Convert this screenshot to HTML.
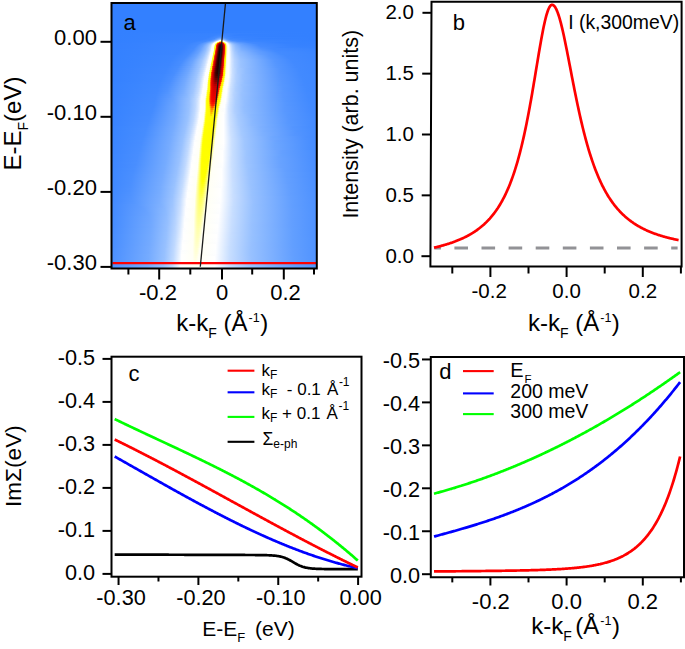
<!DOCTYPE html>
<html><head><meta charset="utf-8"><style>
html,body{margin:0;padding:0;background:#fff;width:685px;height:649px;overflow:hidden}
svg{display:block}
text{font-family:"Liberation Sans", sans-serif;fill:#000}
</style></head><body>
<svg width="685" height="649" viewBox="0 0 685 649">
<defs>
<linearGradient id="g0"><stop offset="0.0000" stop-color="#3380ff"/><stop offset="0.5805" stop-color="#3481ff"/><stop offset="1.0000" stop-color="#3380ff"/></linearGradient>
<linearGradient id="g1"><stop offset="0.0000" stop-color="#3380ff"/><stop offset="0.5073" stop-color="#3682ff"/><stop offset="0.5512" stop-color="#3883ff"/><stop offset="0.8537" stop-color="#3380ff"/><stop offset="1.0000" stop-color="#3380ff"/></linearGradient>
<linearGradient id="g2"><stop offset="0.0000" stop-color="#3380ff"/><stop offset="0.5024" stop-color="#3783ff"/><stop offset="0.5415" stop-color="#3c86ff"/><stop offset="0.6244" stop-color="#3481ff"/><stop offset="1.0000" stop-color="#3380ff"/></linearGradient>
<linearGradient id="g3"><stop offset="0.0000" stop-color="#3380ff"/><stop offset="0.4927" stop-color="#3783ff"/><stop offset="0.5366" stop-color="#4189ff"/><stop offset="0.6000" stop-color="#3581ff"/><stop offset="1.0000" stop-color="#3380ff"/></linearGradient>
<linearGradient id="g4"><stop offset="0.0000" stop-color="#3380ff"/><stop offset="0.4829" stop-color="#3783ff"/><stop offset="0.5220" stop-color="#448bff"/><stop offset="0.5366" stop-color="#4b8fff"/><stop offset="0.5707" stop-color="#3a84ff"/><stop offset="0.7561" stop-color="#3380ff"/><stop offset="1.0000" stop-color="#3380ff"/></linearGradient>
<linearGradient id="g5"><stop offset="0.0000" stop-color="#3380ff"/><stop offset="0.4732" stop-color="#3883ff"/><stop offset="0.5122" stop-color="#458cff"/><stop offset="0.5317" stop-color="#5d9bff"/><stop offset="0.5415" stop-color="#5898ff"/><stop offset="0.5561" stop-color="#438bff"/><stop offset="0.6000" stop-color="#3883ff"/><stop offset="1.0000" stop-color="#3380ff"/></linearGradient>
<linearGradient id="g6"><stop offset="0.0000" stop-color="#3380ff"/><stop offset="0.4585" stop-color="#3883ff"/><stop offset="0.5024" stop-color="#448bff"/><stop offset="0.5268" stop-color="#74aaff"/><stop offset="0.5317" stop-color="#79adff"/><stop offset="0.5366" stop-color="#78acff"/><stop offset="0.5610" stop-color="#498eff"/><stop offset="0.5805" stop-color="#3d87ff"/><stop offset="0.7220" stop-color="#3481ff"/><stop offset="1.0000" stop-color="#3380ff"/></linearGradient>
<linearGradient id="g7"><stop offset="0.0000" stop-color="#3380ff"/><stop offset="0.4439" stop-color="#3883ff"/><stop offset="0.4878" stop-color="#428aff"/><stop offset="0.5024" stop-color="#5596ff"/><stop offset="0.5122" stop-color="#6ea6ff"/><stop offset="0.5268" stop-color="#a0c6ff"/><stop offset="0.5317" stop-color="#a9cbff"/><stop offset="0.5366" stop-color="#a6caff"/><stop offset="0.5610" stop-color="#5b9aff"/><stop offset="0.5756" stop-color="#448bff"/><stop offset="0.6537" stop-color="#3883ff"/><stop offset="1.0000" stop-color="#3380ff"/></linearGradient>
<linearGradient id="g8"><stop offset="0.0000" stop-color="#3380ff"/><stop offset="0.4293" stop-color="#3984ff"/><stop offset="0.4780" stop-color="#468cff"/><stop offset="0.4976" stop-color="#649fff"/><stop offset="0.5073" stop-color="#86b5ff"/><stop offset="0.5122" stop-color="#9dc4ff"/><stop offset="0.5268" stop-color="#fafcff"/><stop offset="0.5366" stop-color="#ffffff"/><stop offset="0.5415" stop-color="#ecf4ff"/><stop offset="0.5512" stop-color="#abcdff"/><stop offset="0.5610" stop-color="#7bafff"/><stop offset="0.5707" stop-color="#5e9cff"/><stop offset="0.5902" stop-color="#478dff"/><stop offset="0.6585" stop-color="#3a85ff"/><stop offset="0.9707" stop-color="#3380ff"/><stop offset="1.0000" stop-color="#3380ff"/></linearGradient>
<linearGradient id="g9"><stop offset="0.0000" stop-color="#3380ff"/><stop offset="0.4049" stop-color="#3984ff"/><stop offset="0.4585" stop-color="#448bff"/><stop offset="0.4829" stop-color="#64a0ff"/><stop offset="0.4927" stop-color="#7bafff"/><stop offset="0.4976" stop-color="#8cbaff"/><stop offset="0.5024" stop-color="#a6c9ff"/><stop offset="0.5073" stop-color="#c8deff"/><stop offset="0.5122" stop-color="#f8fbff"/><stop offset="0.5171" stop-color="#fffffb"/><stop offset="0.5220" stop-color="#fffff6"/><stop offset="0.5268" stop-color="#ffff66"/><stop offset="0.5317" stop-color="#ffff00"/><stop offset="0.5366" stop-color="#ffff28"/><stop offset="0.5415" stop-color="#ffffc0"/><stop offset="0.5463" stop-color="#fffff8"/><stop offset="0.5512" stop-color="#fffffe"/><stop offset="0.5610" stop-color="#b3d2ff"/><stop offset="0.5659" stop-color="#96c0ff"/><stop offset="0.5707" stop-color="#81b3ff"/><stop offset="0.5854" stop-color="#629eff"/><stop offset="0.6146" stop-color="#498eff"/><stop offset="0.6829" stop-color="#3c86ff"/><stop offset="0.9366" stop-color="#3481ff"/><stop offset="1.0000" stop-color="#3480ff"/></linearGradient>
<linearGradient id="g10"><stop offset="0.0000" stop-color="#3380ff"/><stop offset="0.3902" stop-color="#3a84ff"/><stop offset="0.4439" stop-color="#478dff"/><stop offset="0.4683" stop-color="#64a0ff"/><stop offset="0.4829" stop-color="#85b5ff"/><stop offset="0.4927" stop-color="#a8cbff"/><stop offset="0.4976" stop-color="#c5dcff"/><stop offset="0.5024" stop-color="#f2f7ff"/><stop offset="0.5073" stop-color="#fffffb"/><stop offset="0.5122" stop-color="#ffffe5"/><stop offset="0.5171" stop-color="#fffd00"/><stop offset="0.5220" stop-color="#ffb700"/><stop offset="0.5268" stop-color="#f30900"/><stop offset="0.5317" stop-color="#e70000"/><stop offset="0.5366" stop-color="#ee0000"/><stop offset="0.5415" stop-color="#ff4a00"/><stop offset="0.5463" stop-color="#fffb00"/><stop offset="0.5512" stop-color="#ffff8a"/><stop offset="0.5561" stop-color="#fffff9"/><stop offset="0.5610" stop-color="#fffffe"/><stop offset="0.5659" stop-color="#d2e4ff"/><stop offset="0.5707" stop-color="#b0d0ff"/><stop offset="0.5756" stop-color="#9bc3ff"/><stop offset="0.5902" stop-color="#77acff"/><stop offset="0.6098" stop-color="#5f9cff"/><stop offset="0.6634" stop-color="#448bff"/><stop offset="0.8146" stop-color="#3682ff"/><stop offset="1.0000" stop-color="#3481ff"/></linearGradient>
<linearGradient id="g11"><stop offset="0.0000" stop-color="#3480ff"/><stop offset="0.3756" stop-color="#3a85ff"/><stop offset="0.4293" stop-color="#458cff"/><stop offset="0.4585" stop-color="#66a1ff"/><stop offset="0.4780" stop-color="#93beff"/><stop offset="0.4878" stop-color="#b9d5ff"/><stop offset="0.4927" stop-color="#d3e5ff"/><stop offset="0.4976" stop-color="#ffffff"/><stop offset="0.5024" stop-color="#fffffa"/><stop offset="0.5073" stop-color="#ffffa8"/><stop offset="0.5122" stop-color="#fffb00"/><stop offset="0.5171" stop-color="#fa1c00"/><stop offset="0.5220" stop-color="#d20000"/><stop offset="0.5268" stop-color="#a50000"/><stop offset="0.5317" stop-color="#8a0000"/><stop offset="0.5366" stop-color="#9b0000"/><stop offset="0.5415" stop-color="#ca0000"/><stop offset="0.5463" stop-color="#f30700"/><stop offset="0.5512" stop-color="#fff900"/><stop offset="0.5561" stop-color="#ffff66"/><stop offset="0.5610" stop-color="#fffff8"/><stop offset="0.5659" stop-color="#fffffe"/><stop offset="0.5707" stop-color="#dbe9ff"/><stop offset="0.5756" stop-color="#bfd9ff"/><stop offset="0.5854" stop-color="#9ac2ff"/><stop offset="0.6000" stop-color="#7cafff"/><stop offset="0.6244" stop-color="#639fff"/><stop offset="0.6927" stop-color="#438aff"/><stop offset="0.8488" stop-color="#3682ff"/><stop offset="1.0000" stop-color="#3481ff"/></linearGradient>
<linearGradient id="g12"><stop offset="0.0000" stop-color="#3480ff"/><stop offset="0.3659" stop-color="#3a85ff"/><stop offset="0.4195" stop-color="#458bff"/><stop offset="0.4488" stop-color="#629fff"/><stop offset="0.4683" stop-color="#89b7ff"/><stop offset="0.4780" stop-color="#a6caff"/><stop offset="0.4878" stop-color="#d2e4ff"/><stop offset="0.4927" stop-color="#f3f8ff"/><stop offset="0.4976" stop-color="#fffffc"/><stop offset="0.5024" stop-color="#fffff5"/><stop offset="0.5073" stop-color="#fffe00"/><stop offset="0.5122" stop-color="#ff7b00"/><stop offset="0.5171" stop-color="#da0000"/><stop offset="0.5268" stop-color="#590000"/><stop offset="0.5317" stop-color="#440000"/><stop offset="0.5366" stop-color="#550000"/><stop offset="0.5463" stop-color="#d60000"/><stop offset="0.5512" stop-color="#ff5100"/><stop offset="0.5561" stop-color="#fffd00"/><stop offset="0.5610" stop-color="#ffffef"/><stop offset="0.5659" stop-color="#fffffb"/><stop offset="0.5707" stop-color="#f7faff"/><stop offset="0.5756" stop-color="#d6e6ff"/><stop offset="0.5854" stop-color="#accdff"/><stop offset="0.5951" stop-color="#92bdff"/><stop offset="0.6146" stop-color="#76abff"/><stop offset="0.6488" stop-color="#5d9bff"/><stop offset="0.7171" stop-color="#428aff"/><stop offset="0.8878" stop-color="#3682ff"/><stop offset="1.0000" stop-color="#3581ff"/></linearGradient>
<linearGradient id="g13"><stop offset="0.0000" stop-color="#3480ff"/><stop offset="0.3610" stop-color="#3b85ff"/><stop offset="0.4146" stop-color="#468cff"/><stop offset="0.4439" stop-color="#639fff"/><stop offset="0.4634" stop-color="#87b6ff"/><stop offset="0.4732" stop-color="#a1c6ff"/><stop offset="0.4829" stop-color="#c7ddff"/><stop offset="0.4927" stop-color="#fffffe"/><stop offset="0.4976" stop-color="#fffff9"/><stop offset="0.5024" stop-color="#ffffa5"/><stop offset="0.5073" stop-color="#fffb00"/><stop offset="0.5122" stop-color="#f81400"/><stop offset="0.5171" stop-color="#c70000"/><stop offset="0.5220" stop-color="#740000"/><stop offset="0.5268" stop-color="#3b0000"/><stop offset="0.5317" stop-color="#290000"/><stop offset="0.5366" stop-color="#3c0000"/><stop offset="0.5415" stop-color="#780000"/><stop offset="0.5463" stop-color="#c90000"/><stop offset="0.5512" stop-color="#f91800"/><stop offset="0.5561" stop-color="#fffb00"/><stop offset="0.5610" stop-color="#ffffb0"/><stop offset="0.5659" stop-color="#fffffa"/><stop offset="0.5707" stop-color="#ffffff"/><stop offset="0.5805" stop-color="#c8deff"/><stop offset="0.5902" stop-color="#a6caff"/><stop offset="0.6049" stop-color="#89b7ff"/><stop offset="0.6341" stop-color="#6ba4ff"/><stop offset="0.7171" stop-color="#448bff"/><stop offset="0.8780" stop-color="#3782ff"/><stop offset="1.0000" stop-color="#3581ff"/></linearGradient>
<linearGradient id="g14"><stop offset="0.0000" stop-color="#3480ff"/><stop offset="0.3561" stop-color="#3b85ff"/><stop offset="0.4098" stop-color="#468cff"/><stop offset="0.4439" stop-color="#68a2ff"/><stop offset="0.4683" stop-color="#99c2ff"/><stop offset="0.4780" stop-color="#bad6ff"/><stop offset="0.4829" stop-color="#cfe2ff"/><stop offset="0.4878" stop-color="#edf4ff"/><stop offset="0.4927" stop-color="#fffffd"/><stop offset="0.4976" stop-color="#fffff8"/><stop offset="0.5024" stop-color="#ffff60"/><stop offset="0.5073" stop-color="#fff900"/><stop offset="0.5122" stop-color="#ee0000"/><stop offset="0.5171" stop-color="#b80000"/><stop offset="0.5220" stop-color="#5e0000"/><stop offset="0.5268" stop-color="#2c0000"/><stop offset="0.5317" stop-color="#1c0000"/><stop offset="0.5366" stop-color="#310000"/><stop offset="0.5415" stop-color="#6b0000"/><stop offset="0.5463" stop-color="#c30000"/><stop offset="0.5512" stop-color="#f50e00"/><stop offset="0.5561" stop-color="#fffb00"/><stop offset="0.5610" stop-color="#ffff95"/><stop offset="0.5659" stop-color="#fffff9"/><stop offset="0.5707" stop-color="#fffffe"/><stop offset="0.5805" stop-color="#cde1ff"/><stop offset="0.5902" stop-color="#abcdff"/><stop offset="0.6049" stop-color="#8dbaff"/><stop offset="0.6341" stop-color="#70a7ff"/><stop offset="0.7268" stop-color="#458bff"/><stop offset="0.8878" stop-color="#3783ff"/><stop offset="1.0000" stop-color="#3682ff"/></linearGradient>
<linearGradient id="g15"><stop offset="0.0000" stop-color="#3480ff"/><stop offset="0.3512" stop-color="#3b85ff"/><stop offset="0.4049" stop-color="#458cff"/><stop offset="0.4390" stop-color="#66a1ff"/><stop offset="0.4634" stop-color="#92bdff"/><stop offset="0.4780" stop-color="#c0d9ff"/><stop offset="0.4829" stop-color="#d6e7ff"/><stop offset="0.4878" stop-color="#f4f9ff"/><stop offset="0.4927" stop-color="#fffffd"/><stop offset="0.4976" stop-color="#fffff7"/><stop offset="0.5024" stop-color="#ffff22"/><stop offset="0.5073" stop-color="#fff800"/><stop offset="0.5122" stop-color="#e70000"/><stop offset="0.5171" stop-color="#a90000"/><stop offset="0.5220" stop-color="#4f0000"/><stop offset="0.5268" stop-color="#230000"/><stop offset="0.5317" stop-color="#160000"/><stop offset="0.5366" stop-color="#2d0000"/><stop offset="0.5415" stop-color="#670000"/><stop offset="0.5463" stop-color="#c20000"/><stop offset="0.5512" stop-color="#f40b00"/><stop offset="0.5561" stop-color="#fffa00"/><stop offset="0.5610" stop-color="#ffff8b"/><stop offset="0.5659" stop-color="#fffff9"/><stop offset="0.5707" stop-color="#fffffe"/><stop offset="0.5756" stop-color="#ecf4ff"/><stop offset="0.5805" stop-color="#d1e3ff"/><stop offset="0.5902" stop-color="#afcfff"/><stop offset="0.6049" stop-color="#91bcff"/><stop offset="0.6341" stop-color="#74aaff"/><stop offset="0.7268" stop-color="#498eff"/><stop offset="0.8244" stop-color="#3b85ff"/><stop offset="1.0000" stop-color="#3682ff"/></linearGradient>
<linearGradient id="g16"><stop offset="0.0000" stop-color="#3480ff"/><stop offset="0.3463" stop-color="#3b85ff"/><stop offset="0.4000" stop-color="#458cff"/><stop offset="0.4341" stop-color="#64a0ff"/><stop offset="0.4585" stop-color="#8cb9ff"/><stop offset="0.4732" stop-color="#b3d1ff"/><stop offset="0.4829" stop-color="#dceaff"/><stop offset="0.4878" stop-color="#fafcff"/><stop offset="0.4976" stop-color="#fffff6"/><stop offset="0.5024" stop-color="#ffff00"/><stop offset="0.5073" stop-color="#ffc200"/><stop offset="0.5122" stop-color="#e00000"/><stop offset="0.5171" stop-color="#9d0000"/><stop offset="0.5220" stop-color="#470000"/><stop offset="0.5268" stop-color="#1d0000"/><stop offset="0.5317" stop-color="#120000"/><stop offset="0.5366" stop-color="#2b0000"/><stop offset="0.5415" stop-color="#660000"/><stop offset="0.5463" stop-color="#c20000"/><stop offset="0.5512" stop-color="#f40c00"/><stop offset="0.5561" stop-color="#fffa00"/><stop offset="0.5610" stop-color="#ffff8a"/><stop offset="0.5659" stop-color="#fffff9"/><stop offset="0.5707" stop-color="#fffffe"/><stop offset="0.5756" stop-color="#eef5ff"/><stop offset="0.5805" stop-color="#d4e5ff"/><stop offset="0.5902" stop-color="#b2d1ff"/><stop offset="0.6049" stop-color="#94beff"/><stop offset="0.6341" stop-color="#78adff"/><stop offset="0.7268" stop-color="#4d91ff"/><stop offset="0.7805" stop-color="#4189ff"/><stop offset="1.0000" stop-color="#3783ff"/></linearGradient>
<linearGradient id="g17"><stop offset="0.0000" stop-color="#3481ff"/><stop offset="0.3415" stop-color="#3b85ff"/><stop offset="0.4000" stop-color="#488dff"/><stop offset="0.4341" stop-color="#67a2ff"/><stop offset="0.4585" stop-color="#90bcff"/><stop offset="0.4732" stop-color="#b7d4ff"/><stop offset="0.4780" stop-color="#c9deff"/><stop offset="0.4878" stop-color="#ffffff"/><stop offset="0.4976" stop-color="#fffff5"/><stop offset="0.5024" stop-color="#fffe00"/><stop offset="0.5073" stop-color="#ff8f00"/><stop offset="0.5122" stop-color="#db0000"/><stop offset="0.5171" stop-color="#930000"/><stop offset="0.5220" stop-color="#410000"/><stop offset="0.5268" stop-color="#180000"/><stop offset="0.5317" stop-color="#100000"/><stop offset="0.5366" stop-color="#2b0000"/><stop offset="0.5415" stop-color="#680000"/><stop offset="0.5463" stop-color="#c30000"/><stop offset="0.5512" stop-color="#f50e00"/><stop offset="0.5561" stop-color="#fffa00"/><stop offset="0.5610" stop-color="#ffff8d"/><stop offset="0.5659" stop-color="#fffff9"/><stop offset="0.5707" stop-color="#fffffd"/><stop offset="0.5756" stop-color="#f0f6ff"/><stop offset="0.5805" stop-color="#d6e6ff"/><stop offset="0.5902" stop-color="#b4d2ff"/><stop offset="0.6049" stop-color="#97c0ff"/><stop offset="0.6341" stop-color="#7cafff"/><stop offset="0.7317" stop-color="#5093ff"/><stop offset="0.7902" stop-color="#4189ff"/><stop offset="1.0000" stop-color="#3984ff"/></linearGradient>
<linearGradient id="g18"><stop offset="0.0000" stop-color="#3481ff"/><stop offset="0.3366" stop-color="#3b85ff"/><stop offset="0.3951" stop-color="#478dff"/><stop offset="0.4341" stop-color="#6ca5ff"/><stop offset="0.4585" stop-color="#94bfff"/><stop offset="0.4732" stop-color="#bcd7ff"/><stop offset="0.4780" stop-color="#cee2ff"/><stop offset="0.4878" stop-color="#fffffe"/><stop offset="0.4927" stop-color="#fffffa"/><stop offset="0.4976" stop-color="#ffffdc"/><stop offset="0.5024" stop-color="#fffd00"/><stop offset="0.5073" stop-color="#ff4700"/><stop offset="0.5122" stop-color="#d40000"/><stop offset="0.5220" stop-color="#3b0000"/><stop offset="0.5268" stop-color="#150000"/><stop offset="0.5317" stop-color="#100000"/><stop offset="0.5366" stop-color="#2e0000"/><stop offset="0.5415" stop-color="#6e0000"/><stop offset="0.5463" stop-color="#c60000"/><stop offset="0.5512" stop-color="#f71300"/><stop offset="0.5561" stop-color="#fffb00"/><stop offset="0.5610" stop-color="#ffff95"/><stop offset="0.5659" stop-color="#fffff9"/><stop offset="0.5707" stop-color="#fffffd"/><stop offset="0.5756" stop-color="#f1f6ff"/><stop offset="0.5805" stop-color="#d7e7ff"/><stop offset="0.5902" stop-color="#b6d3ff"/><stop offset="0.6049" stop-color="#99c2ff"/><stop offset="0.6341" stop-color="#80b2ff"/><stop offset="0.7415" stop-color="#5193ff"/><stop offset="0.8049" stop-color="#4289ff"/><stop offset="1.0000" stop-color="#3a84ff"/></linearGradient>
<linearGradient id="g19"><stop offset="0.0000" stop-color="#3481ff"/><stop offset="0.3317" stop-color="#3b85ff"/><stop offset="0.3902" stop-color="#478dff"/><stop offset="0.4293" stop-color="#6aa4ff"/><stop offset="0.4585" stop-color="#99c2ff"/><stop offset="0.4732" stop-color="#c2dbff"/><stop offset="0.4780" stop-color="#d6e6ff"/><stop offset="0.4829" stop-color="#f0f6ff"/><stop offset="0.4878" stop-color="#fffffd"/><stop offset="0.4927" stop-color="#fffff9"/><stop offset="0.4976" stop-color="#ffffa1"/><stop offset="0.5024" stop-color="#fffb00"/><stop offset="0.5073" stop-color="#fa1b00"/><stop offset="0.5122" stop-color="#ca0000"/><stop offset="0.5171" stop-color="#770000"/><stop offset="0.5220" stop-color="#330000"/><stop offset="0.5268" stop-color="#120000"/><stop offset="0.5317" stop-color="#120000"/><stop offset="0.5366" stop-color="#330000"/><stop offset="0.5415" stop-color="#770000"/><stop offset="0.5463" stop-color="#ca0000"/><stop offset="0.5512" stop-color="#fa1a00"/><stop offset="0.5561" stop-color="#fffb00"/><stop offset="0.5610" stop-color="#ffffa0"/><stop offset="0.5659" stop-color="#fffff9"/><stop offset="0.5707" stop-color="#fffffd"/><stop offset="0.5756" stop-color="#f2f7ff"/><stop offset="0.5854" stop-color="#c6ddff"/><stop offset="0.6000" stop-color="#a4c8ff"/><stop offset="0.6195" stop-color="#8dbaff"/><stop offset="0.7024" stop-color="#649fff"/><stop offset="0.8000" stop-color="#438bff"/><stop offset="1.0000" stop-color="#3a85ff"/></linearGradient>
<linearGradient id="g20"><stop offset="0.0000" stop-color="#3481ff"/><stop offset="0.3268" stop-color="#3b85ff"/><stop offset="0.3854" stop-color="#478dff"/><stop offset="0.4244" stop-color="#69a3ff"/><stop offset="0.4537" stop-color="#95bfff"/><stop offset="0.4683" stop-color="#b8d5ff"/><stop offset="0.4780" stop-color="#deebff"/><stop offset="0.4829" stop-color="#f8fbff"/><stop offset="0.4878" stop-color="#fffffd"/><stop offset="0.4927" stop-color="#fffff8"/><stop offset="0.4976" stop-color="#ffff60"/><stop offset="0.5024" stop-color="#fffa00"/><stop offset="0.5073" stop-color="#f30700"/><stop offset="0.5122" stop-color="#c20000"/><stop offset="0.5171" stop-color="#690000"/><stop offset="0.5220" stop-color="#2d0000"/><stop offset="0.5268" stop-color="#110000"/><stop offset="0.5317" stop-color="#150000"/><stop offset="0.5366" stop-color="#390000"/><stop offset="0.5415" stop-color="#800000"/><stop offset="0.5463" stop-color="#cf0000"/><stop offset="0.5512" stop-color="#fd2200"/><stop offset="0.5561" stop-color="#fffc00"/><stop offset="0.5610" stop-color="#ffffac"/><stop offset="0.5659" stop-color="#fffff9"/><stop offset="0.5707" stop-color="#fffffd"/><stop offset="0.5756" stop-color="#f2f7ff"/><stop offset="0.5854" stop-color="#c8deff"/><stop offset="0.6000" stop-color="#a7caff"/><stop offset="0.6195" stop-color="#90bcff"/><stop offset="0.7122" stop-color="#639fff"/><stop offset="0.8098" stop-color="#448bff"/><stop offset="1.0000" stop-color="#3b85ff"/></linearGradient>
<linearGradient id="g21"><stop offset="0.0000" stop-color="#3481ff"/><stop offset="0.3220" stop-color="#3b85ff"/><stop offset="0.3805" stop-color="#478dff"/><stop offset="0.4195" stop-color="#67a2ff"/><stop offset="0.4537" stop-color="#99c2ff"/><stop offset="0.4683" stop-color="#bed8ff"/><stop offset="0.4732" stop-color="#cee2ff"/><stop offset="0.4829" stop-color="#ffffff"/><stop offset="0.4927" stop-color="#fffff6"/><stop offset="0.4976" stop-color="#ffff11"/><stop offset="0.5024" stop-color="#fff800"/><stop offset="0.5073" stop-color="#ea0000"/><stop offset="0.5122" stop-color="#b50000"/><stop offset="0.5171" stop-color="#5c0000"/><stop offset="0.5220" stop-color="#280000"/><stop offset="0.5268" stop-color="#100000"/><stop offset="0.5317" stop-color="#190000"/><stop offset="0.5366" stop-color="#3f0000"/><stop offset="0.5463" stop-color="#d30000"/><stop offset="0.5512" stop-color="#ff2e00"/><stop offset="0.5561" stop-color="#fffc00"/><stop offset="0.5610" stop-color="#ffffb8"/><stop offset="0.5659" stop-color="#fffff9"/><stop offset="0.5707" stop-color="#fffffd"/><stop offset="0.5756" stop-color="#f3f8ff"/><stop offset="0.5854" stop-color="#cadfff"/><stop offset="0.6000" stop-color="#a9cbff"/><stop offset="0.6195" stop-color="#93beff"/><stop offset="0.7220" stop-color="#629eff"/><stop offset="0.8195" stop-color="#448bff"/><stop offset="1.0000" stop-color="#3b85ff"/></linearGradient>
<linearGradient id="g22"><stop offset="0.0000" stop-color="#3481ff"/><stop offset="0.3171" stop-color="#3b85ff"/><stop offset="0.3756" stop-color="#478dff"/><stop offset="0.4195" stop-color="#6ca5ff"/><stop offset="0.4537" stop-color="#9ec5ff"/><stop offset="0.4683" stop-color="#c3dbff"/><stop offset="0.4829" stop-color="#fffffe"/><stop offset="0.4927" stop-color="#fffff5"/><stop offset="0.4976" stop-color="#fffe00"/><stop offset="0.5024" stop-color="#ffaf00"/><stop offset="0.5073" stop-color="#e20000"/><stop offset="0.5122" stop-color="#a60000"/><stop offset="0.5171" stop-color="#500000"/><stop offset="0.5220" stop-color="#230000"/><stop offset="0.5268" stop-color="#100000"/><stop offset="0.5317" stop-color="#1d0000"/><stop offset="0.5366" stop-color="#450000"/><stop offset="0.5415" stop-color="#930000"/><stop offset="0.5463" stop-color="#d80000"/><stop offset="0.5512" stop-color="#ff5000"/><stop offset="0.5561" stop-color="#fffc00"/><stop offset="0.5610" stop-color="#ffffc5"/><stop offset="0.5659" stop-color="#fffffa"/><stop offset="0.5707" stop-color="#fffffe"/><stop offset="0.5756" stop-color="#f4f8ff"/><stop offset="0.5854" stop-color="#cbe0ff"/><stop offset="0.6000" stop-color="#abcdff"/><stop offset="0.6195" stop-color="#95bfff"/><stop offset="0.7317" stop-color="#609dff"/><stop offset="0.8293" stop-color="#438bff"/><stop offset="1.0000" stop-color="#3c86ff"/></linearGradient>
<linearGradient id="g23"><stop offset="0.0000" stop-color="#3481ff"/><stop offset="0.3122" stop-color="#3c86ff"/><stop offset="0.3707" stop-color="#478dff"/><stop offset="0.4146" stop-color="#6aa4ff"/><stop offset="0.4488" stop-color="#99c2ff"/><stop offset="0.4683" stop-color="#c9dfff"/><stop offset="0.4780" stop-color="#f4f8ff"/><stop offset="0.4829" stop-color="#fffffd"/><stop offset="0.4878" stop-color="#fffffa"/><stop offset="0.4927" stop-color="#ffffc4"/><stop offset="0.4976" stop-color="#fffd00"/><stop offset="0.5024" stop-color="#ff5c00"/><stop offset="0.5073" stop-color="#d90000"/><stop offset="0.5122" stop-color="#980000"/><stop offset="0.5171" stop-color="#490000"/><stop offset="0.5220" stop-color="#200000"/><stop offset="0.5268" stop-color="#110000"/><stop offset="0.5317" stop-color="#210000"/><stop offset="0.5366" stop-color="#4b0000"/><stop offset="0.5415" stop-color="#9c0000"/><stop offset="0.5463" stop-color="#dc0000"/><stop offset="0.5512" stop-color="#ff7200"/><stop offset="0.5561" stop-color="#fffd00"/><stop offset="0.5610" stop-color="#ffffd1"/><stop offset="0.5659" stop-color="#fffffa"/><stop offset="0.5707" stop-color="#fffffe"/><stop offset="0.5756" stop-color="#f4f8ff"/><stop offset="0.5854" stop-color="#cce1ff"/><stop offset="0.6000" stop-color="#adceff"/><stop offset="0.6244" stop-color="#94beff"/><stop offset="0.7659" stop-color="#5697ff"/><stop offset="0.8488" stop-color="#428aff"/><stop offset="1.0000" stop-color="#3c86ff"/></linearGradient>
<linearGradient id="g24"><stop offset="0.0000" stop-color="#3481ff"/><stop offset="0.3073" stop-color="#3c86ff"/><stop offset="0.3659" stop-color="#478dff"/><stop offset="0.4098" stop-color="#69a3ff"/><stop offset="0.4488" stop-color="#9ec5ff"/><stop offset="0.4634" stop-color="#c0d9ff"/><stop offset="0.4732" stop-color="#e3eeff"/><stop offset="0.4780" stop-color="#fbfcff"/><stop offset="0.4878" stop-color="#fffff8"/><stop offset="0.4927" stop-color="#ffff8f"/><stop offset="0.4976" stop-color="#fffb00"/><stop offset="0.5024" stop-color="#fd2100"/><stop offset="0.5073" stop-color="#d10000"/><stop offset="0.5171" stop-color="#420000"/><stop offset="0.5220" stop-color="#1d0000"/><stop offset="0.5268" stop-color="#130000"/><stop offset="0.5317" stop-color="#260000"/><stop offset="0.5366" stop-color="#530000"/><stop offset="0.5415" stop-color="#a60000"/><stop offset="0.5463" stop-color="#e00000"/><stop offset="0.5512" stop-color="#ff9300"/><stop offset="0.5561" stop-color="#fffd00"/><stop offset="0.5610" stop-color="#ffffdd"/><stop offset="0.5659" stop-color="#fffffa"/><stop offset="0.5707" stop-color="#fffffe"/><stop offset="0.5756" stop-color="#f4f9ff"/><stop offset="0.5854" stop-color="#cee1ff"/><stop offset="0.6000" stop-color="#afcfff"/><stop offset="0.6244" stop-color="#96c0ff"/><stop offset="0.7707" stop-color="#5697ff"/><stop offset="0.8537" stop-color="#438aff"/><stop offset="1.0000" stop-color="#3c86ff"/></linearGradient>
<linearGradient id="g25"><stop offset="0.0000" stop-color="#3481ff"/><stop offset="0.3024" stop-color="#3c86ff"/><stop offset="0.3610" stop-color="#478dff"/><stop offset="0.4098" stop-color="#6da6ff"/><stop offset="0.4439" stop-color="#9ac2ff"/><stop offset="0.4634" stop-color="#c5dcff"/><stop offset="0.4732" stop-color="#e9f2ff"/><stop offset="0.4780" stop-color="#ffffff"/><stop offset="0.4878" stop-color="#fffff7"/><stop offset="0.4927" stop-color="#ffff4f"/><stop offset="0.4976" stop-color="#fffa00"/><stop offset="0.5024" stop-color="#f61000"/><stop offset="0.5073" stop-color="#ca0000"/><stop offset="0.5122" stop-color="#7e0000"/><stop offset="0.5171" stop-color="#3c0000"/><stop offset="0.5220" stop-color="#1b0000"/><stop offset="0.5268" stop-color="#150000"/><stop offset="0.5317" stop-color="#2b0000"/><stop offset="0.5366" stop-color="#5c0000"/><stop offset="0.5415" stop-color="#af0000"/><stop offset="0.5463" stop-color="#e40000"/><stop offset="0.5512" stop-color="#ffb300"/><stop offset="0.5561" stop-color="#fffe00"/><stop offset="0.5610" stop-color="#ffffe9"/><stop offset="0.5659" stop-color="#fffffa"/><stop offset="0.5707" stop-color="#fffffe"/><stop offset="0.5756" stop-color="#f5f9ff"/><stop offset="0.5854" stop-color="#cfe2ff"/><stop offset="0.6000" stop-color="#b1d0ff"/><stop offset="0.6244" stop-color="#98c1ff"/><stop offset="0.7756" stop-color="#5697ff"/><stop offset="0.8585" stop-color="#438aff"/><stop offset="1.0000" stop-color="#3c86ff"/></linearGradient>
<linearGradient id="g26"><stop offset="0.0000" stop-color="#3481ff"/><stop offset="0.2976" stop-color="#3c86ff"/><stop offset="0.3561" stop-color="#478dff"/><stop offset="0.4049" stop-color="#6ca5ff"/><stop offset="0.4439" stop-color="#9ec5ff"/><stop offset="0.4634" stop-color="#cadfff"/><stop offset="0.4780" stop-color="#fffffe"/><stop offset="0.4878" stop-color="#fffff6"/><stop offset="0.4927" stop-color="#ffff07"/><stop offset="0.4976" stop-color="#fff800"/><stop offset="0.5024" stop-color="#ef0000"/><stop offset="0.5073" stop-color="#c20000"/><stop offset="0.5122" stop-color="#720000"/><stop offset="0.5171" stop-color="#370000"/><stop offset="0.5220" stop-color="#190000"/><stop offset="0.5268" stop-color="#170000"/><stop offset="0.5317" stop-color="#310000"/><stop offset="0.5366" stop-color="#650000"/><stop offset="0.5415" stop-color="#b80000"/><stop offset="0.5463" stop-color="#e80000"/><stop offset="0.5512" stop-color="#ffd300"/><stop offset="0.5561" stop-color="#fffe00"/><stop offset="0.5610" stop-color="#fffff4"/><stop offset="0.5707" stop-color="#fffffe"/><stop offset="0.5756" stop-color="#f5f9ff"/><stop offset="0.5854" stop-color="#d0e3ff"/><stop offset="0.6000" stop-color="#b3d1ff"/><stop offset="0.6244" stop-color="#9ac2ff"/><stop offset="0.7805" stop-color="#5697ff"/><stop offset="0.8683" stop-color="#428aff"/><stop offset="1.0000" stop-color="#3d86ff"/></linearGradient>
<linearGradient id="g27"><stop offset="0.0000" stop-color="#3481ff"/><stop offset="0.2927" stop-color="#3c86ff"/><stop offset="0.3512" stop-color="#478dff"/><stop offset="0.4000" stop-color="#6ba4ff"/><stop offset="0.4439" stop-color="#a3c8ff"/><stop offset="0.4634" stop-color="#cfe2ff"/><stop offset="0.4732" stop-color="#f6faff"/><stop offset="0.4780" stop-color="#fffffe"/><stop offset="0.4829" stop-color="#fffffa"/><stop offset="0.4878" stop-color="#ffffe7"/><stop offset="0.4927" stop-color="#fffe00"/><stop offset="0.4976" stop-color="#ffc600"/><stop offset="0.5024" stop-color="#e80000"/><stop offset="0.5073" stop-color="#b80000"/><stop offset="0.5122" stop-color="#660000"/><stop offset="0.5171" stop-color="#320000"/><stop offset="0.5220" stop-color="#190000"/><stop offset="0.5268" stop-color="#1a0000"/><stop offset="0.5317" stop-color="#360000"/><stop offset="0.5366" stop-color="#6e0000"/><stop offset="0.5415" stop-color="#bf0000"/><stop offset="0.5463" stop-color="#ec0000"/><stop offset="0.5512" stop-color="#fff100"/><stop offset="0.5561" stop-color="#ffff00"/><stop offset="0.5610" stop-color="#fffff5"/><stop offset="0.5707" stop-color="#fffffe"/><stop offset="0.5756" stop-color="#f6f9ff"/><stop offset="0.5854" stop-color="#d2e4ff"/><stop offset="0.6000" stop-color="#b5d2ff"/><stop offset="0.6244" stop-color="#9cc4ff"/><stop offset="0.7854" stop-color="#5797ff"/><stop offset="0.8732" stop-color="#438aff"/><stop offset="1.0000" stop-color="#3d86ff"/></linearGradient>
<linearGradient id="g28"><stop offset="0.0000" stop-color="#3481ff"/><stop offset="0.2927" stop-color="#3c86ff"/><stop offset="0.3463" stop-color="#478dff"/><stop offset="0.3951" stop-color="#69a3ff"/><stop offset="0.4390" stop-color="#9ec5ff"/><stop offset="0.4585" stop-color="#c5dcff"/><stop offset="0.4683" stop-color="#e6f0ff"/><stop offset="0.4732" stop-color="#fcfdff"/><stop offset="0.4829" stop-color="#fffff9"/><stop offset="0.4878" stop-color="#ffffb6"/><stop offset="0.4927" stop-color="#fffd00"/><stop offset="0.4976" stop-color="#ff7a00"/><stop offset="0.5024" stop-color="#e00000"/><stop offset="0.5073" stop-color="#aa0000"/><stop offset="0.5122" stop-color="#5c0000"/><stop offset="0.5171" stop-color="#2e0000"/><stop offset="0.5220" stop-color="#180000"/><stop offset="0.5268" stop-color="#1d0000"/><stop offset="0.5317" stop-color="#3c0000"/><stop offset="0.5366" stop-color="#780000"/><stop offset="0.5415" stop-color="#c40000"/><stop offset="0.5463" stop-color="#f00000"/><stop offset="0.5512" stop-color="#fff800"/><stop offset="0.5561" stop-color="#ffff00"/><stop offset="0.5610" stop-color="#fffff6"/><stop offset="0.5707" stop-color="#fffffe"/><stop offset="0.5756" stop-color="#f6f9ff"/><stop offset="0.5854" stop-color="#d3e4ff"/><stop offset="0.6000" stop-color="#b6d3ff"/><stop offset="0.6293" stop-color="#9ac2ff"/><stop offset="0.7951" stop-color="#5596ff"/><stop offset="0.8780" stop-color="#438aff"/><stop offset="1.0000" stop-color="#3d86ff"/></linearGradient>
<linearGradient id="g29"><stop offset="0.0000" stop-color="#3481ff"/><stop offset="0.2878" stop-color="#3c86ff"/><stop offset="0.3463" stop-color="#498eff"/><stop offset="0.3951" stop-color="#6ca5ff"/><stop offset="0.4390" stop-color="#a1c6ff"/><stop offset="0.4585" stop-color="#c9dfff"/><stop offset="0.4732" stop-color="#ffffff"/><stop offset="0.4829" stop-color="#fffff8"/><stop offset="0.4878" stop-color="#ffff85"/><stop offset="0.4927" stop-color="#fffb00"/><stop offset="0.4976" stop-color="#ff2f00"/><stop offset="0.5024" stop-color="#d90000"/><stop offset="0.5073" stop-color="#9e0000"/><stop offset="0.5122" stop-color="#520000"/><stop offset="0.5171" stop-color="#2a0000"/><stop offset="0.5220" stop-color="#190000"/><stop offset="0.5268" stop-color="#210000"/><stop offset="0.5317" stop-color="#410000"/><stop offset="0.5366" stop-color="#810000"/><stop offset="0.5415" stop-color="#c80000"/><stop offset="0.5463" stop-color="#f30800"/><stop offset="0.5512" stop-color="#fff900"/><stop offset="0.5561" stop-color="#ffff10"/><stop offset="0.5610" stop-color="#fffff6"/><stop offset="0.5707" stop-color="#fffffe"/><stop offset="0.5756" stop-color="#f5f9ff"/><stop offset="0.5854" stop-color="#d3e4ff"/><stop offset="0.6000" stop-color="#b6d3ff"/><stop offset="0.6293" stop-color="#9ac3ff"/><stop offset="0.7951" stop-color="#5596ff"/><stop offset="0.8829" stop-color="#428aff"/><stop offset="1.0000" stop-color="#3d87ff"/></linearGradient>
<linearGradient id="g30"><stop offset="0.0000" stop-color="#3481ff"/><stop offset="0.2829" stop-color="#3c86ff"/><stop offset="0.3415" stop-color="#488eff"/><stop offset="0.3951" stop-color="#6fa7ff"/><stop offset="0.4390" stop-color="#a3c8ff"/><stop offset="0.4585" stop-color="#cce1ff"/><stop offset="0.4732" stop-color="#fffffe"/><stop offset="0.4829" stop-color="#fffff7"/><stop offset="0.4878" stop-color="#ffff46"/><stop offset="0.4927" stop-color="#fffa00"/><stop offset="0.4976" stop-color="#fa1900"/><stop offset="0.5024" stop-color="#d10000"/><stop offset="0.5073" stop-color="#920000"/><stop offset="0.5122" stop-color="#4b0000"/><stop offset="0.5171" stop-color="#280000"/><stop offset="0.5220" stop-color="#1a0000"/><stop offset="0.5268" stop-color="#250000"/><stop offset="0.5317" stop-color="#470000"/><stop offset="0.5415" stop-color="#cd0000"/><stop offset="0.5463" stop-color="#f61000"/><stop offset="0.5512" stop-color="#fff900"/><stop offset="0.5561" stop-color="#ffff24"/><stop offset="0.5610" stop-color="#fffff6"/><stop offset="0.5707" stop-color="#fffffe"/><stop offset="0.5756" stop-color="#f5f9ff"/><stop offset="0.5854" stop-color="#d3e4ff"/><stop offset="0.6000" stop-color="#b6d3ff"/><stop offset="0.6293" stop-color="#9bc3ff"/><stop offset="0.7951" stop-color="#5697ff"/><stop offset="0.8829" stop-color="#438aff"/><stop offset="1.0000" stop-color="#3d87ff"/></linearGradient>
<linearGradient id="g31"><stop offset="0.0000" stop-color="#3481ff"/><stop offset="0.2829" stop-color="#3d86ff"/><stop offset="0.3366" stop-color="#478dff"/><stop offset="0.3902" stop-color="#6ca5ff"/><stop offset="0.4341" stop-color="#9ec5ff"/><stop offset="0.4537" stop-color="#c3dbff"/><stop offset="0.4634" stop-color="#e2eeff"/><stop offset="0.4683" stop-color="#f6faff"/><stop offset="0.4732" stop-color="#fffffe"/><stop offset="0.4829" stop-color="#fffff5"/><stop offset="0.4878" stop-color="#ffff03"/><stop offset="0.4927" stop-color="#fff900"/><stop offset="0.4976" stop-color="#f40900"/><stop offset="0.5024" stop-color="#ca0000"/><stop offset="0.5122" stop-color="#460000"/><stop offset="0.5171" stop-color="#250000"/><stop offset="0.5220" stop-color="#1b0000"/><stop offset="0.5268" stop-color="#290000"/><stop offset="0.5317" stop-color="#4d0000"/><stop offset="0.5366" stop-color="#930000"/><stop offset="0.5415" stop-color="#d10000"/><stop offset="0.5463" stop-color="#f91800"/><stop offset="0.5512" stop-color="#fffa00"/><stop offset="0.5561" stop-color="#ffff39"/><stop offset="0.5610" stop-color="#fffff6"/><stop offset="0.5707" stop-color="#fffffe"/><stop offset="0.5756" stop-color="#f5f9ff"/><stop offset="0.5854" stop-color="#d3e5ff"/><stop offset="0.6000" stop-color="#b7d4ff"/><stop offset="0.6293" stop-color="#9bc3ff"/><stop offset="0.8000" stop-color="#5596ff"/><stop offset="0.8878" stop-color="#438aff"/><stop offset="1.0000" stop-color="#3d87ff"/></linearGradient>
<linearGradient id="g32"><stop offset="0.0000" stop-color="#3481ff"/><stop offset="0.2780" stop-color="#3d86ff"/><stop offset="0.3317" stop-color="#478dff"/><stop offset="0.3854" stop-color="#6ba4ff"/><stop offset="0.4341" stop-color="#a2c7ff"/><stop offset="0.4537" stop-color="#c8deff"/><stop offset="0.4634" stop-color="#e9f2ff"/><stop offset="0.4683" stop-color="#feffff"/><stop offset="0.4780" stop-color="#fffff9"/><stop offset="0.4829" stop-color="#ffffc4"/><stop offset="0.4878" stop-color="#fffd00"/><stop offset="0.4927" stop-color="#ffbd00"/><stop offset="0.4976" stop-color="#ea0000"/><stop offset="0.5024" stop-color="#c00000"/><stop offset="0.5073" stop-color="#760000"/><stop offset="0.5122" stop-color="#3f0000"/><stop offset="0.5171" stop-color="#230000"/><stop offset="0.5220" stop-color="#1e0000"/><stop offset="0.5268" stop-color="#300000"/><stop offset="0.5317" stop-color="#580000"/><stop offset="0.5366" stop-color="#a00000"/><stop offset="0.5415" stop-color="#d70000"/><stop offset="0.5463" stop-color="#fd2300"/><stop offset="0.5512" stop-color="#fffb00"/><stop offset="0.5561" stop-color="#ffff56"/><stop offset="0.5610" stop-color="#fffff7"/><stop offset="0.5707" stop-color="#fffffe"/><stop offset="0.5756" stop-color="#f4f8ff"/><stop offset="0.5854" stop-color="#d3e5ff"/><stop offset="0.6000" stop-color="#b7d4ff"/><stop offset="0.6293" stop-color="#9bc3ff"/><stop offset="0.8000" stop-color="#5697ff"/><stop offset="0.8927" stop-color="#438aff"/><stop offset="1.0000" stop-color="#3e87ff"/></linearGradient>
<linearGradient id="g33"><stop offset="0.0000" stop-color="#3481ff"/><stop offset="0.2732" stop-color="#3d87ff"/><stop offset="0.3268" stop-color="#488eff"/><stop offset="0.3854" stop-color="#70a7ff"/><stop offset="0.4293" stop-color="#9fc5ff"/><stop offset="0.4488" stop-color="#c3dbff"/><stop offset="0.4585" stop-color="#e0ecff"/><stop offset="0.4634" stop-color="#f3f8ff"/><stop offset="0.4683" stop-color="#fffffe"/><stop offset="0.4780" stop-color="#fffff7"/><stop offset="0.4829" stop-color="#ffff61"/><stop offset="0.4878" stop-color="#fffb00"/><stop offset="0.4927" stop-color="#ff3200"/><stop offset="0.4976" stop-color="#dc0000"/><stop offset="0.5024" stop-color="#aa0000"/><stop offset="0.5073" stop-color="#630000"/><stop offset="0.5122" stop-color="#370000"/><stop offset="0.5171" stop-color="#220000"/><stop offset="0.5220" stop-color="#220000"/><stop offset="0.5268" stop-color="#390000"/><stop offset="0.5317" stop-color="#690000"/><stop offset="0.5366" stop-color="#b00000"/><stop offset="0.5415" stop-color="#df0000"/><stop offset="0.5463" stop-color="#ff5300"/><stop offset="0.5512" stop-color="#fffb00"/><stop offset="0.5610" stop-color="#fffff7"/><stop offset="0.5707" stop-color="#fffffe"/><stop offset="0.5756" stop-color="#f3f8ff"/><stop offset="0.5854" stop-color="#d3e5ff"/><stop offset="0.6000" stop-color="#b8d4ff"/><stop offset="0.6293" stop-color="#9cc3ff"/><stop offset="0.8049" stop-color="#5697ff"/><stop offset="0.8976" stop-color="#438aff"/><stop offset="1.0000" stop-color="#3e87ff"/></linearGradient>
<linearGradient id="g34"><stop offset="0.0000" stop-color="#3581ff"/><stop offset="0.2683" stop-color="#3e87ff"/><stop offset="0.3220" stop-color="#498eff"/><stop offset="0.3805" stop-color="#70a7ff"/><stop offset="0.4244" stop-color="#9dc4ff"/><stop offset="0.4488" stop-color="#c9dfff"/><stop offset="0.4585" stop-color="#e9f2ff"/><stop offset="0.4634" stop-color="#fefeff"/><stop offset="0.4732" stop-color="#fffff9"/><stop offset="0.4780" stop-color="#ffffe7"/><stop offset="0.4829" stop-color="#ffff00"/><stop offset="0.4878" stop-color="#fff900"/><stop offset="0.4927" stop-color="#f50d00"/><stop offset="0.4976" stop-color="#cf0000"/><stop offset="0.5024" stop-color="#940000"/><stop offset="0.5073" stop-color="#530000"/><stop offset="0.5122" stop-color="#310000"/><stop offset="0.5171" stop-color="#220000"/><stop offset="0.5220" stop-color="#290000"/><stop offset="0.5268" stop-color="#430000"/><stop offset="0.5317" stop-color="#790000"/><stop offset="0.5366" stop-color="#bf0000"/><stop offset="0.5415" stop-color="#e70000"/><stop offset="0.5463" stop-color="#ff9100"/><stop offset="0.5512" stop-color="#fffc00"/><stop offset="0.5561" stop-color="#ffff95"/><stop offset="0.5610" stop-color="#fffff8"/><stop offset="0.5707" stop-color="#fffffe"/><stop offset="0.5902" stop-color="#c8deff"/><stop offset="0.6146" stop-color="#a8cbff"/><stop offset="0.6585" stop-color="#8fbbff"/><stop offset="0.8244" stop-color="#5294ff"/><stop offset="0.9122" stop-color="#428aff"/><stop offset="1.0000" stop-color="#3e87ff"/></linearGradient>
<linearGradient id="g35"><stop offset="0.0000" stop-color="#3581ff"/><stop offset="0.2634" stop-color="#3e87ff"/><stop offset="0.3171" stop-color="#4a8fff"/><stop offset="0.3756" stop-color="#6fa7ff"/><stop offset="0.4244" stop-color="#a1c7ff"/><stop offset="0.4439" stop-color="#c4dcff"/><stop offset="0.4537" stop-color="#e0edff"/><stop offset="0.4585" stop-color="#f3f8ff"/><stop offset="0.4634" stop-color="#fffffe"/><stop offset="0.4732" stop-color="#fffff7"/><stop offset="0.4780" stop-color="#ffff91"/><stop offset="0.4829" stop-color="#fffc00"/><stop offset="0.4878" stop-color="#ff9a00"/><stop offset="0.4927" stop-color="#e90000"/><stop offset="0.4976" stop-color="#c20000"/><stop offset="0.5024" stop-color="#800000"/><stop offset="0.5073" stop-color="#480000"/><stop offset="0.5122" stop-color="#2d0000"/><stop offset="0.5171" stop-color="#240000"/><stop offset="0.5220" stop-color="#300000"/><stop offset="0.5268" stop-color="#4e0000"/><stop offset="0.5366" stop-color="#c80000"/><stop offset="0.5415" stop-color="#ee0000"/><stop offset="0.5463" stop-color="#ffcb00"/><stop offset="0.5512" stop-color="#fffd00"/><stop offset="0.5561" stop-color="#ffffae"/><stop offset="0.5610" stop-color="#fffff8"/><stop offset="0.5707" stop-color="#fffffe"/><stop offset="0.5902" stop-color="#c8deff"/><stop offset="0.6146" stop-color="#a8cbff"/><stop offset="0.6537" stop-color="#91bdff"/><stop offset="0.8244" stop-color="#5395ff"/><stop offset="0.9171" stop-color="#428aff"/><stop offset="1.0000" stop-color="#3e87ff"/></linearGradient>
<linearGradient id="g36"><stop offset="0.0000" stop-color="#3581ff"/><stop offset="0.2585" stop-color="#3e87ff"/><stop offset="0.3073" stop-color="#488eff"/><stop offset="0.3707" stop-color="#6fa7ff"/><stop offset="0.4195" stop-color="#9fc5ff"/><stop offset="0.4439" stop-color="#cadfff"/><stop offset="0.4585" stop-color="#fdfeff"/><stop offset="0.4732" stop-color="#fffff5"/><stop offset="0.4780" stop-color="#ffff24"/><stop offset="0.4829" stop-color="#fffa00"/><stop offset="0.4878" stop-color="#fe2500"/><stop offset="0.4927" stop-color="#dc0000"/><stop offset="0.4976" stop-color="#b00000"/><stop offset="0.5024" stop-color="#6f0000"/><stop offset="0.5073" stop-color="#410000"/><stop offset="0.5122" stop-color="#2b0000"/><stop offset="0.5171" stop-color="#280000"/><stop offset="0.5220" stop-color="#380000"/><stop offset="0.5268" stop-color="#5c0000"/><stop offset="0.5317" stop-color="#9a0000"/><stop offset="0.5366" stop-color="#d00000"/><stop offset="0.5415" stop-color="#f40b00"/><stop offset="0.5463" stop-color="#fff800"/><stop offset="0.5512" stop-color="#fffe00"/><stop offset="0.5561" stop-color="#ffffc6"/><stop offset="0.5610" stop-color="#fffff9"/><stop offset="0.5707" stop-color="#fffffe"/><stop offset="0.5902" stop-color="#c8deff"/><stop offset="0.6146" stop-color="#a9cbff"/><stop offset="0.6537" stop-color="#91bdff"/><stop offset="0.8244" stop-color="#5495ff"/><stop offset="0.9220" stop-color="#428aff"/><stop offset="1.0000" stop-color="#3e87ff"/></linearGradient>
<linearGradient id="g37"><stop offset="0.0000" stop-color="#3581ff"/><stop offset="0.2537" stop-color="#3f88ff"/><stop offset="0.3024" stop-color="#498eff"/><stop offset="0.3659" stop-color="#6fa7ff"/><stop offset="0.4146" stop-color="#9cc4ff"/><stop offset="0.4390" stop-color="#c5dcff"/><stop offset="0.4488" stop-color="#e0ecff"/><stop offset="0.4585" stop-color="#fffffe"/><stop offset="0.4683" stop-color="#fffff8"/><stop offset="0.4732" stop-color="#ffffc1"/><stop offset="0.4780" stop-color="#fffe00"/><stop offset="0.4829" stop-color="#fff800"/><stop offset="0.4878" stop-color="#f61100"/><stop offset="0.4927" stop-color="#d50000"/><stop offset="0.4976" stop-color="#a70000"/><stop offset="0.5024" stop-color="#6d0000"/><stop offset="0.5073" stop-color="#460000"/><stop offset="0.5122" stop-color="#360000"/><stop offset="0.5171" stop-color="#390000"/><stop offset="0.5220" stop-color="#4c0000"/><stop offset="0.5268" stop-color="#7a0000"/><stop offset="0.5317" stop-color="#b70000"/><stop offset="0.5366" stop-color="#dd0000"/><stop offset="0.5415" stop-color="#fd2300"/><stop offset="0.5463" stop-color="#fffa00"/><stop offset="0.5512" stop-color="#ffff08"/><stop offset="0.5561" stop-color="#fffff0"/><stop offset="0.5610" stop-color="#fffff9"/><stop offset="0.5707" stop-color="#ffffff"/><stop offset="0.5854" stop-color="#d2e4ff"/><stop offset="0.6049" stop-color="#b3d1ff"/><stop offset="0.6390" stop-color="#98c1ff"/><stop offset="0.8195" stop-color="#5697ff"/><stop offset="0.9220" stop-color="#428aff"/><stop offset="1.0000" stop-color="#3f88ff"/></linearGradient>
<linearGradient id="g38"><stop offset="0.0000" stop-color="#3581ff"/><stop offset="0.2488" stop-color="#3f88ff"/><stop offset="0.2976" stop-color="#4a8fff"/><stop offset="0.3659" stop-color="#72a9ff"/><stop offset="0.4146" stop-color="#a0c6ff"/><stop offset="0.4390" stop-color="#cadfff"/><stop offset="0.4537" stop-color="#fafcff"/><stop offset="0.4634" stop-color="#fffffb"/><stop offset="0.4683" stop-color="#fffff7"/><stop offset="0.4732" stop-color="#ffff84"/><stop offset="0.4780" stop-color="#fffd00"/><stop offset="0.4829" stop-color="#ffc600"/><stop offset="0.4878" stop-color="#f10400"/><stop offset="0.4927" stop-color="#d10000"/><stop offset="0.4976" stop-color="#a60000"/><stop offset="0.5024" stop-color="#740000"/><stop offset="0.5073" stop-color="#510000"/><stop offset="0.5122" stop-color="#480000"/><stop offset="0.5171" stop-color="#4e0000"/><stop offset="0.5220" stop-color="#6d0000"/><stop offset="0.5317" stop-color="#cb0000"/><stop offset="0.5366" stop-color="#ec0000"/><stop offset="0.5415" stop-color="#ff9000"/><stop offset="0.5463" stop-color="#fffc00"/><stop offset="0.5512" stop-color="#ffff5b"/><stop offset="0.5561" stop-color="#fffff6"/><stop offset="0.5707" stop-color="#ffffff"/><stop offset="0.5854" stop-color="#d1e3ff"/><stop offset="0.6049" stop-color="#b3d1ff"/><stop offset="0.6390" stop-color="#98c1ff"/><stop offset="0.8195" stop-color="#5797ff"/><stop offset="0.9268" stop-color="#428aff"/><stop offset="1.0000" stop-color="#3f88ff"/></linearGradient>
<linearGradient id="g39"><stop offset="0.0000" stop-color="#3581ff"/><stop offset="0.2439" stop-color="#3f88ff"/><stop offset="0.2927" stop-color="#4a8fff"/><stop offset="0.3610" stop-color="#72a9ff"/><stop offset="0.4098" stop-color="#9dc4ff"/><stop offset="0.4341" stop-color="#c4dcff"/><stop offset="0.4488" stop-color="#eef5ff"/><stop offset="0.4537" stop-color="#ffffff"/><stop offset="0.4683" stop-color="#fffff6"/><stop offset="0.4732" stop-color="#ffff41"/><stop offset="0.4780" stop-color="#fffb00"/><stop offset="0.4829" stop-color="#ff8c00"/><stop offset="0.4878" stop-color="#ed0000"/><stop offset="0.4927" stop-color="#cf0000"/><stop offset="0.5024" stop-color="#7f0000"/><stop offset="0.5073" stop-color="#650000"/><stop offset="0.5122" stop-color="#5f0000"/><stop offset="0.5171" stop-color="#6e0000"/><stop offset="0.5220" stop-color="#8f0000"/><stop offset="0.5268" stop-color="#be0000"/><stop offset="0.5317" stop-color="#dc0000"/><stop offset="0.5366" stop-color="#f91700"/><stop offset="0.5415" stop-color="#fff800"/><stop offset="0.5463" stop-color="#fffd00"/><stop offset="0.5512" stop-color="#ffff9f"/><stop offset="0.5561" stop-color="#fffff7"/><stop offset="0.5707" stop-color="#fbfcff"/><stop offset="0.5854" stop-color="#cfe2ff"/><stop offset="0.6049" stop-color="#b2d1ff"/><stop offset="0.6390" stop-color="#98c1ff"/><stop offset="0.8244" stop-color="#5697ff"/><stop offset="0.9317" stop-color="#428aff"/><stop offset="1.0000" stop-color="#3f88ff"/></linearGradient>
<linearGradient id="g40"><stop offset="0.0000" stop-color="#3581ff"/><stop offset="0.2390" stop-color="#3f88ff"/><stop offset="0.2878" stop-color="#4a8fff"/><stop offset="0.3610" stop-color="#75aaff"/><stop offset="0.4098" stop-color="#a0c6ff"/><stop offset="0.4341" stop-color="#c9deff"/><stop offset="0.4488" stop-color="#f5f9ff"/><stop offset="0.4537" stop-color="#fffffe"/><stop offset="0.4634" stop-color="#fffff9"/><stop offset="0.4683" stop-color="#ffffdb"/><stop offset="0.4732" stop-color="#ffff04"/><stop offset="0.4780" stop-color="#fffa00"/><stop offset="0.4829" stop-color="#ff6200"/><stop offset="0.4878" stop-color="#eb0000"/><stop offset="0.4976" stop-color="#b10000"/><stop offset="0.5024" stop-color="#8e0000"/><stop offset="0.5073" stop-color="#7c0000"/><stop offset="0.5122" stop-color="#7c0000"/><stop offset="0.5171" stop-color="#8f0000"/><stop offset="0.5268" stop-color="#d00000"/><stop offset="0.5317" stop-color="#eb0000"/><stop offset="0.5366" stop-color="#ff6400"/><stop offset="0.5415" stop-color="#fffa00"/><stop offset="0.5463" stop-color="#ffff06"/><stop offset="0.5512" stop-color="#ffffdc"/><stop offset="0.5561" stop-color="#fffff9"/><stop offset="0.5659" stop-color="#fffffe"/><stop offset="0.5707" stop-color="#f7faff"/><stop offset="0.5854" stop-color="#cde1ff"/><stop offset="0.6098" stop-color="#adceff"/><stop offset="0.6488" stop-color="#94beff"/><stop offset="0.8293" stop-color="#5696ff"/><stop offset="0.9366" stop-color="#428aff"/><stop offset="1.0000" stop-color="#3f88ff"/></linearGradient>
<linearGradient id="g41"><stop offset="0.0000" stop-color="#3582ff"/><stop offset="0.2341" stop-color="#4088ff"/><stop offset="0.2829" stop-color="#4b8fff"/><stop offset="0.3561" stop-color="#74aaff"/><stop offset="0.4049" stop-color="#9dc4ff"/><stop offset="0.4293" stop-color="#c2dbff"/><stop offset="0.4439" stop-color="#e9f2ff"/><stop offset="0.4488" stop-color="#fbfdff"/><stop offset="0.4634" stop-color="#fffff8"/><stop offset="0.4683" stop-color="#ffffb4"/><stop offset="0.4732" stop-color="#fffe00"/><stop offset="0.4780" stop-color="#fffa00"/><stop offset="0.4829" stop-color="#ff4a00"/><stop offset="0.4878" stop-color="#eb0000"/><stop offset="0.5024" stop-color="#a10000"/><stop offset="0.5073" stop-color="#950000"/><stop offset="0.5122" stop-color="#9a0000"/><stop offset="0.5268" stop-color="#e10000"/><stop offset="0.5317" stop-color="#f91800"/><stop offset="0.5366" stop-color="#ffeb00"/><stop offset="0.5415" stop-color="#fffc00"/><stop offset="0.5463" stop-color="#ffff69"/><stop offset="0.5512" stop-color="#fffff6"/><stop offset="0.5659" stop-color="#ffffff"/><stop offset="0.5854" stop-color="#cbe0ff"/><stop offset="0.6098" stop-color="#accdff"/><stop offset="0.6488" stop-color="#93beff"/><stop offset="0.8341" stop-color="#5596ff"/><stop offset="0.9415" stop-color="#428aff"/><stop offset="1.0000" stop-color="#3f88ff"/></linearGradient>
<linearGradient id="g42"><stop offset="0.0000" stop-color="#3682ff"/><stop offset="0.2341" stop-color="#4089ff"/><stop offset="0.2829" stop-color="#4d91ff"/><stop offset="0.3561" stop-color="#76abff"/><stop offset="0.4049" stop-color="#a0c6ff"/><stop offset="0.4293" stop-color="#c6ddff"/><stop offset="0.4439" stop-color="#eef5ff"/><stop offset="0.4488" stop-color="#ffffff"/><stop offset="0.4634" stop-color="#fffff7"/><stop offset="0.4683" stop-color="#ffff95"/><stop offset="0.4732" stop-color="#fffe00"/><stop offset="0.4780" stop-color="#fff900"/><stop offset="0.4829" stop-color="#ff4300"/><stop offset="0.4878" stop-color="#ec0000"/><stop offset="0.4976" stop-color="#c50000"/><stop offset="0.5024" stop-color="#b60000"/><stop offset="0.5073" stop-color="#af0000"/><stop offset="0.5122" stop-color="#b80000"/><stop offset="0.5220" stop-color="#da0000"/><stop offset="0.5268" stop-color="#f10200"/><stop offset="0.5317" stop-color="#ff7100"/><stop offset="0.5366" stop-color="#fffa00"/><stop offset="0.5415" stop-color="#fffe00"/><stop offset="0.5463" stop-color="#ffffb5"/><stop offset="0.5512" stop-color="#fffff7"/><stop offset="0.5659" stop-color="#feffff"/><stop offset="0.5805" stop-color="#d3e5ff"/><stop offset="0.6000" stop-color="#b5d3ff"/><stop offset="0.6341" stop-color="#9ac2ff"/><stop offset="0.8244" stop-color="#5898ff"/><stop offset="0.9366" stop-color="#438aff"/><stop offset="1.0000" stop-color="#4088ff"/></linearGradient>
<linearGradient id="g43"><stop offset="0.0000" stop-color="#3682ff"/><stop offset="0.2293" stop-color="#4089ff"/><stop offset="0.2780" stop-color="#4d91ff"/><stop offset="0.3561" stop-color="#78adff"/><stop offset="0.4049" stop-color="#a2c7ff"/><stop offset="0.4293" stop-color="#c9deff"/><stop offset="0.4488" stop-color="#fffffe"/><stop offset="0.4634" stop-color="#fffff6"/><stop offset="0.4683" stop-color="#ffff7f"/><stop offset="0.4732" stop-color="#fffd00"/><stop offset="0.4780" stop-color="#fff900"/><stop offset="0.4829" stop-color="#ff4d00"/><stop offset="0.4878" stop-color="#f00000"/><stop offset="0.4976" stop-color="#ce0000"/><stop offset="0.5024" stop-color="#c60000"/><stop offset="0.5073" stop-color="#c50000"/><stop offset="0.5122" stop-color="#cc0000"/><stop offset="0.5220" stop-color="#eb0000"/><stop offset="0.5268" stop-color="#fe2500"/><stop offset="0.5317" stop-color="#fff800"/><stop offset="0.5366" stop-color="#fffc00"/><stop offset="0.5415" stop-color="#ffff4f"/><stop offset="0.5463" stop-color="#fffff5"/><stop offset="0.5610" stop-color="#fffffe"/><stop offset="0.5659" stop-color="#f8fbff"/><stop offset="0.5805" stop-color="#d0e3ff"/><stop offset="0.6049" stop-color="#aecfff"/><stop offset="0.6439" stop-color="#95bfff"/><stop offset="0.8341" stop-color="#5697ff"/><stop offset="0.9463" stop-color="#428aff"/><stop offset="1.0000" stop-color="#4088ff"/></linearGradient>
<linearGradient id="g44"><stop offset="0.0000" stop-color="#3682ff"/><stop offset="0.2244" stop-color="#4189ff"/><stop offset="0.2732" stop-color="#4d91ff"/><stop offset="0.3512" stop-color="#77acff"/><stop offset="0.4000" stop-color="#9fc5ff"/><stop offset="0.4244" stop-color="#c3dbff"/><stop offset="0.4390" stop-color="#e8f1ff"/><stop offset="0.4439" stop-color="#f8fbff"/><stop offset="0.4488" stop-color="#fffffe"/><stop offset="0.4634" stop-color="#fffff5"/><stop offset="0.4683" stop-color="#ffff57"/><stop offset="0.4732" stop-color="#fffd00"/><stop offset="0.4780" stop-color="#fff900"/><stop offset="0.4829" stop-color="#ff4300"/><stop offset="0.4878" stop-color="#f10200"/><stop offset="0.4976" stop-color="#d40000"/><stop offset="0.5024" stop-color="#cf0000"/><stop offset="0.5073" stop-color="#d00000"/><stop offset="0.5171" stop-color="#e60000"/><stop offset="0.5220" stop-color="#f61100"/><stop offset="0.5268" stop-color="#ff9200"/><stop offset="0.5317" stop-color="#fffa00"/><stop offset="0.5366" stop-color="#fffe00"/><stop offset="0.5415" stop-color="#ffff99"/><stop offset="0.5463" stop-color="#fffff7"/><stop offset="0.5610" stop-color="#fffffe"/><stop offset="0.5805" stop-color="#cee1ff"/><stop offset="0.6049" stop-color="#aeceff"/><stop offset="0.6439" stop-color="#95bfff"/><stop offset="0.8390" stop-color="#5596ff"/><stop offset="0.9512" stop-color="#428aff"/><stop offset="1.0000" stop-color="#4088ff"/></linearGradient>
<linearGradient id="g45"><stop offset="0.0000" stop-color="#3682ff"/><stop offset="0.2244" stop-color="#4189ff"/><stop offset="0.2732" stop-color="#4f92ff"/><stop offset="0.3512" stop-color="#7aaeff"/><stop offset="0.4000" stop-color="#a2c7ff"/><stop offset="0.4244" stop-color="#c7ddff"/><stop offset="0.4390" stop-color="#eef5ff"/><stop offset="0.4439" stop-color="#ffffff"/><stop offset="0.4585" stop-color="#fffff8"/><stop offset="0.4634" stop-color="#ffffcc"/><stop offset="0.4683" stop-color="#ffff19"/><stop offset="0.4732" stop-color="#fffc00"/><stop offset="0.4780" stop-color="#ffef00"/><stop offset="0.4829" stop-color="#fe2600"/><stop offset="0.4878" stop-color="#ef0000"/><stop offset="0.4976" stop-color="#d70000"/><stop offset="0.5024" stop-color="#d40000"/><stop offset="0.5073" stop-color="#d70000"/><stop offset="0.5171" stop-color="#ee0000"/><stop offset="0.5220" stop-color="#fe2400"/><stop offset="0.5268" stop-color="#ffe500"/><stop offset="0.5317" stop-color="#fffb00"/><stop offset="0.5366" stop-color="#ffff0e"/><stop offset="0.5415" stop-color="#ffffc5"/><stop offset="0.5463" stop-color="#fffff7"/><stop offset="0.5610" stop-color="#ffffff"/><stop offset="0.5805" stop-color="#cce1ff"/><stop offset="0.6049" stop-color="#adceff"/><stop offset="0.6439" stop-color="#95bfff"/><stop offset="0.8390" stop-color="#5697ff"/><stop offset="0.9512" stop-color="#428aff"/><stop offset="1.0000" stop-color="#4088ff"/></linearGradient>
<linearGradient id="g46"><stop offset="0.0000" stop-color="#3682ff"/><stop offset="0.2195" stop-color="#4189ff"/><stop offset="0.2732" stop-color="#5194ff"/><stop offset="0.3512" stop-color="#7cafff"/><stop offset="0.3951" stop-color="#9fc5ff"/><stop offset="0.4195" stop-color="#c2daff"/><stop offset="0.4341" stop-color="#e5f0ff"/><stop offset="0.4439" stop-color="#fffffe"/><stop offset="0.4585" stop-color="#fffff7"/><stop offset="0.4634" stop-color="#ffffa0"/><stop offset="0.4683" stop-color="#fffe00"/><stop offset="0.4732" stop-color="#fffb00"/><stop offset="0.4780" stop-color="#ffc800"/><stop offset="0.4829" stop-color="#fc2100"/><stop offset="0.4878" stop-color="#ef0000"/><stop offset="0.4976" stop-color="#db0000"/><stop offset="0.5024" stop-color="#d90000"/><stop offset="0.5122" stop-color="#e80000"/><stop offset="0.5171" stop-color="#f60f00"/><stop offset="0.5220" stop-color="#ff6d00"/><stop offset="0.5268" stop-color="#fff900"/><stop offset="0.5317" stop-color="#fffd00"/><stop offset="0.5366" stop-color="#ffff50"/><stop offset="0.5415" stop-color="#ffffef"/><stop offset="0.5463" stop-color="#fffff8"/><stop offset="0.5610" stop-color="#fefeff"/><stop offset="0.5756" stop-color="#d5e6ff"/><stop offset="0.5951" stop-color="#b7d4ff"/><stop offset="0.6341" stop-color="#99c2ff"/><stop offset="0.8293" stop-color="#5998ff"/><stop offset="0.9512" stop-color="#438aff"/><stop offset="1.0000" stop-color="#4089ff"/></linearGradient>
<linearGradient id="g47"><stop offset="0.0000" stop-color="#3682ff"/><stop offset="0.2195" stop-color="#428aff"/><stop offset="0.2878" stop-color="#5a99ff"/><stop offset="0.3659" stop-color="#88b7ff"/><stop offset="0.4000" stop-color="#a8cbff"/><stop offset="0.4244" stop-color="#d0e3ff"/><stop offset="0.4390" stop-color="#fbfdff"/><stop offset="0.4585" stop-color="#fffff5"/><stop offset="0.4634" stop-color="#ffff77"/><stop offset="0.4683" stop-color="#fffe00"/><stop offset="0.4732" stop-color="#fffa00"/><stop offset="0.4780" stop-color="#ffa900"/><stop offset="0.4829" stop-color="#fb1d00"/><stop offset="0.4878" stop-color="#ef0000"/><stop offset="0.4976" stop-color="#df0000"/><stop offset="0.5073" stop-color="#e50000"/><stop offset="0.5122" stop-color="#f00100"/><stop offset="0.5171" stop-color="#fd2200"/><stop offset="0.5220" stop-color="#ffc100"/><stop offset="0.5268" stop-color="#fffa00"/><stop offset="0.5317" stop-color="#fffe00"/><stop offset="0.5366" stop-color="#ffff8a"/><stop offset="0.5415" stop-color="#fffff6"/><stop offset="0.5561" stop-color="#fffffe"/><stop offset="0.5610" stop-color="#fbfcff"/><stop offset="0.5756" stop-color="#d3e5ff"/><stop offset="0.5951" stop-color="#b6d3ff"/><stop offset="0.6341" stop-color="#99c1ff"/><stop offset="0.8341" stop-color="#5898ff"/><stop offset="0.9561" stop-color="#438aff"/><stop offset="1.0000" stop-color="#4089ff"/></linearGradient>
<linearGradient id="g48"><stop offset="0.0000" stop-color="#3682ff"/><stop offset="0.2146" stop-color="#428aff"/><stop offset="0.2878" stop-color="#5c9aff"/><stop offset="0.3707" stop-color="#8ebbff"/><stop offset="0.4000" stop-color="#abcdff"/><stop offset="0.4195" stop-color="#cadfff"/><stop offset="0.4390" stop-color="#ffffff"/><stop offset="0.4537" stop-color="#fffff8"/><stop offset="0.4585" stop-color="#ffffdf"/><stop offset="0.4634" stop-color="#ffff45"/><stop offset="0.4683" stop-color="#fffd00"/><stop offset="0.4732" stop-color="#fff900"/><stop offset="0.4780" stop-color="#ff9100"/><stop offset="0.4829" stop-color="#fa1c00"/><stop offset="0.4878" stop-color="#f00000"/><stop offset="0.4976" stop-color="#e40000"/><stop offset="0.5073" stop-color="#ed0000"/><stop offset="0.5122" stop-color="#f71300"/><stop offset="0.5171" stop-color="#ff6100"/><stop offset="0.5220" stop-color="#fff800"/><stop offset="0.5268" stop-color="#fffc00"/><stop offset="0.5317" stop-color="#ffff0d"/><stop offset="0.5366" stop-color="#ffffb8"/><stop offset="0.5415" stop-color="#fffff7"/><stop offset="0.5561" stop-color="#fffffe"/><stop offset="0.5610" stop-color="#f7faff"/><stop offset="0.5756" stop-color="#d2e4ff"/><stop offset="0.6000" stop-color="#b1d0ff"/><stop offset="0.6390" stop-color="#96c0ff"/><stop offset="0.8390" stop-color="#5797ff"/><stop offset="0.9610" stop-color="#428aff"/><stop offset="1.0000" stop-color="#4189ff"/></linearGradient>
<linearGradient id="g49"><stop offset="0.0000" stop-color="#3782ff"/><stop offset="0.2146" stop-color="#438aff"/><stop offset="0.3024" stop-color="#65a0ff"/><stop offset="0.3805" stop-color="#98c1ff"/><stop offset="0.4098" stop-color="#bcd7ff"/><stop offset="0.4244" stop-color="#dae9ff"/><stop offset="0.4341" stop-color="#f7faff"/><stop offset="0.4390" stop-color="#fffffe"/><stop offset="0.4537" stop-color="#fffff7"/><stop offset="0.4585" stop-color="#ffffbb"/><stop offset="0.4634" stop-color="#ffff18"/><stop offset="0.4683" stop-color="#fffc00"/><stop offset="0.4732" stop-color="#fff900"/><stop offset="0.4780" stop-color="#ff8100"/><stop offset="0.4829" stop-color="#fa1c00"/><stop offset="0.4878" stop-color="#f10300"/><stop offset="0.4976" stop-color="#e90000"/><stop offset="0.5024" stop-color="#ec0000"/><stop offset="0.5073" stop-color="#f40a00"/><stop offset="0.5122" stop-color="#fe2500"/><stop offset="0.5171" stop-color="#ffb300"/><stop offset="0.5220" stop-color="#fffa00"/><stop offset="0.5268" stop-color="#fffd00"/><stop offset="0.5317" stop-color="#ffff51"/><stop offset="0.5366" stop-color="#ffffe4"/><stop offset="0.5415" stop-color="#fffff8"/><stop offset="0.5561" stop-color="#ffffff"/><stop offset="0.5756" stop-color="#d0e3ff"/><stop offset="0.6000" stop-color="#b0d0ff"/><stop offset="0.6390" stop-color="#96c0ff"/><stop offset="0.8390" stop-color="#5798ff"/><stop offset="0.9610" stop-color="#438aff"/><stop offset="1.0000" stop-color="#4189ff"/></linearGradient>
<linearGradient id="g50"><stop offset="0.0000" stop-color="#3782ff"/><stop offset="0.2098" stop-color="#438aff"/><stop offset="0.2976" stop-color="#64a0ff"/><stop offset="0.3756" stop-color="#95bfff"/><stop offset="0.4049" stop-color="#b7d4ff"/><stop offset="0.4195" stop-color="#d1e3ff"/><stop offset="0.4341" stop-color="#fbfcff"/><stop offset="0.4488" stop-color="#fffff9"/><stop offset="0.4537" stop-color="#fffff6"/><stop offset="0.4585" stop-color="#ffffa5"/><stop offset="0.4634" stop-color="#ffff00"/><stop offset="0.4732" stop-color="#fff900"/><stop offset="0.4780" stop-color="#ff8600"/><stop offset="0.4829" stop-color="#fc2000"/><stop offset="0.4878" stop-color="#f40b00"/><stop offset="0.4927" stop-color="#f00000"/><stop offset="0.4976" stop-color="#f00000"/><stop offset="0.5024" stop-color="#f40900"/><stop offset="0.5073" stop-color="#fb1d00"/><stop offset="0.5122" stop-color="#ff7600"/><stop offset="0.5171" stop-color="#fff800"/><stop offset="0.5268" stop-color="#ffff00"/><stop offset="0.5317" stop-color="#ffff93"/><stop offset="0.5366" stop-color="#fffff6"/><stop offset="0.5561" stop-color="#ffffff"/><stop offset="0.5756" stop-color="#cee2ff"/><stop offset="0.6049" stop-color="#abcdff"/><stop offset="0.6488" stop-color="#92bdff"/><stop offset="0.8488" stop-color="#5596ff"/><stop offset="0.9659" stop-color="#428aff"/><stop offset="1.0000" stop-color="#4189ff"/></linearGradient>
<linearGradient id="g51"><stop offset="0.0000" stop-color="#3782ff"/><stop offset="0.2098" stop-color="#438bff"/><stop offset="0.3073" stop-color="#6aa4ff"/><stop offset="0.3805" stop-color="#9ac2ff"/><stop offset="0.4098" stop-color="#bfd9ff"/><stop offset="0.4244" stop-color="#dfecff"/><stop offset="0.4341" stop-color="#fcfdff"/><stop offset="0.4537" stop-color="#fffff6"/><stop offset="0.4585" stop-color="#ffff9d"/><stop offset="0.4634" stop-color="#ffff00"/><stop offset="0.4732" stop-color="#fff900"/><stop offset="0.4780" stop-color="#ff9d00"/><stop offset="0.4829" stop-color="#ff2800"/><stop offset="0.4878" stop-color="#f81700"/><stop offset="0.4927" stop-color="#f60f00"/><stop offset="0.4976" stop-color="#f61100"/><stop offset="0.5024" stop-color="#fb1e00"/><stop offset="0.5073" stop-color="#ff5c00"/><stop offset="0.5122" stop-color="#ffde00"/><stop offset="0.5171" stop-color="#fffa00"/><stop offset="0.5220" stop-color="#fffd00"/><stop offset="0.5268" stop-color="#ffff42"/><stop offset="0.5317" stop-color="#ffffcf"/><stop offset="0.5366" stop-color="#fffff7"/><stop offset="0.5512" stop-color="#fffffe"/><stop offset="0.5561" stop-color="#fbfcff"/><stop offset="0.5756" stop-color="#cce1ff"/><stop offset="0.6049" stop-color="#abcdff"/><stop offset="0.6488" stop-color="#92bdff"/><stop offset="0.8488" stop-color="#5697ff"/><stop offset="0.9707" stop-color="#428aff"/><stop offset="1.0000" stop-color="#4189ff"/></linearGradient>
<linearGradient id="g52"><stop offset="0.0000" stop-color="#3782ff"/><stop offset="0.2098" stop-color="#448bff"/><stop offset="0.3122" stop-color="#6ea6ff"/><stop offset="0.3805" stop-color="#9ac2ff"/><stop offset="0.4098" stop-color="#c0d9ff"/><stop offset="0.4244" stop-color="#e1edff"/><stop offset="0.4341" stop-color="#feffff"/><stop offset="0.4537" stop-color="#fffff6"/><stop offset="0.4585" stop-color="#ffff97"/><stop offset="0.4634" stop-color="#ffff00"/><stop offset="0.4732" stop-color="#fff900"/><stop offset="0.4780" stop-color="#ffba00"/><stop offset="0.4829" stop-color="#ff5300"/><stop offset="0.4878" stop-color="#fd2300"/><stop offset="0.4927" stop-color="#fb1f00"/><stop offset="0.4976" stop-color="#fd2400"/><stop offset="0.5024" stop-color="#ff5900"/><stop offset="0.5073" stop-color="#ffc100"/><stop offset="0.5122" stop-color="#fff900"/><stop offset="0.5220" stop-color="#ffff00"/><stop offset="0.5268" stop-color="#ffff91"/><stop offset="0.5317" stop-color="#fffff6"/><stop offset="0.5512" stop-color="#fffffe"/><stop offset="0.5756" stop-color="#cbe0ff"/><stop offset="0.6049" stop-color="#abccff"/><stop offset="0.6537" stop-color="#90bcff"/><stop offset="0.8537" stop-color="#5596ff"/><stop offset="0.9756" stop-color="#428aff"/><stop offset="1.0000" stop-color="#4189ff"/></linearGradient>
<linearGradient id="g53"><stop offset="0.0000" stop-color="#3783ff"/><stop offset="0.2049" stop-color="#448bff"/><stop offset="0.3122" stop-color="#6fa7ff"/><stop offset="0.3805" stop-color="#9bc3ff"/><stop offset="0.4098" stop-color="#c1daff"/><stop offset="0.4244" stop-color="#e2eeff"/><stop offset="0.4341" stop-color="#ffffff"/><stop offset="0.4537" stop-color="#fffff6"/><stop offset="0.4585" stop-color="#ffff95"/><stop offset="0.4634" stop-color="#ffff00"/><stop offset="0.4732" stop-color="#fffa00"/><stop offset="0.4780" stop-color="#ffdc00"/><stop offset="0.4829" stop-color="#ff8400"/><stop offset="0.4878" stop-color="#ff5200"/><stop offset="0.4927" stop-color="#ff4a00"/><stop offset="0.4976" stop-color="#ff6e00"/><stop offset="0.5024" stop-color="#ffba00"/><stop offset="0.5073" stop-color="#fff900"/><stop offset="0.5171" stop-color="#fffe00"/><stop offset="0.5220" stop-color="#ffff51"/><stop offset="0.5268" stop-color="#ffffcf"/><stop offset="0.5317" stop-color="#fffff7"/><stop offset="0.5512" stop-color="#ffffff"/><stop offset="0.5707" stop-color="#d1e4ff"/><stop offset="0.6000" stop-color="#aecfff"/><stop offset="0.6439" stop-color="#94beff"/><stop offset="0.8439" stop-color="#5898ff"/><stop offset="0.9707" stop-color="#438aff"/><stop offset="1.0000" stop-color="#4189ff"/></linearGradient>
<linearGradient id="g54"><stop offset="0.0000" stop-color="#3783ff"/><stop offset="0.2000" stop-color="#448bff"/><stop offset="0.3073" stop-color="#6da6ff"/><stop offset="0.3756" stop-color="#97c1ff"/><stop offset="0.4049" stop-color="#bbd6ff"/><stop offset="0.4195" stop-color="#d7e7ff"/><stop offset="0.4341" stop-color="#ffffff"/><stop offset="0.4537" stop-color="#fffff5"/><stop offset="0.4585" stop-color="#ffff88"/><stop offset="0.4634" stop-color="#ffff00"/><stop offset="0.4732" stop-color="#fffa00"/><stop offset="0.4780" stop-color="#ffef00"/><stop offset="0.4829" stop-color="#ffa400"/><stop offset="0.4878" stop-color="#ff8000"/><stop offset="0.4927" stop-color="#ff8500"/><stop offset="0.4976" stop-color="#ffb400"/><stop offset="0.5024" stop-color="#fff800"/><stop offset="0.5171" stop-color="#ffff02"/><stop offset="0.5220" stop-color="#ffff8f"/><stop offset="0.5268" stop-color="#fffff5"/><stop offset="0.5512" stop-color="#fcfdff"/><stop offset="0.5707" stop-color="#d0e3ff"/><stop offset="0.6000" stop-color="#afcfff"/><stop offset="0.6439" stop-color="#94bfff"/><stop offset="0.8439" stop-color="#5898ff"/><stop offset="0.9756" stop-color="#438aff"/><stop offset="1.0000" stop-color="#4189ff"/></linearGradient>
<linearGradient id="g55"><stop offset="0.0000" stop-color="#3783ff"/><stop offset="0.2000" stop-color="#448bff"/><stop offset="0.3122" stop-color="#71a8ff"/><stop offset="0.3756" stop-color="#99c1ff"/><stop offset="0.4049" stop-color="#bdd7ff"/><stop offset="0.4195" stop-color="#dbe9ff"/><stop offset="0.4293" stop-color="#f7faff"/><stop offset="0.4341" stop-color="#fffffe"/><stop offset="0.4488" stop-color="#fffff8"/><stop offset="0.4537" stop-color="#ffffe5"/><stop offset="0.4585" stop-color="#ffff6d"/><stop offset="0.4634" stop-color="#fffe00"/><stop offset="0.4732" stop-color="#fffa00"/><stop offset="0.4780" stop-color="#fff100"/><stop offset="0.4829" stop-color="#ffb300"/><stop offset="0.4878" stop-color="#ff9c00"/><stop offset="0.4927" stop-color="#ffad00"/><stop offset="0.4976" stop-color="#ffe500"/><stop offset="0.5024" stop-color="#fff900"/><stop offset="0.5122" stop-color="#fffe00"/><stop offset="0.5171" stop-color="#ffff38"/><stop offset="0.5220" stop-color="#ffffb3"/><stop offset="0.5268" stop-color="#fffff6"/><stop offset="0.5512" stop-color="#fbfdff"/><stop offset="0.5707" stop-color="#d1e3ff"/><stop offset="0.6000" stop-color="#b0cfff"/><stop offset="0.6488" stop-color="#93beff"/><stop offset="0.8439" stop-color="#5998ff"/><stop offset="0.9756" stop-color="#438aff"/><stop offset="1.0000" stop-color="#4289ff"/></linearGradient>
<linearGradient id="g56"><stop offset="0.0000" stop-color="#3783ff"/><stop offset="0.1951" stop-color="#448bff"/><stop offset="0.3122" stop-color="#72a9ff"/><stop offset="0.3756" stop-color="#9ac2ff"/><stop offset="0.4049" stop-color="#bfd9ff"/><stop offset="0.4195" stop-color="#dfecff"/><stop offset="0.4293" stop-color="#fcfdff"/><stop offset="0.4488" stop-color="#fffff7"/><stop offset="0.4537" stop-color="#ffffcc"/><stop offset="0.4585" stop-color="#ffff4f"/><stop offset="0.4634" stop-color="#fffe00"/><stop offset="0.4780" stop-color="#fff800"/><stop offset="0.4829" stop-color="#ffc600"/><stop offset="0.4878" stop-color="#ffbb00"/><stop offset="0.4976" stop-color="#fff900"/><stop offset="0.5122" stop-color="#ffff00"/><stop offset="0.5220" stop-color="#ffffd5"/><stop offset="0.5268" stop-color="#fffff7"/><stop offset="0.5463" stop-color="#fffffe"/><stop offset="0.5512" stop-color="#fafcff"/><stop offset="0.5707" stop-color="#d2e4ff"/><stop offset="0.6000" stop-color="#b1d0ff"/><stop offset="0.6488" stop-color="#94bfff"/><stop offset="0.8439" stop-color="#5999ff"/><stop offset="0.9805" stop-color="#438aff"/><stop offset="1.0000" stop-color="#428aff"/></linearGradient>
<linearGradient id="g57"><stop offset="0.0000" stop-color="#3883ff"/><stop offset="0.1902" stop-color="#448bff"/><stop offset="0.3073" stop-color="#71a8ff"/><stop offset="0.3756" stop-color="#9bc3ff"/><stop offset="0.4049" stop-color="#c2daff"/><stop offset="0.4195" stop-color="#e2eeff"/><stop offset="0.4293" stop-color="#ffffff"/><stop offset="0.4488" stop-color="#fffff6"/><stop offset="0.4537" stop-color="#ffffb5"/><stop offset="0.4585" stop-color="#ffff34"/><stop offset="0.4634" stop-color="#fffd00"/><stop offset="0.4780" stop-color="#fff800"/><stop offset="0.4829" stop-color="#ffde00"/><stop offset="0.4878" stop-color="#ffde00"/><stop offset="0.4927" stop-color="#fff800"/><stop offset="0.5073" stop-color="#fffd00"/><stop offset="0.5122" stop-color="#ffff19"/><stop offset="0.5171" stop-color="#ffff94"/><stop offset="0.5220" stop-color="#fffff5"/><stop offset="0.5463" stop-color="#fffffe"/><stop offset="0.5561" stop-color="#eef5ff"/><stop offset="0.5756" stop-color="#cbe0ff"/><stop offset="0.6146" stop-color="#a7caff"/><stop offset="0.6780" stop-color="#8ab8ff"/><stop offset="0.8585" stop-color="#5697ff"/><stop offset="0.9902" stop-color="#428aff"/><stop offset="1.0000" stop-color="#428aff"/></linearGradient>
<linearGradient id="g58"><stop offset="0.0000" stop-color="#3883ff"/><stop offset="0.1902" stop-color="#458cff"/><stop offset="0.3122" stop-color="#74aaff"/><stop offset="0.3707" stop-color="#98c1ff"/><stop offset="0.4000" stop-color="#bcd7ff"/><stop offset="0.4146" stop-color="#d9e8ff"/><stop offset="0.4293" stop-color="#ffffff"/><stop offset="0.4488" stop-color="#fffff6"/><stop offset="0.4537" stop-color="#ffff9f"/><stop offset="0.4585" stop-color="#ffff1d"/><stop offset="0.4634" stop-color="#fffd00"/><stop offset="0.4927" stop-color="#fff900"/><stop offset="0.5073" stop-color="#fffe00"/><stop offset="0.5122" stop-color="#ffff4d"/><stop offset="0.5171" stop-color="#ffffb7"/><stop offset="0.5220" stop-color="#fffff6"/><stop offset="0.5463" stop-color="#ffffff"/><stop offset="0.5756" stop-color="#cce0ff"/><stop offset="0.6146" stop-color="#a8cbff"/><stop offset="0.6780" stop-color="#8bb9ff"/><stop offset="0.8585" stop-color="#5797ff"/><stop offset="0.9902" stop-color="#438aff"/><stop offset="1.0000" stop-color="#428aff"/></linearGradient>
<linearGradient id="g59"><stop offset="0.0000" stop-color="#3883ff"/><stop offset="0.1854" stop-color="#458cff"/><stop offset="0.3073" stop-color="#73a9ff"/><stop offset="0.3707" stop-color="#99c2ff"/><stop offset="0.4000" stop-color="#bed8ff"/><stop offset="0.4146" stop-color="#ddeaff"/><stop offset="0.4244" stop-color="#f8fbff"/><stop offset="0.4293" stop-color="#fffffe"/><stop offset="0.4488" stop-color="#fffff5"/><stop offset="0.4537" stop-color="#ffff8c"/><stop offset="0.4585" stop-color="#ffff08"/><stop offset="0.4634" stop-color="#fffd00"/><stop offset="0.4927" stop-color="#fffa00"/><stop offset="0.5024" stop-color="#fffd00"/><stop offset="0.5073" stop-color="#ffff07"/><stop offset="0.5122" stop-color="#ffff7e"/><stop offset="0.5171" stop-color="#ffffd8"/><stop offset="0.5220" stop-color="#fffff7"/><stop offset="0.5463" stop-color="#ffffff"/><stop offset="0.5756" stop-color="#cce1ff"/><stop offset="0.6195" stop-color="#a6caff"/><stop offset="0.6927" stop-color="#87b6ff"/><stop offset="0.8683" stop-color="#5596ff"/><stop offset="1.0000" stop-color="#428aff"/></linearGradient>
<linearGradient id="g60"><stop offset="0.0000" stop-color="#3883ff"/><stop offset="0.1805" stop-color="#458bff"/><stop offset="0.3073" stop-color="#74aaff"/><stop offset="0.3707" stop-color="#9bc3ff"/><stop offset="0.4000" stop-color="#c1daff"/><stop offset="0.4146" stop-color="#e1edff"/><stop offset="0.4244" stop-color="#fefeff"/><stop offset="0.4439" stop-color="#fffff7"/><stop offset="0.4488" stop-color="#ffffdb"/><stop offset="0.4537" stop-color="#ffff72"/><stop offset="0.4585" stop-color="#ffff00"/><stop offset="0.4878" stop-color="#fffa00"/><stop offset="0.5024" stop-color="#fffe00"/><stop offset="0.5073" stop-color="#ffff32"/><stop offset="0.5122" stop-color="#ffff9b"/><stop offset="0.5171" stop-color="#fffff2"/><stop offset="0.5415" stop-color="#fffffe"/><stop offset="0.5463" stop-color="#ffffff"/><stop offset="0.5756" stop-color="#cde1ff"/><stop offset="0.6195" stop-color="#a7caff"/><stop offset="0.6878" stop-color="#89b7ff"/><stop offset="0.8634" stop-color="#5797ff"/><stop offset="1.0000" stop-color="#438aff"/></linearGradient>
<linearGradient id="g61"><stop offset="0.0000" stop-color="#3883ff"/><stop offset="0.1805" stop-color="#468cff"/><stop offset="0.3073" stop-color="#75abff"/><stop offset="0.3659" stop-color="#99c2ff"/><stop offset="0.3951" stop-color="#bdd7ff"/><stop offset="0.4098" stop-color="#dae9ff"/><stop offset="0.4244" stop-color="#ffffff"/><stop offset="0.4439" stop-color="#fffff6"/><stop offset="0.4488" stop-color="#ffffba"/><stop offset="0.4537" stop-color="#ffff4a"/><stop offset="0.4585" stop-color="#fffe00"/><stop offset="0.4878" stop-color="#fffa00"/><stop offset="0.5024" stop-color="#ffff00"/><stop offset="0.5073" stop-color="#ffff52"/><stop offset="0.5122" stop-color="#ffffb1"/><stop offset="0.5171" stop-color="#fffff5"/><stop offset="0.5463" stop-color="#ffffff"/><stop offset="0.5756" stop-color="#cee2ff"/><stop offset="0.6195" stop-color="#a8cbff"/><stop offset="0.6878" stop-color="#89b8ff"/><stop offset="0.8585" stop-color="#5898ff"/><stop offset="1.0000" stop-color="#438aff"/></linearGradient>
<linearGradient id="g62"><stop offset="0.0000" stop-color="#3883ff"/><stop offset="0.1756" stop-color="#468cff"/><stop offset="0.3024" stop-color="#74aaff"/><stop offset="0.3659" stop-color="#9bc3ff"/><stop offset="0.3951" stop-color="#c0d9ff"/><stop offset="0.4098" stop-color="#dfecff"/><stop offset="0.4195" stop-color="#fafcff"/><stop offset="0.4293" stop-color="#fffffc"/><stop offset="0.4439" stop-color="#fffff5"/><stop offset="0.4488" stop-color="#ffff9b"/><stop offset="0.4537" stop-color="#ffff25"/><stop offset="0.4585" stop-color="#fffe00"/><stop offset="0.4878" stop-color="#fffa00"/><stop offset="0.4976" stop-color="#fffd00"/><stop offset="0.5024" stop-color="#ffff05"/><stop offset="0.5073" stop-color="#ffff72"/><stop offset="0.5122" stop-color="#ffffc5"/><stop offset="0.5171" stop-color="#fffff6"/><stop offset="0.5463" stop-color="#ffffff"/><stop offset="0.5756" stop-color="#cfe2ff"/><stop offset="0.6195" stop-color="#a9cbff"/><stop offset="0.6829" stop-color="#8cb9ff"/><stop offset="0.8585" stop-color="#5999ff"/><stop offset="1.0000" stop-color="#438aff"/></linearGradient>
<linearGradient id="g63"><stop offset="0.0000" stop-color="#3984ff"/><stop offset="0.1707" stop-color="#468cff"/><stop offset="0.3024" stop-color="#76abff"/><stop offset="0.3610" stop-color="#99c1ff"/><stop offset="0.3902" stop-color="#bcd7ff"/><stop offset="0.4049" stop-color="#d8e7ff"/><stop offset="0.4195" stop-color="#ffffff"/><stop offset="0.4390" stop-color="#fffff7"/><stop offset="0.4439" stop-color="#ffffdf"/><stop offset="0.4488" stop-color="#ffff7e"/><stop offset="0.4537" stop-color="#ffff03"/><stop offset="0.4878" stop-color="#fffb00"/><stop offset="0.4976" stop-color="#fffe00"/><stop offset="0.5024" stop-color="#ffff25"/><stop offset="0.5073" stop-color="#ffff8a"/><stop offset="0.5122" stop-color="#ffffd9"/><stop offset="0.5171" stop-color="#fffff6"/><stop offset="0.5463" stop-color="#ffffff"/><stop offset="0.5805" stop-color="#cadfff"/><stop offset="0.6293" stop-color="#a4c8ff"/><stop offset="0.7220" stop-color="#7fb1ff"/><stop offset="0.8829" stop-color="#5495ff"/><stop offset="1.0000" stop-color="#438aff"/></linearGradient>
<linearGradient id="g64"><stop offset="0.0000" stop-color="#3984ff"/><stop offset="0.1707" stop-color="#478dff"/><stop offset="0.3024" stop-color="#77acff"/><stop offset="0.3610" stop-color="#9ac3ff"/><stop offset="0.3902" stop-color="#bfd9ff"/><stop offset="0.4049" stop-color="#ddeaff"/><stop offset="0.4146" stop-color="#f7faff"/><stop offset="0.4195" stop-color="#fffffe"/><stop offset="0.4390" stop-color="#fffff6"/><stop offset="0.4439" stop-color="#ffffc1"/><stop offset="0.4488" stop-color="#ffff5b"/><stop offset="0.4537" stop-color="#ffff00"/><stop offset="0.4878" stop-color="#fffb00"/><stop offset="0.4976" stop-color="#fffe00"/><stop offset="0.5024" stop-color="#ffff44"/><stop offset="0.5073" stop-color="#ffff9f"/><stop offset="0.5122" stop-color="#ffffec"/><stop offset="0.5171" stop-color="#fffff7"/><stop offset="0.5463" stop-color="#ffffff"/><stop offset="0.5805" stop-color="#cbe0ff"/><stop offset="0.6293" stop-color="#a5c9ff"/><stop offset="0.7171" stop-color="#82b3ff"/><stop offset="0.8780" stop-color="#5696ff"/><stop offset="1.0000" stop-color="#438bff"/></linearGradient>
<linearGradient id="g65"><stop offset="0.0000" stop-color="#3984ff"/><stop offset="0.1659" stop-color="#478dff"/><stop offset="0.2976" stop-color="#76abff"/><stop offset="0.3561" stop-color="#98c1ff"/><stop offset="0.3854" stop-color="#bbd6ff"/><stop offset="0.4000" stop-color="#d6e6ff"/><stop offset="0.4146" stop-color="#fdfeff"/><stop offset="0.4390" stop-color="#fffff5"/><stop offset="0.4439" stop-color="#ffffa4"/><stop offset="0.4488" stop-color="#ffff39"/><stop offset="0.4537" stop-color="#fffe00"/><stop offset="0.4878" stop-color="#fffc00"/><stop offset="0.4976" stop-color="#ffff00"/><stop offset="0.5024" stop-color="#ffff63"/><stop offset="0.5073" stop-color="#ffffb3"/><stop offset="0.5122" stop-color="#fffff5"/><stop offset="0.5463" stop-color="#ffffff"/><stop offset="0.5805" stop-color="#cce0ff"/><stop offset="0.6341" stop-color="#a3c8ff"/><stop offset="0.7415" stop-color="#7aaeff"/><stop offset="0.9024" stop-color="#5194ff"/><stop offset="1.0000" stop-color="#448bff"/></linearGradient>
<linearGradient id="g66"><stop offset="0.0000" stop-color="#3984ff"/><stop offset="0.1610" stop-color="#468dff"/><stop offset="0.2927" stop-color="#75abff"/><stop offset="0.3561" stop-color="#9ac2ff"/><stop offset="0.3854" stop-color="#bed8ff"/><stop offset="0.4000" stop-color="#dbe9ff"/><stop offset="0.4146" stop-color="#ffffff"/><stop offset="0.4341" stop-color="#fffff7"/><stop offset="0.4390" stop-color="#ffffe5"/><stop offset="0.4439" stop-color="#ffff89"/><stop offset="0.4488" stop-color="#ffff1a"/><stop offset="0.4537" stop-color="#fffe00"/><stop offset="0.4878" stop-color="#fffc00"/><stop offset="0.4927" stop-color="#fffe00"/><stop offset="0.4976" stop-color="#ffff1f"/><stop offset="0.5024" stop-color="#ffff7e"/><stop offset="0.5073" stop-color="#ffffc7"/><stop offset="0.5122" stop-color="#fffff6"/><stop offset="0.5463" stop-color="#ffffff"/><stop offset="0.5805" stop-color="#cde1ff"/><stop offset="0.6341" stop-color="#a4c9ff"/><stop offset="0.7366" stop-color="#7db0ff"/><stop offset="0.8927" stop-color="#5495ff"/><stop offset="1.0000" stop-color="#448bff"/></linearGradient>
<linearGradient id="g67"><stop offset="0.0000" stop-color="#3984ff"/><stop offset="0.1610" stop-color="#478dff"/><stop offset="0.2927" stop-color="#76abff"/><stop offset="0.3512" stop-color="#98c1ff"/><stop offset="0.3805" stop-color="#bad6ff"/><stop offset="0.4000" stop-color="#e0ecff"/><stop offset="0.4098" stop-color="#fafcff"/><stop offset="0.4195" stop-color="#fffffd"/><stop offset="0.4341" stop-color="#fffff6"/><stop offset="0.4390" stop-color="#ffffc9"/><stop offset="0.4439" stop-color="#ffff6d"/><stop offset="0.4488" stop-color="#ffff00"/><stop offset="0.4829" stop-color="#fffc00"/><stop offset="0.4927" stop-color="#fffe00"/><stop offset="0.4976" stop-color="#ffff3d"/><stop offset="0.5024" stop-color="#ffff93"/><stop offset="0.5073" stop-color="#ffffd9"/><stop offset="0.5122" stop-color="#fffff6"/><stop offset="0.5463" stop-color="#ffffff"/><stop offset="0.5805" stop-color="#cee2ff"/><stop offset="0.6341" stop-color="#a5c9ff"/><stop offset="0.7317" stop-color="#7fb1ff"/><stop offset="0.8878" stop-color="#5596ff"/><stop offset="1.0000" stop-color="#448bff"/></linearGradient>
<linearGradient id="g68"><stop offset="0.0000" stop-color="#3a84ff"/><stop offset="0.1561" stop-color="#478dff"/><stop offset="0.2878" stop-color="#75abff"/><stop offset="0.3512" stop-color="#9ac2ff"/><stop offset="0.3805" stop-color="#bdd7ff"/><stop offset="0.3951" stop-color="#d9e8ff"/><stop offset="0.4098" stop-color="#ffffff"/><stop offset="0.4341" stop-color="#fffff5"/><stop offset="0.4390" stop-color="#ffffae"/><stop offset="0.4439" stop-color="#ffff4e"/><stop offset="0.4488" stop-color="#ffff00"/><stop offset="0.4829" stop-color="#fffc00"/><stop offset="0.4927" stop-color="#ffff00"/><stop offset="0.4976" stop-color="#ffff5a"/><stop offset="0.5024" stop-color="#ffffa7"/><stop offset="0.5073" stop-color="#ffffeb"/><stop offset="0.5122" stop-color="#fffff6"/><stop offset="0.5463" stop-color="#ffffff"/><stop offset="0.5854" stop-color="#cadfff"/><stop offset="0.6439" stop-color="#a1c6ff"/><stop offset="0.7854" stop-color="#6ea7ff"/><stop offset="0.9512" stop-color="#4b8fff"/><stop offset="1.0000" stop-color="#448bff"/></linearGradient>
<linearGradient id="g69"><stop offset="0.0000" stop-color="#3a84ff"/><stop offset="0.1512" stop-color="#478dff"/><stop offset="0.2878" stop-color="#76abff"/><stop offset="0.3463" stop-color="#98c1ff"/><stop offset="0.3756" stop-color="#b9d5ff"/><stop offset="0.3951" stop-color="#ddebff"/><stop offset="0.4098" stop-color="#fffffe"/><stop offset="0.4293" stop-color="#fffff7"/><stop offset="0.4341" stop-color="#ffffec"/><stop offset="0.4390" stop-color="#ffff95"/><stop offset="0.4439" stop-color="#ffff31"/><stop offset="0.4488" stop-color="#fffe00"/><stop offset="0.4829" stop-color="#fffd00"/><stop offset="0.4878" stop-color="#fffe00"/><stop offset="0.4927" stop-color="#ffff1e"/><stop offset="0.4976" stop-color="#ffff77"/><stop offset="0.5024" stop-color="#ffffba"/><stop offset="0.5073" stop-color="#fffff5"/><stop offset="0.5463" stop-color="#ffffff"/><stop offset="0.5854" stop-color="#cbe0ff"/><stop offset="0.6439" stop-color="#a2c7ff"/><stop offset="0.7756" stop-color="#72a9ff"/><stop offset="0.9415" stop-color="#4d91ff"/><stop offset="1.0000" stop-color="#458bff"/></linearGradient>
<linearGradient id="g70"><stop offset="0.0000" stop-color="#3a85ff"/><stop offset="0.1512" stop-color="#488eff"/><stop offset="0.2878" stop-color="#77acff"/><stop offset="0.3463" stop-color="#99c2ff"/><stop offset="0.3805" stop-color="#c3dbff"/><stop offset="0.4000" stop-color="#eef5ff"/><stop offset="0.4049" stop-color="#fbfdff"/><stop offset="0.4293" stop-color="#fffff6"/><stop offset="0.4341" stop-color="#ffffd6"/><stop offset="0.4390" stop-color="#ffff82"/><stop offset="0.4439" stop-color="#ffff1c"/><stop offset="0.4488" stop-color="#fffe00"/><stop offset="0.4829" stop-color="#fffd00"/><stop offset="0.4878" stop-color="#ffff00"/><stop offset="0.4927" stop-color="#ffff39"/><stop offset="0.4976" stop-color="#ffff8a"/><stop offset="0.5024" stop-color="#ffffcb"/><stop offset="0.5073" stop-color="#fffff6"/><stop offset="0.5463" stop-color="#ffffff"/><stop offset="0.5854" stop-color="#cbe0ff"/><stop offset="0.6488" stop-color="#a0c6ff"/><stop offset="0.8049" stop-color="#6aa3ff"/><stop offset="0.9805" stop-color="#478dff"/><stop offset="1.0000" stop-color="#458cff"/></linearGradient>
<linearGradient id="g71"><stop offset="0.0000" stop-color="#3a85ff"/><stop offset="0.1463" stop-color="#488dff"/><stop offset="0.2829" stop-color="#76abff"/><stop offset="0.3463" stop-color="#9bc3ff"/><stop offset="0.3805" stop-color="#c6ddff"/><stop offset="0.4000" stop-color="#f2f7ff"/><stop offset="0.4049" stop-color="#ffffff"/><stop offset="0.4293" stop-color="#fffff6"/><stop offset="0.4341" stop-color="#ffffc4"/><stop offset="0.4390" stop-color="#ffff71"/><stop offset="0.4439" stop-color="#ffff0c"/><stop offset="0.4488" stop-color="#fffe00"/><stop offset="0.4829" stop-color="#fffe00"/><stop offset="0.4878" stop-color="#ffff00"/><stop offset="0.4927" stop-color="#ffff52"/><stop offset="0.4976" stop-color="#ffff9c"/><stop offset="0.5024" stop-color="#ffffdb"/><stop offset="0.5073" stop-color="#fffff6"/><stop offset="0.5463" stop-color="#ffffff"/><stop offset="0.5854" stop-color="#cbe0ff"/><stop offset="0.6488" stop-color="#a0c6ff"/><stop offset="0.8000" stop-color="#6ba5ff"/><stop offset="0.9707" stop-color="#498eff"/><stop offset="1.0000" stop-color="#458cff"/></linearGradient>
<linearGradient id="g72"><stop offset="0.0000" stop-color="#3b85ff"/><stop offset="0.1463" stop-color="#488eff"/><stop offset="0.2829" stop-color="#77acff"/><stop offset="0.3415" stop-color="#98c1ff"/><stop offset="0.3756" stop-color="#c1daff"/><stop offset="0.3951" stop-color="#e9f2ff"/><stop offset="0.4049" stop-color="#ffffff"/><stop offset="0.4293" stop-color="#fffff5"/><stop offset="0.4341" stop-color="#ffffb3"/><stop offset="0.4390" stop-color="#ffff5e"/><stop offset="0.4439" stop-color="#ffff00"/><stop offset="0.4780" stop-color="#fffd00"/><stop offset="0.4829" stop-color="#fffe00"/><stop offset="0.4878" stop-color="#ffff18"/><stop offset="0.4927" stop-color="#ffff6b"/><stop offset="0.5024" stop-color="#ffffeb"/><stop offset="0.5073" stop-color="#fffff6"/><stop offset="0.5463" stop-color="#fefeff"/><stop offset="0.5854" stop-color="#cbe0ff"/><stop offset="0.6488" stop-color="#a0c6ff"/><stop offset="0.7951" stop-color="#6da6ff"/><stop offset="0.9659" stop-color="#4a8fff"/><stop offset="1.0000" stop-color="#468cff"/></linearGradient>
<linearGradient id="g73"><stop offset="0.0000" stop-color="#3b85ff"/><stop offset="0.1415" stop-color="#488eff"/><stop offset="0.2780" stop-color="#75abff"/><stop offset="0.3415" stop-color="#9ac2ff"/><stop offset="0.3756" stop-color="#c3dbff"/><stop offset="0.3951" stop-color="#edf4ff"/><stop offset="0.4000" stop-color="#fafcff"/><stop offset="0.4098" stop-color="#fffffd"/><stop offset="0.4293" stop-color="#fffff4"/><stop offset="0.4390" stop-color="#ffff4d"/><stop offset="0.4439" stop-color="#ffff00"/><stop offset="0.4780" stop-color="#fffd00"/><stop offset="0.4829" stop-color="#ffff00"/><stop offset="0.4878" stop-color="#ffff31"/><stop offset="0.4927" stop-color="#ffff80"/><stop offset="0.5024" stop-color="#fffff5"/><stop offset="0.5463" stop-color="#fdfeff"/><stop offset="0.5854" stop-color="#cbe0ff"/><stop offset="0.6488" stop-color="#a0c6ff"/><stop offset="0.7951" stop-color="#6da6ff"/><stop offset="0.9659" stop-color="#4a8fff"/><stop offset="1.0000" stop-color="#468cff"/></linearGradient>
<linearGradient id="g74"><stop offset="0.0000" stop-color="#3b85ff"/><stop offset="0.1415" stop-color="#498eff"/><stop offset="0.2780" stop-color="#76abff"/><stop offset="0.3415" stop-color="#9bc3ff"/><stop offset="0.3756" stop-color="#c6ddff"/><stop offset="0.3951" stop-color="#f0f6ff"/><stop offset="0.4000" stop-color="#fdfeff"/><stop offset="0.4244" stop-color="#fffff7"/><stop offset="0.4293" stop-color="#ffffe3"/><stop offset="0.4341" stop-color="#ffff95"/><stop offset="0.4390" stop-color="#ffff3e"/><stop offset="0.4439" stop-color="#ffff00"/><stop offset="0.4829" stop-color="#ffff00"/><stop offset="0.4927" stop-color="#ffff91"/><stop offset="0.4976" stop-color="#ffffcd"/><stop offset="0.5024" stop-color="#fffff6"/><stop offset="0.5463" stop-color="#fcfdff"/><stop offset="0.5854" stop-color="#cbe0ff"/><stop offset="0.6488" stop-color="#a1c6ff"/><stop offset="0.7951" stop-color="#6ea6ff"/><stop offset="0.9659" stop-color="#4a8fff"/><stop offset="1.0000" stop-color="#468cff"/></linearGradient>
<linearGradient id="g75"><stop offset="0.0000" stop-color="#3b85ff"/><stop offset="0.1366" stop-color="#488eff"/><stop offset="0.2780" stop-color="#77acff"/><stop offset="0.3366" stop-color="#98c1ff"/><stop offset="0.3707" stop-color="#c0d9ff"/><stop offset="0.3902" stop-color="#e8f1ff"/><stop offset="0.4000" stop-color="#ffffff"/><stop offset="0.4244" stop-color="#fffff6"/><stop offset="0.4293" stop-color="#ffffd4"/><stop offset="0.4341" stop-color="#ffff88"/><stop offset="0.4390" stop-color="#ffff31"/><stop offset="0.4439" stop-color="#fffe00"/><stop offset="0.4780" stop-color="#fffe00"/><stop offset="0.4829" stop-color="#ffff17"/><stop offset="0.4878" stop-color="#ffff62"/><stop offset="0.4976" stop-color="#ffffdd"/><stop offset="0.5024" stop-color="#fffff6"/><stop offset="0.5415" stop-color="#ffffff"/><stop offset="0.5902" stop-color="#c7deff"/><stop offset="0.6585" stop-color="#9cc4ff"/><stop offset="0.8293" stop-color="#65a0ff"/><stop offset="1.0000" stop-color="#468dff"/></linearGradient>
<linearGradient id="g76"><stop offset="0.0000" stop-color="#3b85ff"/><stop offset="0.1317" stop-color="#488eff"/><stop offset="0.2732" stop-color="#76abff"/><stop offset="0.3366" stop-color="#9ac2ff"/><stop offset="0.3707" stop-color="#c3dbff"/><stop offset="0.3902" stop-color="#ebf3ff"/><stop offset="0.4000" stop-color="#fffffe"/><stop offset="0.4244" stop-color="#fffff6"/><stop offset="0.4293" stop-color="#ffffc5"/><stop offset="0.4341" stop-color="#ffff7c"/><stop offset="0.4390" stop-color="#ffff25"/><stop offset="0.4439" stop-color="#fffe00"/><stop offset="0.4780" stop-color="#ffff00"/><stop offset="0.4829" stop-color="#ffff2f"/><stop offset="0.4878" stop-color="#ffff79"/><stop offset="0.4976" stop-color="#ffffed"/><stop offset="0.5024" stop-color="#fffff6"/><stop offset="0.5415" stop-color="#ffffff"/><stop offset="0.5902" stop-color="#c7deff"/><stop offset="0.6585" stop-color="#9cc4ff"/><stop offset="0.8293" stop-color="#65a0ff"/><stop offset="1.0000" stop-color="#478dff"/></linearGradient>
<linearGradient id="g77"><stop offset="0.0000" stop-color="#3c86ff"/><stop offset="0.1317" stop-color="#498eff"/><stop offset="0.2732" stop-color="#76acff"/><stop offset="0.3366" stop-color="#9bc3ff"/><stop offset="0.3707" stop-color="#c5dcff"/><stop offset="0.3902" stop-color="#eff5ff"/><stop offset="0.3951" stop-color="#fbfdff"/><stop offset="0.4195" stop-color="#fffff7"/><stop offset="0.4244" stop-color="#fffff5"/><stop offset="0.4293" stop-color="#ffffb7"/><stop offset="0.4341" stop-color="#ffff6f"/><stop offset="0.4390" stop-color="#ffff1b"/><stop offset="0.4439" stop-color="#fffe00"/><stop offset="0.4780" stop-color="#ffff02"/><stop offset="0.4878" stop-color="#ffff8b"/><stop offset="0.4927" stop-color="#ffffc3"/><stop offset="0.4976" stop-color="#fffff5"/><stop offset="0.5415" stop-color="#ffffff"/><stop offset="0.5902" stop-color="#c7deff"/><stop offset="0.6585" stop-color="#9cc4ff"/><stop offset="0.8293" stop-color="#65a1ff"/><stop offset="1.0000" stop-color="#478dff"/></linearGradient>
<linearGradient id="g78"><stop offset="0.0000" stop-color="#3c86ff"/><stop offset="0.1268" stop-color="#488eff"/><stop offset="0.2683" stop-color="#75abff"/><stop offset="0.3317" stop-color="#98c1ff"/><stop offset="0.3659" stop-color="#c0d9ff"/><stop offset="0.3854" stop-color="#e6f0ff"/><stop offset="0.3951" stop-color="#ffffff"/><stop offset="0.4244" stop-color="#fffff3"/><stop offset="0.4341" stop-color="#ffff62"/><stop offset="0.4390" stop-color="#ffff13"/><stop offset="0.4439" stop-color="#fffe00"/><stop offset="0.4732" stop-color="#fffe00"/><stop offset="0.4780" stop-color="#ffff1a"/><stop offset="0.4829" stop-color="#ffff5f"/><stop offset="0.4927" stop-color="#ffffd3"/><stop offset="0.4976" stop-color="#fffff6"/><stop offset="0.5415" stop-color="#ffffff"/><stop offset="0.5854" stop-color="#cbe0ff"/><stop offset="0.6537" stop-color="#9fc5ff"/><stop offset="0.8146" stop-color="#69a3ff"/><stop offset="0.9951" stop-color="#488dff"/><stop offset="1.0000" stop-color="#478dff"/></linearGradient>
<linearGradient id="g79"><stop offset="0.0000" stop-color="#3c86ff"/><stop offset="0.1268" stop-color="#498eff"/><stop offset="0.2683" stop-color="#76abff"/><stop offset="0.3317" stop-color="#9ac2ff"/><stop offset="0.3659" stop-color="#c2dbff"/><stop offset="0.3854" stop-color="#e9f2ff"/><stop offset="0.3951" stop-color="#ffffff"/><stop offset="0.4195" stop-color="#fffff6"/><stop offset="0.4244" stop-color="#ffffe5"/><stop offset="0.4390" stop-color="#ffff0c"/><stop offset="0.4439" stop-color="#fffe00"/><stop offset="0.4732" stop-color="#ffff00"/><stop offset="0.4780" stop-color="#ffff32"/><stop offset="0.4829" stop-color="#ffff76"/><stop offset="0.4927" stop-color="#ffffe3"/><stop offset="0.4976" stop-color="#fffff6"/><stop offset="0.5415" stop-color="#ffffff"/><stop offset="0.5854" stop-color="#cbe0ff"/><stop offset="0.6537" stop-color="#9fc5ff"/><stop offset="0.8098" stop-color="#6ba4ff"/><stop offset="0.9902" stop-color="#498eff"/><stop offset="1.0000" stop-color="#478dff"/></linearGradient>
<linearGradient id="g80"><stop offset="0.0000" stop-color="#3c86ff"/><stop offset="0.1220" stop-color="#498eff"/><stop offset="0.2683" stop-color="#77acff"/><stop offset="0.3317" stop-color="#9bc3ff"/><stop offset="0.3659" stop-color="#c5dcff"/><stop offset="0.3854" stop-color="#edf4ff"/><stop offset="0.3902" stop-color="#f9fbff"/><stop offset="0.4000" stop-color="#fffffd"/><stop offset="0.4195" stop-color="#fffff6"/><stop offset="0.4244" stop-color="#ffffd9"/><stop offset="0.4390" stop-color="#ffff07"/><stop offset="0.4439" stop-color="#fffe00"/><stop offset="0.4683" stop-color="#fffe00"/><stop offset="0.4732" stop-color="#ffff0b"/><stop offset="0.4829" stop-color="#ffff88"/><stop offset="0.4927" stop-color="#fffff2"/><stop offset="0.5415" stop-color="#ffffff"/><stop offset="0.5854" stop-color="#cbe0ff"/><stop offset="0.6585" stop-color="#9dc4ff"/><stop offset="0.8244" stop-color="#67a2ff"/><stop offset="1.0000" stop-color="#488dff"/></linearGradient>
<linearGradient id="g81"><stop offset="0.0000" stop-color="#3d86ff"/><stop offset="0.1220" stop-color="#4a8fff"/><stop offset="0.2634" stop-color="#75abff"/><stop offset="0.3268" stop-color="#99c1ff"/><stop offset="0.3610" stop-color="#c0d9ff"/><stop offset="0.3805" stop-color="#e5efff"/><stop offset="0.3902" stop-color="#fdfeff"/><stop offset="0.4195" stop-color="#fffff6"/><stop offset="0.4244" stop-color="#ffffcd"/><stop offset="0.4390" stop-color="#ffff04"/><stop offset="0.4585" stop-color="#fffe00"/><stop offset="0.4683" stop-color="#ffff00"/><stop offset="0.4732" stop-color="#ffff22"/><stop offset="0.4780" stop-color="#ffff61"/><stop offset="0.4878" stop-color="#ffffcd"/><stop offset="0.4927" stop-color="#fffff5"/><stop offset="0.5415" stop-color="#fefeff"/><stop offset="0.5854" stop-color="#cbe0ff"/><stop offset="0.6585" stop-color="#9dc4ff"/><stop offset="0.8244" stop-color="#67a2ff"/><stop offset="1.0000" stop-color="#488eff"/></linearGradient>
<linearGradient id="g82"><stop offset="0.0000" stop-color="#3d86ff"/><stop offset="0.1171" stop-color="#498eff"/><stop offset="0.2634" stop-color="#76acff"/><stop offset="0.3268" stop-color="#9ac2ff"/><stop offset="0.3610" stop-color="#c2daff"/><stop offset="0.3805" stop-color="#e8f1ff"/><stop offset="0.3902" stop-color="#ffffff"/><stop offset="0.4195" stop-color="#fffff5"/><stop offset="0.4244" stop-color="#ffffc2"/><stop offset="0.4293" stop-color="#ffff84"/><stop offset="0.4341" stop-color="#ffff3e"/><stop offset="0.4390" stop-color="#ffff02"/><stop offset="0.4683" stop-color="#ffff02"/><stop offset="0.4732" stop-color="#ffff39"/><stop offset="0.4780" stop-color="#ffff78"/><stop offset="0.4878" stop-color="#ffffdd"/><stop offset="0.4927" stop-color="#fffff6"/><stop offset="0.5415" stop-color="#fdfeff"/><stop offset="0.5854" stop-color="#cbe0ff"/><stop offset="0.6585" stop-color="#9ec5ff"/><stop offset="0.8244" stop-color="#68a2ff"/><stop offset="1.0000" stop-color="#488eff"/></linearGradient>
<linearGradient id="g83"><stop offset="0.0000" stop-color="#3d86ff"/><stop offset="0.1122" stop-color="#498eff"/><stop offset="0.2585" stop-color="#75abff"/><stop offset="0.3220" stop-color="#98c1ff"/><stop offset="0.3561" stop-color="#bdd7ff"/><stop offset="0.3756" stop-color="#e0ecff"/><stop offset="0.3902" stop-color="#ffffff"/><stop offset="0.4195" stop-color="#fffff5"/><stop offset="0.4293" stop-color="#ffff7d"/><stop offset="0.4341" stop-color="#ffff39"/><stop offset="0.4390" stop-color="#ffff01"/><stop offset="0.4634" stop-color="#ffff00"/><stop offset="0.4683" stop-color="#ffff18"/><stop offset="0.4780" stop-color="#ffff89"/><stop offset="0.4878" stop-color="#ffffed"/><stop offset="0.4927" stop-color="#fffff6"/><stop offset="0.5415" stop-color="#fcfdff"/><stop offset="0.5854" stop-color="#cbe0ff"/><stop offset="0.6585" stop-color="#9ec5ff"/><stop offset="0.8244" stop-color="#68a2ff"/><stop offset="1.0000" stop-color="#498eff"/></linearGradient>
<linearGradient id="g84"><stop offset="0.0000" stop-color="#3d87ff"/><stop offset="0.1122" stop-color="#4a8fff"/><stop offset="0.2585" stop-color="#76abff"/><stop offset="0.3220" stop-color="#99c2ff"/><stop offset="0.3561" stop-color="#bfd9ff"/><stop offset="0.3756" stop-color="#e3eeff"/><stop offset="0.3854" stop-color="#fafcff"/><stop offset="0.3951" stop-color="#fffffd"/><stop offset="0.4146" stop-color="#fffff7"/><stop offset="0.4195" stop-color="#ffffee"/><stop offset="0.4293" stop-color="#ffff76"/><stop offset="0.4341" stop-color="#ffff35"/><stop offset="0.4390" stop-color="#ffff02"/><stop offset="0.4634" stop-color="#ffff00"/><stop offset="0.4683" stop-color="#ffff2e"/><stop offset="0.4780" stop-color="#ffff9a"/><stop offset="0.4878" stop-color="#fffff5"/><stop offset="0.5366" stop-color="#ffffff"/><stop offset="0.5902" stop-color="#c8deff"/><stop offset="0.6683" stop-color="#9ac2ff"/><stop offset="0.8439" stop-color="#64a0ff"/><stop offset="1.0000" stop-color="#498eff"/></linearGradient>
<linearGradient id="g85"><stop offset="0.0000" stop-color="#3e87ff"/><stop offset="0.1073" stop-color="#498eff"/><stop offset="0.2537" stop-color="#75abff"/><stop offset="0.3171" stop-color="#97c0ff"/><stop offset="0.3512" stop-color="#bbd6ff"/><stop offset="0.3707" stop-color="#dceaff"/><stop offset="0.3854" stop-color="#fefeff"/><stop offset="0.4146" stop-color="#fffff6"/><stop offset="0.4195" stop-color="#ffffe2"/><stop offset="0.4341" stop-color="#ffff31"/><stop offset="0.4390" stop-color="#ffff03"/><stop offset="0.4585" stop-color="#ffff00"/><stop offset="0.4634" stop-color="#ffff13"/><stop offset="0.4683" stop-color="#ffff43"/><stop offset="0.4732" stop-color="#ffff7b"/><stop offset="0.4829" stop-color="#ffffd9"/><stop offset="0.4878" stop-color="#fffff6"/><stop offset="0.5366" stop-color="#ffffff"/><stop offset="0.5902" stop-color="#c8deff"/><stop offset="0.6683" stop-color="#9ac3ff"/><stop offset="0.8488" stop-color="#639fff"/><stop offset="1.0000" stop-color="#498eff"/></linearGradient>
<linearGradient id="g86"><stop offset="0.0000" stop-color="#3e87ff"/><stop offset="0.1073" stop-color="#4a8fff"/><stop offset="0.2537" stop-color="#76abff"/><stop offset="0.3171" stop-color="#98c1ff"/><stop offset="0.3512" stop-color="#bdd7ff"/><stop offset="0.3707" stop-color="#dfecff"/><stop offset="0.3854" stop-color="#ffffff"/><stop offset="0.4146" stop-color="#fffff6"/><stop offset="0.4195" stop-color="#ffffd7"/><stop offset="0.4341" stop-color="#ffff2d"/><stop offset="0.4390" stop-color="#ffff03"/><stop offset="0.4585" stop-color="#ffff00"/><stop offset="0.4634" stop-color="#ffff25"/><stop offset="0.4780" stop-color="#ffffb7"/><stop offset="0.4829" stop-color="#ffffe7"/><stop offset="0.4878" stop-color="#fffff6"/><stop offset="0.5366" stop-color="#ffffff"/><stop offset="0.5902" stop-color="#c8deff"/><stop offset="0.6683" stop-color="#9bc3ff"/><stop offset="0.8488" stop-color="#64a0ff"/><stop offset="1.0000" stop-color="#4a8fff"/></linearGradient>
<linearGradient id="g87"><stop offset="0.0000" stop-color="#3e87ff"/><stop offset="0.1024" stop-color="#4a8fff"/><stop offset="0.2488" stop-color="#75abff"/><stop offset="0.3171" stop-color="#9ac2ff"/><stop offset="0.3512" stop-color="#bfd9ff"/><stop offset="0.3707" stop-color="#e2eeff"/><stop offset="0.3805" stop-color="#f9fbff"/><stop offset="0.3854" stop-color="#fffffe"/><stop offset="0.4146" stop-color="#fffff6"/><stop offset="0.4195" stop-color="#ffffcc"/><stop offset="0.4341" stop-color="#ffff2a"/><stop offset="0.4390" stop-color="#ffff04"/><stop offset="0.4537" stop-color="#ffff00"/><stop offset="0.4585" stop-color="#ffff0e"/><stop offset="0.4634" stop-color="#ffff37"/><stop offset="0.4780" stop-color="#ffffc5"/><stop offset="0.4829" stop-color="#fffff4"/><stop offset="0.5366" stop-color="#ffffff"/><stop offset="0.5902" stop-color="#c8deff"/><stop offset="0.6683" stop-color="#9bc3ff"/><stop offset="0.8488" stop-color="#64a0ff"/><stop offset="1.0000" stop-color="#4a8fff"/></linearGradient>
<linearGradient id="g88"><stop offset="0.0000" stop-color="#3e87ff"/><stop offset="0.1024" stop-color="#4b8fff"/><stop offset="0.2488" stop-color="#76abff"/><stop offset="0.3122" stop-color="#97c1ff"/><stop offset="0.3463" stop-color="#bbd6ff"/><stop offset="0.3659" stop-color="#dbe9ff"/><stop offset="0.3805" stop-color="#fcfdff"/><stop offset="0.4146" stop-color="#fffff5"/><stop offset="0.4341" stop-color="#ffff29"/><stop offset="0.4390" stop-color="#ffff07"/><stop offset="0.4439" stop-color="#ffff00"/><stop offset="0.4537" stop-color="#ffff01"/><stop offset="0.4585" stop-color="#ffff1f"/><stop offset="0.4634" stop-color="#ffff49"/><stop offset="0.4683" stop-color="#ffff7b"/><stop offset="0.4780" stop-color="#ffffd3"/><stop offset="0.4829" stop-color="#fffff5"/><stop offset="0.5366" stop-color="#ffffff"/><stop offset="0.5902" stop-color="#c8deff"/><stop offset="0.6732" stop-color="#9ac2ff"/><stop offset="0.8537" stop-color="#639fff"/><stop offset="1.0000" stop-color="#4a8fff"/></linearGradient>
<linearGradient id="g89"><stop offset="0.0000" stop-color="#3f87ff"/><stop offset="0.0976" stop-color="#4a8fff"/><stop offset="0.2488" stop-color="#77acff"/><stop offset="0.3122" stop-color="#99c2ff"/><stop offset="0.3463" stop-color="#bdd8ff"/><stop offset="0.3659" stop-color="#deebff"/><stop offset="0.3805" stop-color="#ffffff"/><stop offset="0.4146" stop-color="#fffff2"/><stop offset="0.4195" stop-color="#ffffba"/><stop offset="0.4293" stop-color="#ffff54"/><stop offset="0.4341" stop-color="#ffff28"/><stop offset="0.4390" stop-color="#ffff0b"/><stop offset="0.4439" stop-color="#ffff00"/><stop offset="0.4488" stop-color="#ffff00"/><stop offset="0.4537" stop-color="#ffff10"/><stop offset="0.4585" stop-color="#ffff30"/><stop offset="0.4780" stop-color="#ffffe0"/><stop offset="0.4829" stop-color="#fffff6"/><stop offset="0.5366" stop-color="#ffffff"/><stop offset="0.5902" stop-color="#c9deff"/><stop offset="0.6732" stop-color="#9ac2ff"/><stop offset="0.8537" stop-color="#64a0ff"/><stop offset="1.0000" stop-color="#4b8fff"/></linearGradient>
<linearGradient id="g90"><stop offset="0.0000" stop-color="#3f88ff"/><stop offset="0.0976" stop-color="#4b90ff"/><stop offset="0.2439" stop-color="#76abff"/><stop offset="0.3122" stop-color="#9ac2ff"/><stop offset="0.3512" stop-color="#c7ddff"/><stop offset="0.3805" stop-color="#ffffff"/><stop offset="0.4098" stop-color="#fffff6"/><stop offset="0.4146" stop-color="#ffffe8"/><stop offset="0.4195" stop-color="#ffffb2"/><stop offset="0.4293" stop-color="#ffff51"/><stop offset="0.4341" stop-color="#ffff29"/><stop offset="0.4390" stop-color="#ffff0f"/><stop offset="0.4439" stop-color="#ffff05"/><stop offset="0.4488" stop-color="#ffff0a"/><stop offset="0.4537" stop-color="#ffff1f"/><stop offset="0.4585" stop-color="#ffff41"/><stop offset="0.4780" stop-color="#ffffed"/><stop offset="0.4829" stop-color="#fffff6"/><stop offset="0.5366" stop-color="#fefeff"/><stop offset="0.5902" stop-color="#c9deff"/><stop offset="0.6732" stop-color="#9bc3ff"/><stop offset="0.8537" stop-color="#64a0ff"/><stop offset="1.0000" stop-color="#4b8fff"/></linearGradient>
<linearGradient id="g91"><stop offset="0.0000" stop-color="#3f88ff"/><stop offset="0.0927" stop-color="#4b8fff"/><stop offset="0.2439" stop-color="#77acff"/><stop offset="0.3073" stop-color="#98c1ff"/><stop offset="0.3463" stop-color="#c2daff"/><stop offset="0.3707" stop-color="#eff5ff"/><stop offset="0.3756" stop-color="#fafcff"/><stop offset="0.3854" stop-color="#fffffd"/><stop offset="0.4098" stop-color="#fffff6"/><stop offset="0.4146" stop-color="#ffffde"/><stop offset="0.4195" stop-color="#ffffab"/><stop offset="0.4293" stop-color="#ffff4f"/><stop offset="0.4341" stop-color="#ffff2b"/><stop offset="0.4390" stop-color="#ffff15"/><stop offset="0.4439" stop-color="#ffff0e"/><stop offset="0.4488" stop-color="#ffff17"/><stop offset="0.4537" stop-color="#ffff2f"/><stop offset="0.4585" stop-color="#ffff53"/><stop offset="0.4780" stop-color="#fffff5"/><stop offset="0.5366" stop-color="#fdfeff"/><stop offset="0.5902" stop-color="#c9dfff"/><stop offset="0.6732" stop-color="#9bc3ff"/><stop offset="0.8585" stop-color="#639fff"/><stop offset="1.0000" stop-color="#4b90ff"/></linearGradient>
<linearGradient id="g92"><stop offset="0.0000" stop-color="#3f88ff"/><stop offset="0.0927" stop-color="#4b90ff"/><stop offset="0.2390" stop-color="#76abff"/><stop offset="0.3073" stop-color="#99c2ff"/><stop offset="0.3463" stop-color="#c4dcff"/><stop offset="0.3707" stop-color="#f2f7ff"/><stop offset="0.3756" stop-color="#fdfeff"/><stop offset="0.4098" stop-color="#fffff6"/><stop offset="0.4146" stop-color="#ffffd6"/><stop offset="0.4195" stop-color="#ffffa4"/><stop offset="0.4293" stop-color="#ffff4e"/><stop offset="0.4341" stop-color="#ffff2e"/><stop offset="0.4390" stop-color="#ffff1c"/><stop offset="0.4439" stop-color="#ffff19"/><stop offset="0.4488" stop-color="#ffff25"/><stop offset="0.4537" stop-color="#ffff3e"/><stop offset="0.4732" stop-color="#ffffdc"/><stop offset="0.4780" stop-color="#fffff5"/><stop offset="0.5366" stop-color="#fdfeff"/><stop offset="0.5902" stop-color="#c9dfff"/><stop offset="0.6780" stop-color="#99c2ff"/><stop offset="0.8634" stop-color="#639fff"/><stop offset="1.0000" stop-color="#4b90ff"/></linearGradient>
<linearGradient id="g93"><stop offset="0.0000" stop-color="#4088ff"/><stop offset="0.0927" stop-color="#4c90ff"/><stop offset="0.2390" stop-color="#77acff"/><stop offset="0.3073" stop-color="#9bc3ff"/><stop offset="0.3463" stop-color="#c6ddff"/><stop offset="0.3756" stop-color="#ffffff"/><stop offset="0.4098" stop-color="#fffff5"/><stop offset="0.4146" stop-color="#ffffce"/><stop offset="0.4195" stop-color="#ffff9f"/><stop offset="0.4293" stop-color="#ffff4e"/><stop offset="0.4341" stop-color="#ffff32"/><stop offset="0.4390" stop-color="#ffff23"/><stop offset="0.4439" stop-color="#ffff24"/><stop offset="0.4488" stop-color="#ffff33"/><stop offset="0.4537" stop-color="#ffff4f"/><stop offset="0.4732" stop-color="#ffffea"/><stop offset="0.4780" stop-color="#fffff6"/><stop offset="0.5366" stop-color="#fcfdff"/><stop offset="0.5902" stop-color="#c9dfff"/><stop offset="0.6780" stop-color="#9ac2ff"/><stop offset="0.8634" stop-color="#639fff"/><stop offset="1.0000" stop-color="#4c90ff"/></linearGradient>
<linearGradient id="g94"><stop offset="0.0000" stop-color="#4088ff"/><stop offset="0.0927" stop-color="#4d91ff"/><stop offset="0.2390" stop-color="#77acff"/><stop offset="0.3024" stop-color="#98c1ff"/><stop offset="0.3415" stop-color="#c2daff"/><stop offset="0.3659" stop-color="#eef5ff"/><stop offset="0.3756" stop-color="#ffffff"/><stop offset="0.4098" stop-color="#fffff5"/><stop offset="0.4195" stop-color="#ffff9b"/><stop offset="0.4293" stop-color="#ffff4f"/><stop offset="0.4341" stop-color="#ffff36"/><stop offset="0.4390" stop-color="#ffff2c"/><stop offset="0.4439" stop-color="#ffff2f"/><stop offset="0.4488" stop-color="#ffff41"/><stop offset="0.4537" stop-color="#ffff5f"/><stop offset="0.4683" stop-color="#ffffce"/><stop offset="0.4732" stop-color="#fffff5"/><stop offset="0.5317" stop-color="#ffffff"/><stop offset="0.5951" stop-color="#c6ddff"/><stop offset="0.6829" stop-color="#98c1ff"/><stop offset="0.8683" stop-color="#629fff"/><stop offset="1.0000" stop-color="#4c90ff"/></linearGradient>
<linearGradient id="g95"><stop offset="0.0000" stop-color="#4089ff"/><stop offset="0.0878" stop-color="#4c90ff"/><stop offset="0.2341" stop-color="#76acff"/><stop offset="0.3024" stop-color="#9ac2ff"/><stop offset="0.3415" stop-color="#c4dcff"/><stop offset="0.3659" stop-color="#f1f6ff"/><stop offset="0.3707" stop-color="#fbfdff"/><stop offset="0.4000" stop-color="#fffff8"/><stop offset="0.4098" stop-color="#fffff1"/><stop offset="0.4146" stop-color="#ffffc1"/><stop offset="0.4195" stop-color="#ffff97"/><stop offset="0.4293" stop-color="#ffff51"/><stop offset="0.4341" stop-color="#ffff3c"/><stop offset="0.4390" stop-color="#ffff35"/><stop offset="0.4439" stop-color="#ffff3c"/><stop offset="0.4488" stop-color="#ffff50"/><stop offset="0.4634" stop-color="#ffffb4"/><stop offset="0.4683" stop-color="#ffffdb"/><stop offset="0.4732" stop-color="#fffff5"/><stop offset="0.5317" stop-color="#ffffff"/><stop offset="0.5951" stop-color="#c6ddff"/><stop offset="0.6829" stop-color="#99c2ff"/><stop offset="0.8683" stop-color="#639fff"/><stop offset="1.0000" stop-color="#4c90ff"/></linearGradient>
<linearGradient id="g96"><stop offset="0.0000" stop-color="#4089ff"/><stop offset="0.0878" stop-color="#4d91ff"/><stop offset="0.2341" stop-color="#77acff"/><stop offset="0.3024" stop-color="#9bc3ff"/><stop offset="0.3415" stop-color="#c6ddff"/><stop offset="0.3707" stop-color="#feffff"/><stop offset="0.4049" stop-color="#fffff6"/><stop offset="0.4098" stop-color="#ffffe9"/><stop offset="0.4146" stop-color="#ffffbb"/><stop offset="0.4195" stop-color="#ffff94"/><stop offset="0.4293" stop-color="#ffff54"/><stop offset="0.4341" stop-color="#ffff43"/><stop offset="0.4390" stop-color="#ffff3f"/><stop offset="0.4439" stop-color="#ffff48"/><stop offset="0.4488" stop-color="#ffff5f"/><stop offset="0.4634" stop-color="#ffffc1"/><stop offset="0.4683" stop-color="#ffffe8"/><stop offset="0.4732" stop-color="#fffff6"/><stop offset="0.5317" stop-color="#ffffff"/><stop offset="0.5951" stop-color="#c6ddff"/><stop offset="0.6878" stop-color="#97c1ff"/><stop offset="0.8732" stop-color="#629eff"/><stop offset="1.0000" stop-color="#4d91ff"/></linearGradient>
<linearGradient id="g97"><stop offset="0.0000" stop-color="#4189ff"/><stop offset="0.0927" stop-color="#4f92ff"/><stop offset="0.2341" stop-color="#78adff"/><stop offset="0.2976" stop-color="#99c2ff"/><stop offset="0.3366" stop-color="#c2daff"/><stop offset="0.3610" stop-color="#ecf4ff"/><stop offset="0.3707" stop-color="#ffffff"/><stop offset="0.4049" stop-color="#fffff6"/><stop offset="0.4098" stop-color="#ffffe3"/><stop offset="0.4146" stop-color="#ffffb7"/><stop offset="0.4195" stop-color="#ffff92"/><stop offset="0.4293" stop-color="#ffff58"/><stop offset="0.4341" stop-color="#ffff4a"/><stop offset="0.4390" stop-color="#ffff49"/><stop offset="0.4439" stop-color="#ffff56"/><stop offset="0.4537" stop-color="#ffff8b"/><stop offset="0.4634" stop-color="#ffffcf"/><stop offset="0.4683" stop-color="#fffff5"/><stop offset="0.5317" stop-color="#ffffff"/><stop offset="0.5902" stop-color="#cadfff"/><stop offset="0.6829" stop-color="#99c2ff"/><stop offset="0.8683" stop-color="#639fff"/><stop offset="1.0000" stop-color="#4d91ff"/></linearGradient>
<linearGradient id="g98"><stop offset="0.0000" stop-color="#4189ff"/><stop offset="0.0927" stop-color="#5093ff"/><stop offset="0.2341" stop-color="#79adff"/><stop offset="0.2976" stop-color="#9ac2ff"/><stop offset="0.3366" stop-color="#c4dbff"/><stop offset="0.3610" stop-color="#eff5ff"/><stop offset="0.3707" stop-color="#ffffff"/><stop offset="0.4049" stop-color="#fffff6"/><stop offset="0.4098" stop-color="#ffffdd"/><stop offset="0.4146" stop-color="#ffffb3"/><stop offset="0.4195" stop-color="#ffff91"/><stop offset="0.4293" stop-color="#ffff5d"/><stop offset="0.4341" stop-color="#ffff52"/><stop offset="0.4390" stop-color="#ffff54"/><stop offset="0.4439" stop-color="#ffff63"/><stop offset="0.4537" stop-color="#ffff98"/><stop offset="0.4634" stop-color="#ffffdc"/><stop offset="0.4683" stop-color="#fffff5"/><stop offset="0.5317" stop-color="#feffff"/><stop offset="0.5902" stop-color="#cadfff"/><stop offset="0.6829" stop-color="#9ac2ff"/><stop offset="0.8732" stop-color="#639fff"/><stop offset="1.0000" stop-color="#4d91ff"/></linearGradient>
<linearGradient id="g99"><stop offset="0.0000" stop-color="#4189ff"/><stop offset="0.0976" stop-color="#5294ff"/><stop offset="0.2341" stop-color="#7aaeff"/><stop offset="0.2976" stop-color="#9cc3ff"/><stop offset="0.3366" stop-color="#c6ddff"/><stop offset="0.3659" stop-color="#fcfdff"/><stop offset="0.4049" stop-color="#fffff5"/><stop offset="0.4098" stop-color="#ffffd7"/><stop offset="0.4146" stop-color="#ffffb0"/><stop offset="0.4195" stop-color="#ffff90"/><stop offset="0.4293" stop-color="#ffff63"/><stop offset="0.4341" stop-color="#ffff5b"/><stop offset="0.4390" stop-color="#ffff60"/><stop offset="0.4488" stop-color="#ffff88"/><stop offset="0.4585" stop-color="#ffffc5"/><stop offset="0.4634" stop-color="#ffffe9"/><stop offset="0.4683" stop-color="#fffff6"/><stop offset="0.5317" stop-color="#fefeff"/><stop offset="0.5951" stop-color="#c7ddff"/><stop offset="0.6878" stop-color="#98c1ff"/><stop offset="0.8732" stop-color="#639fff"/><stop offset="1.0000" stop-color="#4e91ff"/></linearGradient>
<linearGradient id="g100"><stop offset="0.0000" stop-color="#4189ff"/><stop offset="0.1024" stop-color="#5395ff"/><stop offset="0.2341" stop-color="#7baeff"/><stop offset="0.2976" stop-color="#9dc4ff"/><stop offset="0.3366" stop-color="#c7deff"/><stop offset="0.3659" stop-color="#ffffff"/><stop offset="0.4049" stop-color="#fffff5"/><stop offset="0.4146" stop-color="#ffffae"/><stop offset="0.4195" stop-color="#ffff90"/><stop offset="0.4293" stop-color="#ffff68"/><stop offset="0.4341" stop-color="#ffff63"/><stop offset="0.4390" stop-color="#ffff6b"/><stop offset="0.4488" stop-color="#ffff93"/><stop offset="0.4585" stop-color="#ffffd0"/><stop offset="0.4634" stop-color="#fffff4"/><stop offset="0.5317" stop-color="#fdfeff"/><stop offset="0.5951" stop-color="#c7ddff"/><stop offset="0.6927" stop-color="#97c0ff"/><stop offset="0.8780" stop-color="#629fff"/><stop offset="1.0000" stop-color="#4e91ff"/></linearGradient>
<linearGradient id="g101"><stop offset="0.0000" stop-color="#4289ff"/><stop offset="0.1122" stop-color="#5697ff"/><stop offset="0.2341" stop-color="#7bafff"/><stop offset="0.2976" stop-color="#9ec5ff"/><stop offset="0.3366" stop-color="#c9dfff"/><stop offset="0.3659" stop-color="#ffffff"/><stop offset="0.4049" stop-color="#fffff5"/><stop offset="0.4146" stop-color="#ffffac"/><stop offset="0.4195" stop-color="#ffff90"/><stop offset="0.4244" stop-color="#ffff7b"/><stop offset="0.4293" stop-color="#ffff6d"/><stop offset="0.4341" stop-color="#ffff6a"/><stop offset="0.4390" stop-color="#ffff73"/><stop offset="0.4439" stop-color="#ffff84"/><stop offset="0.4537" stop-color="#ffffb8"/><stop offset="0.4634" stop-color="#fffff5"/><stop offset="0.5317" stop-color="#fcfdff"/><stop offset="0.5951" stop-color="#c6ddff"/><stop offset="0.6927" stop-color="#97c0ff"/><stop offset="0.8780" stop-color="#629fff"/><stop offset="1.0000" stop-color="#4e91ff"/></linearGradient>
<linearGradient id="g102"><stop offset="0.0000" stop-color="#428aff"/><stop offset="0.1268" stop-color="#5b9aff"/><stop offset="0.2439" stop-color="#80b2ff"/><stop offset="0.2976" stop-color="#9fc5ff"/><stop offset="0.3366" stop-color="#cadfff"/><stop offset="0.3659" stop-color="#ffffff"/><stop offset="0.4049" stop-color="#fffff5"/><stop offset="0.4098" stop-color="#ffffcd"/><stop offset="0.4146" stop-color="#ffffab"/><stop offset="0.4195" stop-color="#ffff90"/><stop offset="0.4244" stop-color="#ffff7d"/><stop offset="0.4293" stop-color="#ffff72"/><stop offset="0.4341" stop-color="#ffff71"/><stop offset="0.4390" stop-color="#ffff7b"/><stop offset="0.4439" stop-color="#ffff8c"/><stop offset="0.4537" stop-color="#ffffc2"/><stop offset="0.4585" stop-color="#ffffe3"/><stop offset="0.4634" stop-color="#fffff5"/><stop offset="0.5268" stop-color="#ffffff"/><stop offset="0.5951" stop-color="#c6ddff"/><stop offset="0.6927" stop-color="#96c0ff"/><stop offset="0.8829" stop-color="#619eff"/><stop offset="1.0000" stop-color="#4e92ff"/></linearGradient>
<linearGradient id="g103"><stop offset="0.0000" stop-color="#428aff"/><stop offset="0.1415" stop-color="#5f9cff"/><stop offset="0.2488" stop-color="#83b3ff"/><stop offset="0.2976" stop-color="#a0c6ff"/><stop offset="0.3366" stop-color="#cce0ff"/><stop offset="0.3610" stop-color="#fafcff"/><stop offset="0.3707" stop-color="#fffffe"/><stop offset="0.4000" stop-color="#fffff6"/><stop offset="0.4049" stop-color="#fffff1"/><stop offset="0.4098" stop-color="#ffffca"/><stop offset="0.4146" stop-color="#ffffa9"/><stop offset="0.4195" stop-color="#ffff90"/><stop offset="0.4244" stop-color="#ffff80"/><stop offset="0.4293" stop-color="#ffff77"/><stop offset="0.4341" stop-color="#ffff78"/><stop offset="0.4390" stop-color="#ffff82"/><stop offset="0.4439" stop-color="#ffff94"/><stop offset="0.4537" stop-color="#ffffcb"/><stop offset="0.4585" stop-color="#ffffec"/><stop offset="0.4634" stop-color="#fffff6"/><stop offset="0.5268" stop-color="#ffffff"/><stop offset="0.5902" stop-color="#c8deff"/><stop offset="0.6878" stop-color="#98c1ff"/><stop offset="0.8780" stop-color="#629fff"/><stop offset="1.0000" stop-color="#4e92ff"/></linearGradient>
<linearGradient id="g104"><stop offset="0.0000" stop-color="#428aff"/><stop offset="0.1561" stop-color="#639fff"/><stop offset="0.2585" stop-color="#88b7ff"/><stop offset="0.3024" stop-color="#a6c9ff"/><stop offset="0.3366" stop-color="#cde1ff"/><stop offset="0.3610" stop-color="#fcfdff"/><stop offset="0.4000" stop-color="#fffff6"/><stop offset="0.4049" stop-color="#ffffed"/><stop offset="0.4098" stop-color="#ffffc7"/><stop offset="0.4146" stop-color="#ffffa9"/><stop offset="0.4195" stop-color="#ffff91"/><stop offset="0.4244" stop-color="#ffff82"/><stop offset="0.4293" stop-color="#ffff7c"/><stop offset="0.4341" stop-color="#ffff7e"/><stop offset="0.4390" stop-color="#ffff89"/><stop offset="0.4439" stop-color="#ffff9c"/><stop offset="0.4537" stop-color="#ffffd4"/><stop offset="0.4585" stop-color="#fffff5"/><stop offset="0.5268" stop-color="#fefeff"/><stop offset="0.5902" stop-color="#c8deff"/><stop offset="0.6878" stop-color="#98c1ff"/><stop offset="0.8780" stop-color="#639fff"/><stop offset="1.0000" stop-color="#4e92ff"/></linearGradient>
<linearGradient id="g105"><stop offset="0.0000" stop-color="#438aff"/><stop offset="0.1659" stop-color="#66a1ff"/><stop offset="0.2634" stop-color="#8bb9ff"/><stop offset="0.3024" stop-color="#a7caff"/><stop offset="0.3366" stop-color="#cfe2ff"/><stop offset="0.3610" stop-color="#fefeff"/><stop offset="0.4000" stop-color="#fffff6"/><stop offset="0.4049" stop-color="#ffffe9"/><stop offset="0.4098" stop-color="#ffffc5"/><stop offset="0.4146" stop-color="#ffffa8"/><stop offset="0.4195" stop-color="#ffff93"/><stop offset="0.4244" stop-color="#ffff85"/><stop offset="0.4293" stop-color="#ffff80"/><stop offset="0.4341" stop-color="#ffff84"/><stop offset="0.4390" stop-color="#ffff91"/><stop offset="0.4439" stop-color="#ffffa5"/><stop offset="0.4585" stop-color="#fffff5"/><stop offset="0.5268" stop-color="#fdfeff"/><stop offset="0.5902" stop-color="#c7deff"/><stop offset="0.6878" stop-color="#98c1ff"/><stop offset="0.8780" stop-color="#639fff"/><stop offset="1.0000" stop-color="#4e92ff"/></linearGradient>
<linearGradient id="g106"><stop offset="0.0000" stop-color="#438aff"/><stop offset="0.1756" stop-color="#69a3ff"/><stop offset="0.2683" stop-color="#8ebbff"/><stop offset="0.3073" stop-color="#adceff"/><stop offset="0.3366" stop-color="#d1e3ff"/><stop offset="0.3610" stop-color="#ffffff"/><stop offset="0.4000" stop-color="#fffff6"/><stop offset="0.4049" stop-color="#ffffe6"/><stop offset="0.4098" stop-color="#ffffc4"/><stop offset="0.4146" stop-color="#ffffa8"/><stop offset="0.4195" stop-color="#ffff94"/><stop offset="0.4244" stop-color="#ffff88"/><stop offset="0.4293" stop-color="#ffff85"/><stop offset="0.4341" stop-color="#ffff8b"/><stop offset="0.4390" stop-color="#ffff98"/><stop offset="0.4488" stop-color="#ffffc8"/><stop offset="0.4537" stop-color="#ffffe7"/><stop offset="0.4585" stop-color="#fffff5"/><stop offset="0.5268" stop-color="#fcfdff"/><stop offset="0.5902" stop-color="#c7ddff"/><stop offset="0.6878" stop-color="#98c1ff"/><stop offset="0.8780" stop-color="#639fff"/><stop offset="1.0000" stop-color="#4f92ff"/></linearGradient>
<linearGradient id="g107"><stop offset="0.0000" stop-color="#438aff"/><stop offset="0.1805" stop-color="#6ba4ff"/><stop offset="0.2683" stop-color="#8fbbff"/><stop offset="0.3073" stop-color="#aeceff"/><stop offset="0.3366" stop-color="#d3e4ff"/><stop offset="0.3610" stop-color="#ffffff"/><stop offset="0.4000" stop-color="#fffff6"/><stop offset="0.4049" stop-color="#ffffe3"/><stop offset="0.4098" stop-color="#ffffc2"/><stop offset="0.4146" stop-color="#ffffa9"/><stop offset="0.4195" stop-color="#ffff96"/><stop offset="0.4244" stop-color="#ffff8c"/><stop offset="0.4293" stop-color="#ffff8a"/><stop offset="0.4341" stop-color="#ffff91"/><stop offset="0.4390" stop-color="#ffffa0"/><stop offset="0.4488" stop-color="#ffffd1"/><stop offset="0.4537" stop-color="#fffff0"/><stop offset="0.4634" stop-color="#fffff7"/><stop offset="0.5220" stop-color="#ffffff"/><stop offset="0.5902" stop-color="#c7ddff"/><stop offset="0.6878" stop-color="#97c1ff"/><stop offset="0.8780" stop-color="#639fff"/><stop offset="1.0000" stop-color="#4f92ff"/></linearGradient>
<linearGradient id="g108"><stop offset="0.0000" stop-color="#438bff"/><stop offset="0.1854" stop-color="#6da6ff"/><stop offset="0.2683" stop-color="#90bcff"/><stop offset="0.3073" stop-color="#afcfff"/><stop offset="0.3366" stop-color="#d5e6ff"/><stop offset="0.3561" stop-color="#fafcff"/><stop offset="0.3659" stop-color="#fffffe"/><stop offset="0.4000" stop-color="#fffff5"/><stop offset="0.4049" stop-color="#ffffe1"/><stop offset="0.4098" stop-color="#ffffc2"/><stop offset="0.4146" stop-color="#ffffa9"/><stop offset="0.4195" stop-color="#ffff98"/><stop offset="0.4244" stop-color="#ffff90"/><stop offset="0.4293" stop-color="#ffff90"/><stop offset="0.4341" stop-color="#ffff98"/><stop offset="0.4390" stop-color="#ffffa8"/><stop offset="0.4488" stop-color="#ffffda"/><stop offset="0.4537" stop-color="#fffff5"/><stop offset="0.5220" stop-color="#ffffff"/><stop offset="0.5854" stop-color="#c9dfff"/><stop offset="0.6829" stop-color="#99c2ff"/><stop offset="0.8780" stop-color="#639fff"/><stop offset="1.0000" stop-color="#4f92ff"/></linearGradient>
<linearGradient id="g109"><stop offset="0.0000" stop-color="#438bff"/><stop offset="0.1854" stop-color="#6ea6ff"/><stop offset="0.2683" stop-color="#91bcff"/><stop offset="0.3073" stop-color="#b0d0ff"/><stop offset="0.3366" stop-color="#d6e7ff"/><stop offset="0.3561" stop-color="#fcfdff"/><stop offset="0.3902" stop-color="#fffff8"/><stop offset="0.4000" stop-color="#fffff5"/><stop offset="0.4049" stop-color="#ffffdf"/><stop offset="0.4098" stop-color="#ffffc1"/><stop offset="0.4146" stop-color="#ffffaa"/><stop offset="0.4195" stop-color="#ffff9b"/><stop offset="0.4244" stop-color="#ffff94"/><stop offset="0.4293" stop-color="#ffff95"/><stop offset="0.4341" stop-color="#ffff9f"/><stop offset="0.4390" stop-color="#ffffaf"/><stop offset="0.4488" stop-color="#ffffe3"/><stop offset="0.4537" stop-color="#fffff5"/><stop offset="0.5220" stop-color="#fefeff"/><stop offset="0.5854" stop-color="#c9deff"/><stop offset="0.6829" stop-color="#99c2ff"/><stop offset="0.8780" stop-color="#639fff"/><stop offset="1.0000" stop-color="#4f92ff"/></linearGradient>
<linearGradient id="g110"><stop offset="0.0000" stop-color="#448bff"/><stop offset="0.1902" stop-color="#70a7ff"/><stop offset="0.2732" stop-color="#94bfff"/><stop offset="0.3122" stop-color="#b7d4ff"/><stop offset="0.3366" stop-color="#d8e8ff"/><stop offset="0.3561" stop-color="#fdfeff"/><stop offset="0.4000" stop-color="#fffff5"/><stop offset="0.4098" stop-color="#ffffc1"/><stop offset="0.4146" stop-color="#ffffab"/><stop offset="0.4195" stop-color="#ffff9e"/><stop offset="0.4244" stop-color="#ffff98"/><stop offset="0.4293" stop-color="#ffff9b"/><stop offset="0.4341" stop-color="#ffffa5"/><stop offset="0.4390" stop-color="#ffffb7"/><stop offset="0.4488" stop-color="#ffffec"/><stop offset="0.4537" stop-color="#fffff6"/><stop offset="0.5220" stop-color="#fdfeff"/><stop offset="0.5854" stop-color="#c8deff"/><stop offset="0.6829" stop-color="#99c2ff"/><stop offset="0.8780" stop-color="#639fff"/><stop offset="1.0000" stop-color="#4f92ff"/></linearGradient>
<linearGradient id="g111"><stop offset="0.0000" stop-color="#448bff"/><stop offset="0.1902" stop-color="#70a8ff"/><stop offset="0.2732" stop-color="#95bfff"/><stop offset="0.3122" stop-color="#b8d4ff"/><stop offset="0.3366" stop-color="#dae9ff"/><stop offset="0.3561" stop-color="#ffffff"/><stop offset="0.4000" stop-color="#fffff5"/><stop offset="0.4098" stop-color="#ffffc1"/><stop offset="0.4146" stop-color="#ffffad"/><stop offset="0.4195" stop-color="#ffffa1"/><stop offset="0.4244" stop-color="#ffff9d"/><stop offset="0.4293" stop-color="#ffffa1"/><stop offset="0.4341" stop-color="#ffffad"/><stop offset="0.4439" stop-color="#ffffd8"/><stop offset="0.4488" stop-color="#fffff5"/><stop offset="0.5220" stop-color="#fcfdff"/><stop offset="0.5854" stop-color="#c8deff"/><stop offset="0.6829" stop-color="#99c1ff"/><stop offset="0.8780" stop-color="#639fff"/><stop offset="1.0000" stop-color="#4f92ff"/></linearGradient>
<linearGradient id="g112"><stop offset="0.0000" stop-color="#448bff"/><stop offset="0.1951" stop-color="#73a9ff"/><stop offset="0.2732" stop-color="#96c0ff"/><stop offset="0.3122" stop-color="#b9d5ff"/><stop offset="0.3366" stop-color="#dceaff"/><stop offset="0.3561" stop-color="#ffffff"/><stop offset="0.4000" stop-color="#fffff5"/><stop offset="0.4098" stop-color="#ffffc1"/><stop offset="0.4146" stop-color="#ffffaf"/><stop offset="0.4195" stop-color="#ffffa4"/><stop offset="0.4244" stop-color="#ffffa2"/><stop offset="0.4293" stop-color="#ffffa7"/><stop offset="0.4341" stop-color="#ffffb4"/><stop offset="0.4488" stop-color="#fffff5"/><stop offset="0.5171" stop-color="#ffffff"/><stop offset="0.5854" stop-color="#c7deff"/><stop offset="0.6829" stop-color="#98c1ff"/><stop offset="0.8780" stop-color="#639fff"/><stop offset="1.0000" stop-color="#4f92ff"/></linearGradient>
<linearGradient id="g113"><stop offset="0.0000" stop-color="#458bff"/><stop offset="0.1902" stop-color="#71a8ff"/><stop offset="0.2683" stop-color="#94beff"/><stop offset="0.3073" stop-color="#b5d3ff"/><stop offset="0.3317" stop-color="#d5e6ff"/><stop offset="0.3561" stop-color="#ffffff"/><stop offset="0.4000" stop-color="#fffff5"/><stop offset="0.4098" stop-color="#ffffc2"/><stop offset="0.4146" stop-color="#ffffb1"/><stop offset="0.4195" stop-color="#ffffa8"/><stop offset="0.4244" stop-color="#ffffa7"/><stop offset="0.4293" stop-color="#ffffad"/><stop offset="0.4341" stop-color="#ffffbb"/><stop offset="0.4439" stop-color="#ffffe9"/><stop offset="0.4488" stop-color="#fffff5"/><stop offset="0.5171" stop-color="#ffffff"/><stop offset="0.5854" stop-color="#c7ddff"/><stop offset="0.6829" stop-color="#98c1ff"/><stop offset="0.8780" stop-color="#639fff"/><stop offset="1.0000" stop-color="#4f92ff"/></linearGradient>
<linearGradient id="g114"><stop offset="0.0000" stop-color="#458cff"/><stop offset="0.1902" stop-color="#72a9ff"/><stop offset="0.2683" stop-color="#94bfff"/><stop offset="0.3073" stop-color="#b6d3ff"/><stop offset="0.3317" stop-color="#d6e7ff"/><stop offset="0.3512" stop-color="#fbfcff"/><stop offset="0.3659" stop-color="#fffffd"/><stop offset="0.4000" stop-color="#fffff5"/><stop offset="0.4098" stop-color="#ffffc3"/><stop offset="0.4146" stop-color="#ffffb4"/><stop offset="0.4195" stop-color="#ffffac"/><stop offset="0.4244" stop-color="#ffffac"/><stop offset="0.4293" stop-color="#ffffb4"/><stop offset="0.4341" stop-color="#ffffc3"/><stop offset="0.4439" stop-color="#fffff2"/><stop offset="0.5171" stop-color="#fefeff"/><stop offset="0.5854" stop-color="#c6ddff"/><stop offset="0.6829" stop-color="#98c1ff"/><stop offset="0.8829" stop-color="#629fff"/><stop offset="1.0000" stop-color="#4f92ff"/></linearGradient>
<linearGradient id="g115"><stop offset="0.0000" stop-color="#468cff"/><stop offset="0.1902" stop-color="#72a9ff"/><stop offset="0.2683" stop-color="#95bfff"/><stop offset="0.3122" stop-color="#bdd7ff"/><stop offset="0.3366" stop-color="#e1edff"/><stop offset="0.3512" stop-color="#fdfeff"/><stop offset="0.4000" stop-color="#fffff4"/><stop offset="0.4049" stop-color="#ffffd9"/><stop offset="0.4098" stop-color="#ffffc4"/><stop offset="0.4146" stop-color="#ffffb6"/><stop offset="0.4195" stop-color="#ffffb0"/><stop offset="0.4244" stop-color="#ffffb1"/><stop offset="0.4293" stop-color="#ffffba"/><stop offset="0.4390" stop-color="#ffffe0"/><stop offset="0.4439" stop-color="#fffff5"/><stop offset="0.5171" stop-color="#fdfeff"/><stop offset="0.5854" stop-color="#c6ddff"/><stop offset="0.6878" stop-color="#96c0ff"/><stop offset="0.8829" stop-color="#629fff"/><stop offset="1.0000" stop-color="#4f92ff"/></linearGradient>
<linearGradient id="g116"><stop offset="0.0000" stop-color="#468cff"/><stop offset="0.1902" stop-color="#73a9ff"/><stop offset="0.2683" stop-color="#96c0ff"/><stop offset="0.3122" stop-color="#bed8ff"/><stop offset="0.3366" stop-color="#e3eeff"/><stop offset="0.3512" stop-color="#feffff"/><stop offset="0.4000" stop-color="#fffff2"/><stop offset="0.4049" stop-color="#ffffd8"/><stop offset="0.4098" stop-color="#ffffc4"/><stop offset="0.4146" stop-color="#ffffb8"/><stop offset="0.4195" stop-color="#ffffb3"/><stop offset="0.4244" stop-color="#ffffb6"/><stop offset="0.4293" stop-color="#ffffc0"/><stop offset="0.4390" stop-color="#ffffe7"/><stop offset="0.4439" stop-color="#fffff5"/><stop offset="0.5171" stop-color="#fcfdff"/><stop offset="0.5854" stop-color="#c5dcff"/><stop offset="0.6878" stop-color="#96c0ff"/><stop offset="0.8829" stop-color="#629fff"/><stop offset="1.0000" stop-color="#4f92ff"/></linearGradient>
<linearGradient id="g117"><stop offset="0.0000" stop-color="#478dff"/><stop offset="0.1902" stop-color="#73aaff"/><stop offset="0.2683" stop-color="#97c0ff"/><stop offset="0.3122" stop-color="#c0d9ff"/><stop offset="0.3366" stop-color="#e5efff"/><stop offset="0.3512" stop-color="#ffffff"/><stop offset="0.3951" stop-color="#fffff6"/><stop offset="0.4000" stop-color="#fffff0"/><stop offset="0.4049" stop-color="#ffffd7"/><stop offset="0.4098" stop-color="#ffffc5"/><stop offset="0.4146" stop-color="#ffffba"/><stop offset="0.4195" stop-color="#ffffb7"/><stop offset="0.4244" stop-color="#ffffba"/><stop offset="0.4293" stop-color="#ffffc6"/><stop offset="0.4390" stop-color="#ffffee"/><stop offset="0.4439" stop-color="#fffff6"/><stop offset="0.5122" stop-color="#ffffff"/><stop offset="0.5805" stop-color="#c8deff"/><stop offset="0.6829" stop-color="#98c1ff"/><stop offset="0.8829" stop-color="#629fff"/><stop offset="1.0000" stop-color="#4f92ff"/></linearGradient>
<linearGradient id="g118"><stop offset="0.0000" stop-color="#478dff"/><stop offset="0.1902" stop-color="#74aaff"/><stop offset="0.2683" stop-color="#97c1ff"/><stop offset="0.3122" stop-color="#c1daff"/><stop offset="0.3366" stop-color="#e6f0ff"/><stop offset="0.3512" stop-color="#ffffff"/><stop offset="0.3951" stop-color="#fffff6"/><stop offset="0.4000" stop-color="#ffffee"/><stop offset="0.4049" stop-color="#ffffd7"/><stop offset="0.4098" stop-color="#ffffc6"/><stop offset="0.4146" stop-color="#ffffbc"/><stop offset="0.4195" stop-color="#ffffba"/><stop offset="0.4244" stop-color="#ffffbf"/><stop offset="0.4293" stop-color="#ffffcb"/><stop offset="0.4390" stop-color="#fffff5"/><stop offset="0.5122" stop-color="#ffffff"/><stop offset="0.5805" stop-color="#c7deff"/><stop offset="0.6829" stop-color="#97c1ff"/><stop offset="0.8829" stop-color="#629fff"/><stop offset="1.0000" stop-color="#5092ff"/></linearGradient>
<linearGradient id="g119"><stop offset="0.0000" stop-color="#478dff"/><stop offset="0.1902" stop-color="#74aaff"/><stop offset="0.2683" stop-color="#98c1ff"/><stop offset="0.3122" stop-color="#c2dbff"/><stop offset="0.3415" stop-color="#f1f7ff"/><stop offset="0.3512" stop-color="#ffffff"/><stop offset="0.3951" stop-color="#fffff5"/><stop offset="0.4000" stop-color="#ffffec"/><stop offset="0.4049" stop-color="#ffffd7"/><stop offset="0.4098" stop-color="#ffffc7"/><stop offset="0.4146" stop-color="#ffffbf"/><stop offset="0.4195" stop-color="#ffffbe"/><stop offset="0.4244" stop-color="#ffffc4"/><stop offset="0.4341" stop-color="#ffffe4"/><stop offset="0.4390" stop-color="#fffff5"/><stop offset="0.5122" stop-color="#fefeff"/><stop offset="0.5805" stop-color="#c7ddff"/><stop offset="0.6829" stop-color="#97c1ff"/><stop offset="0.8829" stop-color="#629fff"/><stop offset="1.0000" stop-color="#5093ff"/></linearGradient>
<linearGradient id="g120"><stop offset="0.0000" stop-color="#488eff"/><stop offset="0.1854" stop-color="#73aaff"/><stop offset="0.2634" stop-color="#96c0ff"/><stop offset="0.3073" stop-color="#bed8ff"/><stop offset="0.3317" stop-color="#e1edff"/><stop offset="0.3463" stop-color="#fcfdff"/><stop offset="0.3951" stop-color="#fffff5"/><stop offset="0.4000" stop-color="#ffffeb"/><stop offset="0.4049" stop-color="#ffffd7"/><stop offset="0.4098" stop-color="#ffffc9"/><stop offset="0.4146" stop-color="#ffffc2"/><stop offset="0.4195" stop-color="#ffffc2"/><stop offset="0.4244" stop-color="#ffffca"/><stop offset="0.4341" stop-color="#ffffeb"/><stop offset="0.4390" stop-color="#fffff5"/><stop offset="0.5122" stop-color="#fdfeff"/><stop offset="0.5805" stop-color="#c7ddff"/><stop offset="0.6829" stop-color="#97c1ff"/><stop offset="0.8829" stop-color="#629fff"/><stop offset="1.0000" stop-color="#5093ff"/></linearGradient>
<linearGradient id="g121"><stop offset="0.0000" stop-color="#488eff"/><stop offset="0.1854" stop-color="#74aaff"/><stop offset="0.2634" stop-color="#97c0ff"/><stop offset="0.3073" stop-color="#bfd9ff"/><stop offset="0.3366" stop-color="#ecf3ff"/><stop offset="0.3463" stop-color="#fefeff"/><stop offset="0.3951" stop-color="#fffff5"/><stop offset="0.4000" stop-color="#ffffea"/><stop offset="0.4049" stop-color="#ffffd7"/><stop offset="0.4098" stop-color="#ffffcb"/><stop offset="0.4146" stop-color="#ffffc5"/><stop offset="0.4195" stop-color="#ffffc7"/><stop offset="0.4244" stop-color="#ffffcf"/><stop offset="0.4341" stop-color="#fffff2"/><stop offset="0.5122" stop-color="#fcfdff"/><stop offset="0.5805" stop-color="#c6ddff"/><stop offset="0.6829" stop-color="#97c0ff"/><stop offset="0.8829" stop-color="#629fff"/><stop offset="1.0000" stop-color="#5093ff"/></linearGradient>
<linearGradient id="g122"><stop offset="0.0000" stop-color="#498eff"/><stop offset="0.1854" stop-color="#74aaff"/><stop offset="0.2634" stop-color="#98c1ff"/><stop offset="0.3073" stop-color="#c0d9ff"/><stop offset="0.3366" stop-color="#eef5ff"/><stop offset="0.3463" stop-color="#ffffff"/><stop offset="0.3951" stop-color="#fffff5"/><stop offset="0.4000" stop-color="#ffffea"/><stop offset="0.4049" stop-color="#ffffd8"/><stop offset="0.4098" stop-color="#ffffcd"/><stop offset="0.4146" stop-color="#ffffc8"/><stop offset="0.4195" stop-color="#ffffcb"/><stop offset="0.4244" stop-color="#ffffd4"/><stop offset="0.4341" stop-color="#fffff5"/><stop offset="0.5073" stop-color="#ffffff"/><stop offset="0.5805" stop-color="#c6ddff"/><stop offset="0.6829" stop-color="#97c0ff"/><stop offset="0.8829" stop-color="#629fff"/><stop offset="1.0000" stop-color="#5093ff"/></linearGradient>
<linearGradient id="g123"><stop offset="0.0000" stop-color="#498eff"/><stop offset="0.1854" stop-color="#75abff"/><stop offset="0.2634" stop-color="#98c1ff"/><stop offset="0.3073" stop-color="#c2daff"/><stop offset="0.3366" stop-color="#eff6ff"/><stop offset="0.3463" stop-color="#ffffff"/><stop offset="0.3951" stop-color="#fffff5"/><stop offset="0.4098" stop-color="#ffffcf"/><stop offset="0.4146" stop-color="#ffffcc"/><stop offset="0.4195" stop-color="#ffffd0"/><stop offset="0.4244" stop-color="#ffffda"/><stop offset="0.4341" stop-color="#fffff5"/><stop offset="0.5073" stop-color="#ffffff"/><stop offset="0.5756" stop-color="#c8deff"/><stop offset="0.6780" stop-color="#98c1ff"/><stop offset="0.8829" stop-color="#629fff"/><stop offset="1.0000" stop-color="#5093ff"/></linearGradient>
<linearGradient id="g124"><stop offset="0.0000" stop-color="#4a8fff"/><stop offset="0.1805" stop-color="#74aaff"/><stop offset="0.2585" stop-color="#96c0ff"/><stop offset="0.3024" stop-color="#bdd8ff"/><stop offset="0.3268" stop-color="#e0ecff"/><stop offset="0.3463" stop-color="#ffffff"/><stop offset="0.3951" stop-color="#fffff5"/><stop offset="0.4049" stop-color="#ffffda"/><stop offset="0.4098" stop-color="#ffffd2"/><stop offset="0.4146" stop-color="#ffffd0"/><stop offset="0.4195" stop-color="#ffffd5"/><stop offset="0.4293" stop-color="#fffff1"/><stop offset="0.4537" stop-color="#fffff8"/><stop offset="0.5073" stop-color="#feffff"/><stop offset="0.5756" stop-color="#c8deff"/><stop offset="0.6780" stop-color="#98c1ff"/><stop offset="0.8829" stop-color="#639fff"/><stop offset="1.0000" stop-color="#5093ff"/></linearGradient>
<linearGradient id="g125"><stop offset="0.0000" stop-color="#4a8fff"/><stop offset="0.1805" stop-color="#74aaff"/><stop offset="0.2585" stop-color="#97c0ff"/><stop offset="0.3024" stop-color="#bed8ff"/><stop offset="0.3317" stop-color="#eaf2ff"/><stop offset="0.3415" stop-color="#fcfdff"/><stop offset="0.3951" stop-color="#fffff5"/><stop offset="0.4049" stop-color="#ffffdc"/><stop offset="0.4098" stop-color="#ffffd5"/><stop offset="0.4146" stop-color="#ffffd4"/><stop offset="0.4195" stop-color="#ffffda"/><stop offset="0.4293" stop-color="#fffff5"/><stop offset="0.5073" stop-color="#fdfeff"/><stop offset="0.5756" stop-color="#c7deff"/><stop offset="0.6780" stop-color="#98c1ff"/><stop offset="0.8829" stop-color="#639fff"/><stop offset="1.0000" stop-color="#5093ff"/></linearGradient>
<linearGradient id="g126"><stop offset="0.0000" stop-color="#4b8fff"/><stop offset="0.1805" stop-color="#74aaff"/><stop offset="0.2585" stop-color="#97c1ff"/><stop offset="0.3024" stop-color="#bfd9ff"/><stop offset="0.3317" stop-color="#ebf3ff"/><stop offset="0.3415" stop-color="#fdfeff"/><stop offset="0.3951" stop-color="#fffff5"/><stop offset="0.4049" stop-color="#ffffde"/><stop offset="0.4098" stop-color="#ffffd8"/><stop offset="0.4146" stop-color="#ffffd8"/><stop offset="0.4195" stop-color="#ffffdf"/><stop offset="0.4293" stop-color="#fffff5"/><stop offset="0.5073" stop-color="#fdfeff"/><stop offset="0.5756" stop-color="#c7deff"/><stop offset="0.6780" stop-color="#98c1ff"/><stop offset="0.8829" stop-color="#639fff"/><stop offset="1.0000" stop-color="#5093ff"/></linearGradient>
<linearGradient id="g127"><stop offset="0.0000" stop-color="#4b8fff"/><stop offset="0.1805" stop-color="#75abff"/><stop offset="0.2585" stop-color="#98c1ff"/><stop offset="0.3024" stop-color="#c0d9ff"/><stop offset="0.3317" stop-color="#edf4ff"/><stop offset="0.3415" stop-color="#ffffff"/><stop offset="0.3951" stop-color="#fffff5"/><stop offset="0.4049" stop-color="#ffffe1"/><stop offset="0.4098" stop-color="#ffffdb"/><stop offset="0.4146" stop-color="#ffffdd"/><stop offset="0.4195" stop-color="#ffffe5"/><stop offset="0.4244" stop-color="#fffff3"/><stop offset="0.5073" stop-color="#fcfdff"/><stop offset="0.5756" stop-color="#c7deff"/><stop offset="0.6780" stop-color="#98c1ff"/><stop offset="0.8829" stop-color="#639fff"/><stop offset="1.0000" stop-color="#5093ff"/></linearGradient>
<linearGradient id="g128"><stop offset="0.0000" stop-color="#4b90ff"/><stop offset="0.1805" stop-color="#75abff"/><stop offset="0.2585" stop-color="#98c1ff"/><stop offset="0.3024" stop-color="#c1daff"/><stop offset="0.3317" stop-color="#eef5ff"/><stop offset="0.3415" stop-color="#ffffff"/><stop offset="0.3951" stop-color="#fffff5"/><stop offset="0.4049" stop-color="#ffffe3"/><stop offset="0.4098" stop-color="#ffffdf"/><stop offset="0.4146" stop-color="#ffffe2"/><stop offset="0.4244" stop-color="#fffff5"/><stop offset="0.5024" stop-color="#ffffff"/><stop offset="0.5756" stop-color="#c7ddff"/><stop offset="0.6829" stop-color="#97c0ff"/><stop offset="0.8878" stop-color="#629fff"/><stop offset="1.0000" stop-color="#5193ff"/></linearGradient>
<linearGradient id="g129"><stop offset="0.0000" stop-color="#4c90ff"/><stop offset="0.1805" stop-color="#75abff"/><stop offset="0.2585" stop-color="#99c2ff"/><stop offset="0.3024" stop-color="#c2dbff"/><stop offset="0.3317" stop-color="#eff6ff"/><stop offset="0.3415" stop-color="#ffffff"/><stop offset="0.3951" stop-color="#fffff5"/><stop offset="0.4049" stop-color="#ffffe6"/><stop offset="0.4098" stop-color="#ffffe3"/><stop offset="0.4146" stop-color="#ffffe7"/><stop offset="0.4244" stop-color="#fffff5"/><stop offset="0.5024" stop-color="#ffffff"/><stop offset="0.5756" stop-color="#c7ddff"/><stop offset="0.6829" stop-color="#97c0ff"/><stop offset="0.8878" stop-color="#629fff"/><stop offset="1.0000" stop-color="#5193ff"/></linearGradient>
<linearGradient id="g130"><stop offset="0.0000" stop-color="#4c90ff"/><stop offset="0.1756" stop-color="#74aaff"/><stop offset="0.2537" stop-color="#97c0ff"/><stop offset="0.2976" stop-color="#bed8ff"/><stop offset="0.3268" stop-color="#e8f1ff"/><stop offset="0.3415" stop-color="#ffffff"/><stop offset="0.4000" stop-color="#fffff1"/><stop offset="0.4049" stop-color="#ffffe9"/><stop offset="0.4098" stop-color="#ffffe7"/><stop offset="0.4195" stop-color="#fffff5"/><stop offset="0.5024" stop-color="#ffffff"/><stop offset="0.5756" stop-color="#c7ddff"/><stop offset="0.6829" stop-color="#97c0ff"/><stop offset="0.8878" stop-color="#639fff"/><stop offset="1.0000" stop-color="#5193ff"/></linearGradient>
<linearGradient id="g131"><stop offset="0.0000" stop-color="#4c90ff"/><stop offset="0.1756" stop-color="#74aaff"/><stop offset="0.2537" stop-color="#97c0ff"/><stop offset="0.2976" stop-color="#bfd8ff"/><stop offset="0.3268" stop-color="#e9f2ff"/><stop offset="0.3366" stop-color="#fbfdff"/><stop offset="0.3512" stop-color="#fffffd"/><stop offset="0.4000" stop-color="#fffff3"/><stop offset="0.4049" stop-color="#ffffec"/><stop offset="0.4098" stop-color="#ffffec"/><stop offset="0.4244" stop-color="#fffff6"/><stop offset="0.5024" stop-color="#fefeff"/><stop offset="0.5756" stop-color="#c7ddff"/><stop offset="0.6829" stop-color="#97c1ff"/><stop offset="0.8878" stop-color="#639fff"/><stop offset="1.0000" stop-color="#5194ff"/></linearGradient>
<linearGradient id="g132"><stop offset="0.0000" stop-color="#4d91ff"/><stop offset="0.1756" stop-color="#75abff"/><stop offset="0.2537" stop-color="#98c1ff"/><stop offset="0.2976" stop-color="#c0d9ff"/><stop offset="0.3268" stop-color="#ebf3ff"/><stop offset="0.3366" stop-color="#fcfdff"/><stop offset="0.4000" stop-color="#fffff5"/><stop offset="0.4098" stop-color="#fffff0"/><stop offset="0.4195" stop-color="#fffff5"/><stop offset="0.5024" stop-color="#fdfeff"/><stop offset="0.5756" stop-color="#c7ddff"/><stop offset="0.6829" stop-color="#97c1ff"/><stop offset="0.8927" stop-color="#629fff"/><stop offset="1.0000" stop-color="#5194ff"/></linearGradient>
<linearGradient id="g133"><stop offset="0.0000" stop-color="#4d91ff"/><stop offset="0.1756" stop-color="#75abff"/><stop offset="0.2537" stop-color="#98c1ff"/><stop offset="0.2976" stop-color="#c1daff"/><stop offset="0.3268" stop-color="#ecf4ff"/><stop offset="0.3366" stop-color="#fefeff"/><stop offset="0.4098" stop-color="#fffff5"/><stop offset="0.5024" stop-color="#fdfeff"/><stop offset="0.5756" stop-color="#c7ddff"/><stop offset="0.6829" stop-color="#97c1ff"/><stop offset="0.8927" stop-color="#629fff"/><stop offset="1.0000" stop-color="#5294ff"/></linearGradient>
<linearGradient id="g134"><stop offset="0.0000" stop-color="#4d91ff"/><stop offset="0.1756" stop-color="#75abff"/><stop offset="0.2537" stop-color="#98c1ff"/><stop offset="0.2976" stop-color="#c1daff"/><stop offset="0.3268" stop-color="#edf4ff"/><stop offset="0.3366" stop-color="#feffff"/><stop offset="0.4146" stop-color="#fffff5"/><stop offset="0.5024" stop-color="#fcfdff"/><stop offset="0.5756" stop-color="#c7ddff"/><stop offset="0.6878" stop-color="#96c0ff"/><stop offset="0.8927" stop-color="#629fff"/><stop offset="1.0000" stop-color="#5294ff"/></linearGradient>
</defs>
<rect x="111.5" y="3.00" width="205.30" height="2.30" fill="rgb(51,128,255)"/>
<rect x="111.5" y="5.00" width="205.30" height="2.30" fill="rgb(51,128,255)"/>
<rect x="111.5" y="7.00" width="205.30" height="2.30" fill="rgb(51,128,255)"/>
<rect x="111.5" y="9.00" width="205.30" height="2.30" fill="rgb(51,128,255)"/>
<rect x="111.5" y="11.00" width="205.30" height="2.30" fill="rgb(51,128,255)"/>
<rect x="111.5" y="13.00" width="205.30" height="2.30" fill="rgb(51,128,255)"/>
<rect x="111.5" y="15.00" width="205.30" height="2.30" fill="rgb(51,128,255)"/>
<rect x="111.5" y="17.00" width="205.30" height="2.30" fill="rgb(51,128,255)"/>
<rect x="111.5" y="19.00" width="205.30" height="2.30" fill="rgb(51,128,255)"/>
<rect x="111.5" y="21.00" width="205.30" height="2.30" fill="rgb(51,128,255)"/>
<rect x="111.5" y="23.00" width="205.30" height="2.30" fill="rgb(51,128,255)"/>
<rect x="111.5" y="25.00" width="205.30" height="2.30" fill="rgb(51,128,255)"/>
<rect x="111.5" y="27.00" width="205.30" height="2.30" fill="rgb(51,128,255)"/>
<rect x="111.5" y="29.00" width="205.30" height="2.30" fill="rgb(51,128,255)"/>
<rect x="111.5" y="31.00" width="205.30" height="2.30" fill="url(#g0)"/>
<rect x="111.5" y="33.00" width="205.30" height="1.30" fill="url(#g1)"/>
<rect x="111.5" y="34.00" width="205.30" height="1.30" fill="url(#g2)"/>
<rect x="111.5" y="35.00" width="205.30" height="1.30" fill="url(#g3)"/>
<rect x="111.5" y="36.00" width="205.30" height="1.30" fill="url(#g4)"/>
<rect x="111.5" y="37.00" width="205.30" height="1.30" fill="url(#g5)"/>
<rect x="111.5" y="38.00" width="205.30" height="1.30" fill="url(#g6)"/>
<rect x="111.5" y="39.00" width="205.30" height="1.30" fill="url(#g7)"/>
<rect x="111.5" y="40.00" width="205.30" height="1.30" fill="url(#g8)"/>
<rect x="111.5" y="41.00" width="205.30" height="1.30" fill="url(#g9)"/>
<rect x="111.5" y="42.00" width="205.30" height="1.30" fill="url(#g10)"/>
<rect x="111.5" y="43.00" width="205.30" height="1.30" fill="url(#g11)"/>
<rect x="111.5" y="44.00" width="205.30" height="1.30" fill="url(#g12)"/>
<rect x="111.5" y="45.00" width="205.30" height="1.30" fill="url(#g13)"/>
<rect x="111.5" y="46.00" width="205.30" height="1.30" fill="url(#g14)"/>
<rect x="111.5" y="47.00" width="205.30" height="1.30" fill="url(#g15)"/>
<rect x="111.5" y="48.00" width="205.30" height="1.30" fill="url(#g16)"/>
<rect x="111.5" y="49.00" width="205.30" height="1.30" fill="url(#g17)"/>
<rect x="111.5" y="50.00" width="205.30" height="1.30" fill="url(#g18)"/>
<rect x="111.5" y="51.00" width="205.30" height="1.30" fill="url(#g19)"/>
<rect x="111.5" y="52.00" width="205.30" height="1.30" fill="url(#g20)"/>
<rect x="111.5" y="53.00" width="205.30" height="1.30" fill="url(#g21)"/>
<rect x="111.5" y="54.00" width="205.30" height="1.30" fill="url(#g22)"/>
<rect x="111.5" y="55.00" width="205.30" height="1.30" fill="url(#g23)"/>
<rect x="111.5" y="56.00" width="205.30" height="1.30" fill="url(#g24)"/>
<rect x="111.5" y="57.00" width="205.30" height="1.30" fill="url(#g25)"/>
<rect x="111.5" y="58.00" width="205.30" height="1.30" fill="url(#g26)"/>
<rect x="111.5" y="59.00" width="205.30" height="1.30" fill="url(#g27)"/>
<rect x="111.5" y="60.00" width="205.30" height="1.30" fill="url(#g28)"/>
<rect x="111.5" y="61.00" width="205.30" height="1.30" fill="url(#g29)"/>
<rect x="111.5" y="62.00" width="205.30" height="1.30" fill="url(#g30)"/>
<rect x="111.5" y="63.00" width="205.30" height="1.30" fill="url(#g31)"/>
<rect x="111.5" y="64.00" width="205.30" height="2.30" fill="url(#g32)"/>
<rect x="111.5" y="66.00" width="205.30" height="2.30" fill="url(#g33)"/>
<rect x="111.5" y="68.00" width="205.30" height="2.30" fill="url(#g34)"/>
<rect x="111.5" y="70.00" width="205.30" height="2.30" fill="url(#g35)"/>
<rect x="111.5" y="72.00" width="205.30" height="2.30" fill="url(#g36)"/>
<rect x="111.5" y="74.00" width="205.30" height="2.30" fill="url(#g37)"/>
<rect x="111.5" y="76.00" width="205.30" height="2.30" fill="url(#g38)"/>
<rect x="111.5" y="78.00" width="205.30" height="2.30" fill="url(#g39)"/>
<rect x="111.5" y="80.00" width="205.30" height="2.30" fill="url(#g40)"/>
<rect x="111.5" y="82.00" width="205.30" height="2.30" fill="url(#g41)"/>
<rect x="111.5" y="84.00" width="205.30" height="2.30" fill="url(#g42)"/>
<rect x="111.5" y="86.00" width="205.30" height="2.30" fill="url(#g43)"/>
<rect x="111.5" y="88.00" width="205.30" height="2.30" fill="url(#g44)"/>
<rect x="111.5" y="90.00" width="205.30" height="2.30" fill="url(#g45)"/>
<rect x="111.5" y="92.00" width="205.30" height="2.30" fill="url(#g46)"/>
<rect x="111.5" y="94.00" width="205.30" height="2.30" fill="url(#g47)"/>
<rect x="111.5" y="96.00" width="205.30" height="2.30" fill="url(#g48)"/>
<rect x="111.5" y="98.00" width="205.30" height="2.30" fill="url(#g49)"/>
<rect x="111.5" y="100.00" width="205.30" height="2.30" fill="url(#g50)"/>
<rect x="111.5" y="102.00" width="205.30" height="2.30" fill="url(#g51)"/>
<rect x="111.5" y="104.00" width="205.30" height="2.30" fill="url(#g52)"/>
<rect x="111.5" y="106.00" width="205.30" height="2.30" fill="url(#g53)"/>
<rect x="111.5" y="108.00" width="205.30" height="2.30" fill="url(#g54)"/>
<rect x="111.5" y="110.00" width="205.30" height="2.30" fill="url(#g55)"/>
<rect x="111.5" y="112.00" width="205.30" height="2.30" fill="url(#g56)"/>
<rect x="111.5" y="114.00" width="205.30" height="2.30" fill="url(#g57)"/>
<rect x="111.5" y="116.00" width="205.30" height="2.30" fill="url(#g58)"/>
<rect x="111.5" y="118.00" width="205.30" height="2.30" fill="url(#g59)"/>
<rect x="111.5" y="120.00" width="205.30" height="2.30" fill="url(#g60)"/>
<rect x="111.5" y="122.00" width="205.30" height="2.30" fill="url(#g61)"/>
<rect x="111.5" y="124.00" width="205.30" height="2.30" fill="url(#g62)"/>
<rect x="111.5" y="126.00" width="205.30" height="2.30" fill="url(#g63)"/>
<rect x="111.5" y="128.00" width="205.30" height="2.30" fill="url(#g64)"/>
<rect x="111.5" y="130.00" width="205.30" height="2.30" fill="url(#g65)"/>
<rect x="111.5" y="132.00" width="205.30" height="2.30" fill="url(#g66)"/>
<rect x="111.5" y="134.00" width="205.30" height="2.30" fill="url(#g67)"/>
<rect x="111.5" y="136.00" width="205.30" height="2.30" fill="url(#g68)"/>
<rect x="111.5" y="138.00" width="205.30" height="2.30" fill="url(#g69)"/>
<rect x="111.5" y="140.00" width="205.30" height="2.30" fill="url(#g70)"/>
<rect x="111.5" y="142.00" width="205.30" height="2.30" fill="url(#g71)"/>
<rect x="111.5" y="144.00" width="205.30" height="2.30" fill="url(#g72)"/>
<rect x="111.5" y="146.00" width="205.30" height="2.30" fill="url(#g73)"/>
<rect x="111.5" y="148.00" width="205.30" height="2.30" fill="url(#g74)"/>
<rect x="111.5" y="150.00" width="205.30" height="2.30" fill="url(#g75)"/>
<rect x="111.5" y="152.00" width="205.30" height="2.30" fill="url(#g76)"/>
<rect x="111.5" y="154.00" width="205.30" height="2.30" fill="url(#g77)"/>
<rect x="111.5" y="156.00" width="205.30" height="2.30" fill="url(#g78)"/>
<rect x="111.5" y="158.00" width="205.30" height="2.30" fill="url(#g79)"/>
<rect x="111.5" y="160.00" width="205.30" height="2.30" fill="url(#g80)"/>
<rect x="111.5" y="162.00" width="205.30" height="2.30" fill="url(#g81)"/>
<rect x="111.5" y="164.00" width="205.30" height="2.30" fill="url(#g82)"/>
<rect x="111.5" y="166.00" width="205.30" height="2.30" fill="url(#g83)"/>
<rect x="111.5" y="168.00" width="205.30" height="2.30" fill="url(#g84)"/>
<rect x="111.5" y="170.00" width="205.30" height="2.30" fill="url(#g85)"/>
<rect x="111.5" y="172.00" width="205.30" height="2.30" fill="url(#g86)"/>
<rect x="111.5" y="174.00" width="205.30" height="2.30" fill="url(#g87)"/>
<rect x="111.5" y="176.00" width="205.30" height="2.30" fill="url(#g88)"/>
<rect x="111.5" y="178.00" width="205.30" height="2.30" fill="url(#g89)"/>
<rect x="111.5" y="180.00" width="205.30" height="2.30" fill="url(#g90)"/>
<rect x="111.5" y="182.00" width="205.30" height="2.30" fill="url(#g91)"/>
<rect x="111.5" y="184.00" width="205.30" height="2.30" fill="url(#g92)"/>
<rect x="111.5" y="186.00" width="205.30" height="2.30" fill="url(#g93)"/>
<rect x="111.5" y="188.00" width="205.30" height="2.30" fill="url(#g94)"/>
<rect x="111.5" y="190.00" width="205.30" height="2.30" fill="url(#g95)"/>
<rect x="111.5" y="192.00" width="205.30" height="2.30" fill="url(#g96)"/>
<rect x="111.5" y="194.00" width="205.30" height="2.30" fill="url(#g97)"/>
<rect x="111.5" y="196.00" width="205.30" height="2.30" fill="url(#g98)"/>
<rect x="111.5" y="198.00" width="205.30" height="2.30" fill="url(#g99)"/>
<rect x="111.5" y="200.00" width="205.30" height="2.30" fill="url(#g100)"/>
<rect x="111.5" y="202.00" width="205.30" height="2.30" fill="url(#g101)"/>
<rect x="111.5" y="204.00" width="205.30" height="2.30" fill="url(#g102)"/>
<rect x="111.5" y="206.00" width="205.30" height="2.30" fill="url(#g103)"/>
<rect x="111.5" y="208.00" width="205.30" height="2.30" fill="url(#g104)"/>
<rect x="111.5" y="210.00" width="205.30" height="2.30" fill="url(#g105)"/>
<rect x="111.5" y="212.00" width="205.30" height="2.30" fill="url(#g106)"/>
<rect x="111.5" y="214.00" width="205.30" height="2.30" fill="url(#g107)"/>
<rect x="111.5" y="216.00" width="205.30" height="2.30" fill="url(#g108)"/>
<rect x="111.5" y="218.00" width="205.30" height="2.30" fill="url(#g109)"/>
<rect x="111.5" y="220.00" width="205.30" height="2.30" fill="url(#g110)"/>
<rect x="111.5" y="222.00" width="205.30" height="2.30" fill="url(#g111)"/>
<rect x="111.5" y="224.00" width="205.30" height="2.30" fill="url(#g112)"/>
<rect x="111.5" y="226.00" width="205.30" height="2.30" fill="url(#g113)"/>
<rect x="111.5" y="228.00" width="205.30" height="2.30" fill="url(#g114)"/>
<rect x="111.5" y="230.00" width="205.30" height="2.30" fill="url(#g115)"/>
<rect x="111.5" y="232.00" width="205.30" height="2.30" fill="url(#g116)"/>
<rect x="111.5" y="234.00" width="205.30" height="2.30" fill="url(#g117)"/>
<rect x="111.5" y="236.00" width="205.30" height="2.30" fill="url(#g118)"/>
<rect x="111.5" y="238.00" width="205.30" height="2.30" fill="url(#g119)"/>
<rect x="111.5" y="240.00" width="205.30" height="2.30" fill="url(#g120)"/>
<rect x="111.5" y="242.00" width="205.30" height="2.30" fill="url(#g121)"/>
<rect x="111.5" y="244.00" width="205.30" height="2.30" fill="url(#g122)"/>
<rect x="111.5" y="246.00" width="205.30" height="2.30" fill="url(#g123)"/>
<rect x="111.5" y="248.00" width="205.30" height="2.30" fill="url(#g124)"/>
<rect x="111.5" y="250.00" width="205.30" height="2.30" fill="url(#g125)"/>
<rect x="111.5" y="252.00" width="205.30" height="2.30" fill="url(#g126)"/>
<rect x="111.5" y="254.00" width="205.30" height="2.30" fill="url(#g127)"/>
<rect x="111.5" y="256.00" width="205.30" height="2.30" fill="url(#g128)"/>
<rect x="111.5" y="258.00" width="205.30" height="2.30" fill="url(#g129)"/>
<rect x="111.5" y="260.00" width="205.30" height="2.30" fill="url(#g130)"/>
<rect x="111.5" y="262.00" width="205.30" height="2.30" fill="url(#g131)"/>
<rect x="111.5" y="264.00" width="205.30" height="2.30" fill="url(#g132)"/>
<rect x="111.5" y="266.00" width="205.30" height="2.30" fill="url(#g133)"/>
<rect x="111.5" y="268.00" width="205.30" height="0.80" fill="url(#g134)"/>
<line x1="112.5" y1="263.2" x2="316" y2="263.2" stroke="#f00" stroke-width="2.2"/>
<line x1="225.4" y1="4" x2="200.3" y2="266.8" stroke="#1a1a1a" stroke-width="1.3"/>
<rect x="111.5" y="3" width="205.3" height="265.5" fill="none" stroke="#000" stroke-width="2"/>
<line x1="100.5" y1="41.8" x2="111" y2="41.8" stroke="#000" stroke-width="2"/>
<line x1="100.5" y1="116.8" x2="111" y2="116.8" stroke="#000" stroke-width="2"/>
<line x1="100.5" y1="191.9" x2="111" y2="191.9" stroke="#000" stroke-width="2"/>
<line x1="100.5" y1="266.9" x2="111" y2="266.9" stroke="#000" stroke-width="2"/>
<line x1="159.2" y1="269" x2="159.2" y2="279.5" stroke="#000" stroke-width="2"/>
<line x1="222" y1="269" x2="222" y2="279.5" stroke="#000" stroke-width="2"/>
<line x1="283.8" y1="269" x2="283.8" y2="279.5" stroke="#000" stroke-width="2"/>
<line x1="128.4" y1="269" x2="128.4" y2="274.5" stroke="#000" stroke-width="2"/>
<line x1="190.3" y1="269" x2="190.3" y2="274.5" stroke="#000" stroke-width="2"/>
<line x1="252.2" y1="269" x2="252.2" y2="274.5" stroke="#000" stroke-width="2"/>
<line x1="314" y1="269" x2="314" y2="274.5" stroke="#000" stroke-width="2"/>
<text x="96.9" y="45.4" font-size="22" text-anchor="end">0.00</text>
<text x="96.9" y="120.3" font-size="22" text-anchor="end">-0.10</text>
<text x="96.9" y="195.4" font-size="22" text-anchor="end">-0.20</text>
<text x="96.9" y="269.6" font-size="22" text-anchor="end">-0.30</text>
<text x="158.0" y="300" font-size="22" text-anchor="middle">-0.2</text>
<text x="222" y="300" font-size="22" text-anchor="middle">0</text>
<text x="285.5" y="300" font-size="22" text-anchor="middle">0.2</text>
<text x="176.3" y="331" font-size="24" text-anchor="start">k-k<tspan font-size="14" dy="7">F</tspan><tspan dy="-7"> (Å</tspan><tspan font-size="12.5" dy="-9" dx="1">-1</tspan><tspan dy="9" dx="0.5">)</tspan></text>
<text x="0" y="0" font-size="24" text-anchor="start" transform="translate(20.8,170.5) rotate(-90)">E-E<tspan font-size="14" dy="7">F</tspan><tspan dy="-7">(eV)</tspan></text>
<text x="123.5" y="29.6" font-size="22" text-anchor="start">a</text>
<line x1="434.3" y1="248" x2="677.6" y2="248" stroke="#929296" stroke-width="3.0" stroke-dasharray="13.6 13.5" stroke-dashoffset="7"/>
<path d="M434.00,247.67 L434.61,247.52 L435.23,247.38 L435.84,247.24 L436.45,247.09 L437.07,246.94 L437.68,246.79 L438.29,246.64 L438.90,246.48 L439.52,246.32 L440.13,246.17 L440.74,246.00 L441.36,245.84 L441.97,245.67 L442.58,245.51 L443.20,245.33 L443.81,245.16 L444.42,244.99 L445.03,244.81 L445.65,244.63 L446.26,244.44 L446.87,244.26 L447.49,244.07 L448.10,243.87 L448.71,243.68 L449.33,243.48 L449.94,243.28 L450.55,243.08 L451.16,242.87 L451.78,242.66 L452.39,242.45 L453.00,242.23 L453.62,242.01 L454.23,241.78 L454.84,241.56 L455.46,241.32 L456.07,241.09 L456.68,240.85 L457.30,240.61 L457.91,240.36 L458.52,240.11 L459.13,239.85 L459.75,239.60 L460.36,239.33 L460.97,239.06 L461.59,238.79 L462.20,238.51 L462.81,238.23 L463.43,237.94 L464.04,237.65 L464.65,237.35 L465.26,237.05 L465.88,236.74 L466.49,236.43 L467.10,236.11 L467.72,235.78 L468.33,235.45 L468.94,235.11 L469.56,234.77 L470.17,234.42 L470.78,234.06 L471.39,233.70 L472.01,233.32 L472.62,232.95 L473.23,232.56 L473.85,232.17 L474.46,231.77 L475.07,231.36 L475.69,230.94 L476.30,230.52 L476.91,230.08 L477.53,229.64 L478.14,229.19 L478.75,228.73 L479.36,228.26 L479.98,227.78 L480.59,227.29 L481.20,226.79 L481.82,226.28 L482.43,225.76 L483.04,225.23 L483.66,224.68 L484.27,224.13 L484.88,223.56 L485.49,222.98 L486.11,222.39 L486.72,221.78 L487.33,221.16 L487.95,220.53 L488.56,219.88 L489.17,219.22 L489.79,218.54 L490.40,217.84 L491.01,217.14 L491.63,216.41 L492.24,215.67 L492.85,214.91 L493.46,214.13 L494.08,213.33 L494.69,212.51 L495.30,211.68 L495.92,210.82 L496.53,209.95 L497.14,209.05 L497.76,208.13 L498.37,207.18 L498.98,206.22 L499.59,205.23 L500.21,204.21 L500.82,203.17 L501.43,202.10 L502.05,201.01 L502.66,199.89 L503.27,198.74 L503.89,197.55 L504.50,196.34 L505.11,195.10 L505.72,193.82 L506.34,192.52 L506.95,191.17 L507.56,189.79 L508.18,188.38 L508.79,186.93 L509.40,185.44 L510.02,183.91 L510.63,182.33 L511.24,180.72 L511.86,179.07 L512.47,177.36 L513.08,175.62 L513.69,173.83 L514.31,171.99 L514.92,170.10 L515.53,168.16 L516.15,166.17 L516.76,164.12 L517.37,162.03 L517.99,159.88 L518.60,157.67 L519.21,155.40 L519.82,153.08 L520.44,150.70 L521.05,148.25 L521.66,145.75 L522.28,143.18 L522.89,140.55 L523.50,137.86 L524.12,135.10 L524.73,132.28 L525.34,129.40 L525.95,126.45 L526.57,123.44 L527.18,120.36 L527.79,117.23 L528.41,114.03 L529.02,110.77 L529.63,107.45 L530.25,104.08 L530.86,100.65 L531.47,97.18 L532.09,93.65 L532.70,90.09 L533.31,86.48 L533.92,82.84 L534.54,79.17 L535.15,75.49 L535.76,71.78 L536.38,68.07 L536.99,64.36 L537.60,60.66 L538.22,56.98 L538.83,53.32 L539.44,49.71 L540.05,46.15 L540.67,42.65 L541.28,39.23 L541.89,35.89 L542.51,32.66 L543.12,29.54 L543.73,26.55 L544.35,23.70 L544.96,21.01 L545.57,18.48 L546.18,16.13 L546.80,13.98 L547.41,12.03 L548.02,10.29 L548.64,8.78 L549.25,7.50 L549.86,6.47 L550.48,5.67 L551.09,5.13 L551.70,4.85 L552.32,4.81 L552.93,4.98 L553.54,5.34 L554.15,5.89 L554.77,6.62 L555.38,7.54 L555.99,8.64 L556.61,9.92 L557.22,11.36 L557.83,12.97 L558.45,14.73 L559.06,16.64 L559.67,18.70 L560.28,20.88 L560.90,23.20 L561.51,25.62 L562.12,28.16 L562.74,30.80 L563.35,33.52 L563.96,36.33 L564.58,39.21 L565.19,42.16 L565.80,45.16 L566.42,48.21 L567.03,51.31 L567.64,54.43 L568.25,57.58 L568.87,60.75 L569.48,63.93 L570.09,67.12 L570.71,70.31 L571.32,73.50 L571.93,76.68 L572.55,79.84 L573.16,82.98 L573.77,86.10 L574.38,89.20 L575.00,92.26 L575.61,95.30 L576.22,98.30 L576.84,101.26 L577.45,104.18 L578.06,107.07 L578.68,109.91 L579.29,112.70 L579.90,115.46 L580.51,118.16 L581.13,120.82 L581.74,123.43 L582.35,126.00 L582.97,128.51 L583.58,130.98 L584.19,133.40 L584.81,135.77 L585.42,138.10 L586.03,140.37 L586.65,142.60 L587.26,144.78 L587.87,146.92 L588.48,149.01 L589.10,151.05 L589.71,153.05 L590.32,155.01 L590.94,156.92 L591.55,158.79 L592.16,160.62 L592.78,162.41 L593.39,164.15 L594.00,165.86 L594.61,167.53 L595.23,169.16 L595.84,170.75 L596.45,172.31 L597.07,173.83 L597.68,175.31 L598.29,176.76 L598.91,178.18 L599.52,179.57 L600.13,180.92 L600.74,182.24 L601.36,183.53 L601.97,184.80 L602.58,186.03 L603.20,187.24 L603.81,188.41 L604.42,189.57 L605.04,190.69 L605.65,191.79 L606.26,192.86 L606.88,193.91 L607.49,194.94 L608.10,195.94 L608.71,196.93 L609.33,197.88 L609.94,198.82 L610.55,199.74 L611.17,200.64 L611.78,201.51 L612.39,202.37 L613.01,203.21 L613.62,204.03 L614.23,204.83 L614.84,205.62 L615.46,206.38 L616.07,207.14 L616.68,207.87 L617.30,208.59 L617.91,209.29 L618.52,209.98 L619.14,210.66 L619.75,211.32 L620.36,211.97 L620.97,212.60 L621.59,213.22 L622.20,213.83 L622.81,214.42 L623.43,215.00 L624.04,215.57 L624.65,216.13 L625.27,216.68 L625.88,217.22 L626.49,217.74 L627.11,218.26 L627.72,218.76 L628.33,219.26 L628.94,219.74 L629.56,220.22 L630.17,220.68 L630.78,221.14 L631.40,221.59 L632.01,222.03 L632.62,222.46 L633.24,222.88 L633.85,223.30 L634.46,223.70 L635.07,224.10 L635.69,224.49 L636.30,224.88 L636.91,225.25 L637.53,225.62 L638.14,225.99 L638.75,226.34 L639.37,226.69 L639.98,227.03 L640.59,227.37 L641.21,227.70 L641.82,228.03 L642.43,228.35 L643.04,228.66 L643.66,228.97 L644.27,229.27 L644.88,229.56 L645.50,229.85 L646.11,230.14 L646.72,230.42 L647.34,230.70 L647.95,230.97 L648.56,231.24 L649.17,231.50 L649.79,231.75 L650.40,232.01 L651.01,232.26 L651.63,232.50 L652.24,232.74 L652.85,232.98 L653.47,233.21 L654.08,233.44 L654.69,233.66 L655.30,233.88 L655.92,234.10 L656.53,234.31 L657.14,234.52 L657.76,234.73 L658.37,234.93 L658.98,235.13 L659.60,235.33 L660.21,235.52 L660.82,235.71 L661.44,235.90 L662.05,236.08 L662.66,236.26 L663.27,236.44 L663.89,236.61 L664.50,236.79 L665.11,236.96 L665.73,237.12 L666.34,237.29 L666.95,237.45 L667.57,237.61 L668.18,237.77 L668.79,237.92 L669.40,238.07 L670.02,238.22 L670.63,238.37 L671.24,238.51 L671.86,238.66 L672.47,238.80 L673.08,238.94 L673.70,239.07 L674.31,239.21 L674.92,239.34 L675.53,239.47 L676.15,239.60 L676.76,239.72 L677.37,239.85 L677.99,239.97 L678.60,240.09" fill="none" stroke="#f00" stroke-width="2.7" stroke-linejoin="round" stroke-linecap="butt"/>
<path d="M431.5,1.8 L681.6,1.8 L681.6,266.6 L430.4,266.6 Z" fill="none" stroke="#000" stroke-width="2"/>
<line x1="421.44315352697095" y1="256.2" x2="430.44315352697095" y2="256.2" stroke="#000" stroke-width="2"/>
<line x1="421.695643153527" y1="195.35" x2="430.695643153527" y2="195.35" stroke="#000" stroke-width="2"/>
<line x1="421.948132780083" y1="134.5" x2="430.948132780083" y2="134.5" stroke="#000" stroke-width="2"/>
<line x1="422.200622406639" y1="73.64999999999998" x2="431.200622406639" y2="73.64999999999998" stroke="#000" stroke-width="2"/>
<line x1="422.453112033195" y1="12.799999999999983" x2="431.453112033195" y2="12.799999999999983" stroke="#000" stroke-width="2"/>
<line x1="490.40000000000003" y1="266" x2="490.40000000000003" y2="277" stroke="#000" stroke-width="2"/>
<line x1="566.6" y1="266" x2="566.6" y2="277" stroke="#000" stroke-width="2"/>
<line x1="642.8000000000001" y1="266" x2="642.8000000000001" y2="277" stroke="#000" stroke-width="2"/>
<line x1="452.3" y1="266" x2="452.3" y2="273.5" stroke="#000" stroke-width="2"/>
<line x1="528.5" y1="266" x2="528.5" y2="273.5" stroke="#000" stroke-width="2"/>
<line x1="604.7" y1="266" x2="604.7" y2="273.5" stroke="#000" stroke-width="2"/>
<line x1="680.9" y1="266" x2="680.9" y2="273.5" stroke="#000" stroke-width="2"/>
<text x="413.9" y="262.5" font-size="20.5" text-anchor="end">0.0</text>
<text x="413.9" y="201.65" font-size="20.5" text-anchor="end">0.5</text>
<text x="413.9" y="140.8" font-size="20.5" text-anchor="end">1.0</text>
<text x="413.9" y="79.94999999999997" font-size="20.5" text-anchor="end">1.5</text>
<text x="413.9" y="19.099999999999984" font-size="20.5" text-anchor="end">2.0</text>
<text x="489.20000000000005" y="298.3" font-size="20.5" text-anchor="middle">-0.2</text>
<text x="566.6" y="298.3" font-size="20.5" text-anchor="middle">0.0</text>
<text x="642.8000000000001" y="298.3" font-size="20.5" text-anchor="middle">0.2</text>
<text x="528" y="330.7" font-size="24" text-anchor="start">k-k<tspan font-size="14" dy="7">F</tspan><tspan dy="-7"> (Å</tspan><tspan font-size="12.5" dy="-9" dx="1">-1</tspan><tspan dy="9" dx="0.5">)</tspan></text>
<text x="0" y="0" font-size="21.5" text-anchor="start" transform="translate(358.1,218.6) rotate(-90)">Intensity (arb. units)</text>
<text x="452.8" y="29.6" font-size="22" text-anchor="start">b</text>
<text x="568.2" y="29" font-size="19.4" text-anchor="start">I (k,300meV)</text>
<path d="M114.70,554.55 L115.51,554.55 L116.33,554.56 L117.14,554.56 L117.95,554.56 L118.77,554.57 L119.58,554.57 L120.39,554.57 L121.20,554.57 L122.02,554.58 L122.83,554.58 L123.64,554.58 L124.46,554.58 L125.27,554.59 L126.08,554.59 L126.90,554.59 L127.71,554.59 L128.52,554.60 L129.33,554.60 L130.15,554.60 L130.96,554.60 L131.77,554.61 L132.59,554.61 L133.40,554.61 L134.21,554.61 L135.03,554.62 L135.84,554.62 L136.65,554.62 L137.47,554.63 L138.28,554.63 L139.09,554.63 L139.90,554.63 L140.72,554.64 L141.53,554.64 L142.34,554.64 L143.16,554.64 L143.97,554.65 L144.78,554.65 L145.60,554.65 L146.41,554.65 L147.22,554.66 L148.03,554.66 L148.85,554.66 L149.66,554.66 L150.47,554.67 L151.29,554.67 L152.10,554.67 L152.91,554.67 L153.73,554.68 L154.54,554.68 L155.35,554.68 L156.17,554.68 L156.98,554.69 L157.79,554.69 L158.60,554.69 L159.42,554.70 L160.23,554.70 L161.04,554.70 L161.86,554.70 L162.67,554.71 L163.48,554.71 L164.30,554.71 L165.11,554.71 L165.92,554.72 L166.73,554.72 L167.55,554.72 L168.36,554.72 L169.17,554.73 L169.99,554.73 L170.80,554.73 L171.61,554.73 L172.43,554.74 L173.24,554.74 L174.05,554.74 L174.87,554.74 L175.68,554.75 L176.49,554.75 L177.30,554.75 L178.12,554.76 L178.93,554.76 L179.74,554.76 L180.56,554.76 L181.37,554.77 L182.18,554.77 L183.00,554.77 L183.81,554.77 L184.62,554.78 L185.43,554.78 L186.25,554.78 L187.06,554.78 L187.87,554.79 L188.69,554.79 L189.50,554.79 L190.31,554.79 L191.13,554.80 L191.94,554.80 L192.75,554.80 L193.57,554.80 L194.38,554.81 L195.19,554.81 L196.00,554.81 L196.82,554.82 L197.63,554.82 L198.44,554.82 L199.26,554.82 L200.07,554.83 L200.88,554.83 L201.70,554.83 L202.51,554.83 L203.32,554.84 L204.13,554.84 L204.95,554.84 L205.76,554.84 L206.57,554.85 L207.39,554.85 L208.20,554.85 L209.01,554.85 L209.83,554.86 L210.64,554.86 L211.45,554.86 L212.27,554.86 L213.08,554.87 L213.89,554.87 L214.70,554.87 L215.52,554.87 L216.33,554.88 L217.14,554.88 L217.96,554.88 L218.77,554.89 L219.58,554.89 L220.40,554.89 L221.21,554.89 L222.02,554.90 L222.83,554.90 L223.65,554.90 L224.46,554.90 L225.27,554.91 L226.09,554.91 L226.90,554.91 L227.71,554.91 L228.53,554.92 L229.34,554.92 L230.15,554.92 L230.97,554.92 L231.78,554.93 L232.59,554.93 L233.40,554.93 L234.22,554.94 L235.03,554.94 L235.84,554.94 L236.66,554.94 L237.47,554.95 L238.28,554.95 L239.10,554.95 L239.91,554.95 L240.72,554.96 L241.53,554.96 L242.35,554.96 L243.16,554.97 L243.97,554.97 L244.79,554.97 L245.60,554.98 L246.41,554.98 L247.23,554.98 L248.04,554.99 L248.85,554.99 L249.67,554.99 L250.48,555.00 L251.29,555.00 L252.10,555.01 L252.92,555.01 L253.73,555.02 L254.54,555.02 L255.36,555.03 L256.17,555.03 L256.98,555.04 L257.80,555.05 L258.61,555.06 L259.42,555.06 L260.23,555.07 L261.05,555.08 L261.86,555.10 L262.67,555.11 L263.49,555.12 L264.30,555.14 L265.11,555.16 L265.93,555.18 L266.74,555.20 L267.55,555.23 L268.37,555.26 L269.18,555.29 L269.99,555.33 L270.80,555.37 L271.62,555.42 L272.43,555.48 L273.24,555.54 L274.06,555.61 L274.87,555.69 L275.68,555.78 L276.50,555.88 L277.31,555.99 L278.12,556.12 L278.93,556.26 L279.75,556.42 L280.56,556.60 L281.37,556.79 L282.19,557.01 L283.00,557.25 L283.81,557.52 L284.63,557.81 L285.44,558.12 L286.25,558.46 L287.07,558.82 L287.88,559.21 L288.69,559.61 L289.50,560.04 L290.32,560.49 L291.13,560.95 L291.94,561.42 L292.76,561.89 L293.57,562.37 L294.38,562.84 L295.20,563.31 L296.01,563.76 L296.82,564.20 L297.63,564.63 L298.45,565.03 L299.26,565.41 L300.07,565.76 L300.89,566.09 L301.70,566.40 L302.51,566.68 L303.33,566.94 L304.14,567.17 L304.95,567.39 L305.77,567.58 L306.58,567.75 L307.39,567.90 L308.20,568.04 L309.02,568.16 L309.83,568.27 L310.64,568.37 L311.46,568.46 L312.27,568.53 L313.08,568.60 L313.90,568.66 L314.71,568.71 L315.52,568.76 L316.33,568.80 L317.15,568.84 L317.96,568.87 L318.77,568.90 L319.59,568.92 L320.40,568.95 L321.21,568.97 L322.03,568.99 L322.84,569.00 L323.65,569.02 L324.47,569.03 L325.28,569.04 L326.09,569.05 L326.90,569.06 L327.72,569.07 L328.53,569.08 L329.34,569.08 L330.16,569.09 L330.97,569.10 L331.78,569.10 L332.60,569.11 L333.41,569.11 L334.22,569.12 L335.03,569.12 L335.85,569.12 L336.66,569.13 L337.47,569.13 L338.29,569.14 L339.10,569.14 L339.91,569.14 L340.73,569.15 L341.54,569.15 L342.35,569.15 L343.17,569.16 L343.98,569.16 L344.79,569.16 L345.60,569.16 L346.42,569.17 L347.23,569.17 L348.04,569.17 L348.86,569.18 L349.67,569.18 L350.48,569.18 L351.30,569.18 L352.11,569.19 L352.92,569.19 L353.73,569.19 L354.55,569.19 L355.36,569.20 L356.17,569.20 L356.99,569.20 L357.80,569.20" fill="none" stroke="#000" stroke-width="2.7" stroke-linejoin="round" stroke-linecap="butt"/>
<path d="M114.70,456.52 L115.51,456.98 L116.33,457.44 L117.14,457.89 L117.95,458.35 L118.77,458.81 L119.58,459.27 L120.39,459.73 L121.20,460.19 L122.02,460.65 L122.83,461.11 L123.64,461.57 L124.46,462.03 L125.27,462.49 L126.08,462.95 L126.90,463.41 L127.71,463.87 L128.52,464.34 L129.33,464.80 L130.15,465.26 L130.96,465.72 L131.77,466.18 L132.59,466.64 L133.40,467.10 L134.21,467.56 L135.03,468.02 L135.84,468.48 L136.65,468.94 L137.47,469.41 L138.28,469.87 L139.09,470.33 L139.90,470.79 L140.72,471.25 L141.53,471.71 L142.34,472.17 L143.16,472.63 L143.97,473.09 L144.78,473.55 L145.60,474.01 L146.41,474.47 L147.22,474.93 L148.03,475.39 L148.85,475.85 L149.66,476.31 L150.47,476.77 L151.29,477.23 L152.10,477.69 L152.91,478.15 L153.73,478.61 L154.54,479.07 L155.35,479.53 L156.17,479.99 L156.98,480.45 L157.79,480.90 L158.60,481.36 L159.42,481.82 L160.23,482.28 L161.04,482.73 L161.86,483.19 L162.67,483.65 L163.48,484.10 L164.30,484.56 L165.11,485.02 L165.92,485.47 L166.73,485.93 L167.55,486.38 L168.36,486.84 L169.17,487.29 L169.99,487.75 L170.80,488.20 L171.61,488.65 L172.43,489.11 L173.24,489.56 L174.05,490.01 L174.87,490.47 L175.68,490.92 L176.49,491.37 L177.30,491.82 L178.12,492.27 L178.93,492.72 L179.74,493.17 L180.56,493.62 L181.37,494.07 L182.18,494.52 L183.00,494.96 L183.81,495.41 L184.62,495.86 L185.43,496.31 L186.25,496.75 L187.06,497.20 L187.87,497.64 L188.69,498.09 L189.50,498.53 L190.31,498.98 L191.13,499.42 L191.94,499.86 L192.75,500.30 L193.57,500.75 L194.38,501.19 L195.19,501.63 L196.00,502.07 L196.82,502.51 L197.63,502.94 L198.44,503.38 L199.26,503.82 L200.07,504.26 L200.88,504.69 L201.70,505.13 L202.51,505.56 L203.32,506.00 L204.13,506.43 L204.95,506.87 L205.76,507.30 L206.57,507.73 L207.39,508.16 L208.20,508.59 L209.01,509.02 L209.83,509.45 L210.64,509.88 L211.45,510.31 L212.27,510.73 L213.08,511.16 L213.89,511.59 L214.70,512.01 L215.52,512.43 L216.33,512.86 L217.14,513.28 L217.96,513.70 L218.77,514.12 L219.58,514.54 L220.40,514.96 L221.21,515.38 L222.02,515.80 L222.83,516.22 L223.65,516.63 L224.46,517.05 L225.27,517.46 L226.09,517.88 L226.90,518.29 L227.71,518.70 L228.53,519.11 L229.34,519.52 L230.15,519.93 L230.97,520.34 L231.78,520.75 L232.59,521.15 L233.40,521.56 L234.22,521.96 L235.03,522.37 L235.84,522.77 L236.66,523.17 L237.47,523.57 L238.28,523.97 L239.10,524.37 L239.91,524.77 L240.72,525.17 L241.53,525.56 L242.35,525.96 L243.16,526.35 L243.97,526.74 L244.79,527.14 L245.60,527.53 L246.41,527.92 L247.23,528.31 L248.04,528.69 L248.85,529.08 L249.67,529.47 L250.48,529.85 L251.29,530.23 L252.10,530.62 L252.92,531.00 L253.73,531.38 L254.54,531.76 L255.36,532.13 L256.17,532.51 L256.98,532.89 L257.80,533.26 L258.61,533.63 L259.42,534.01 L260.23,534.38 L261.05,534.75 L261.86,535.12 L262.67,535.48 L263.49,535.85 L264.30,536.21 L265.11,536.58 L265.93,536.94 L266.74,537.30 L267.55,537.66 L268.37,538.02 L269.18,538.38 L269.99,538.74 L270.80,539.09 L271.62,539.44 L272.43,539.80 L273.24,540.15 L274.06,540.50 L274.87,540.85 L275.68,541.19 L276.50,541.54 L277.31,541.88 L278.12,542.23 L278.93,542.57 L279.75,542.91 L280.56,543.25 L281.37,543.59 L282.19,543.92 L283.00,544.26 L283.81,544.59 L284.63,544.92 L285.44,545.26 L286.25,545.58 L287.07,545.91 L287.88,546.24 L288.69,546.56 L289.50,546.89 L290.32,547.21 L291.13,547.53 L291.94,547.85 L292.76,548.17 L293.57,548.48 L294.38,548.80 L295.20,549.11 L296.01,549.42 L296.82,549.74 L297.63,550.04 L298.45,550.35 L299.26,550.66 L300.07,550.96 L300.89,551.26 L301.70,551.56 L302.51,551.86 L303.33,552.16 L304.14,552.46 L304.95,552.75 L305.77,553.05 L306.58,553.34 L307.39,553.63 L308.20,553.92 L309.02,554.20 L309.83,554.49 L310.64,554.77 L311.46,555.05 L312.27,555.33 L313.08,555.61 L313.90,555.89 L314.71,556.16 L315.52,556.44 L316.33,556.71 L317.15,556.98 L317.96,557.25 L318.77,557.51 L319.59,557.78 L320.40,558.04 L321.21,558.30 L322.03,558.56 L322.84,558.82 L323.65,559.07 L324.47,559.33 L325.28,559.58 L326.09,559.83 L326.90,560.08 L327.72,560.33 L328.53,560.57 L329.34,560.82 L330.16,561.06 L330.97,561.30 L331.78,561.53 L332.60,561.77 L333.41,562.00 L334.22,562.24 L335.03,562.47 L335.85,562.70 L336.66,562.92 L337.47,563.15 L338.29,563.37 L339.10,563.59 L339.91,563.81 L340.73,564.03 L341.54,564.24 L342.35,564.45 L343.17,564.67 L343.98,564.88 L344.79,565.08 L345.60,565.29 L346.42,565.49 L347.23,565.69 L348.04,565.89 L348.86,566.09 L349.67,566.28 L350.48,566.48 L351.30,566.67 L352.11,566.86 L352.92,567.04 L353.73,567.23 L354.55,567.41 L355.36,567.59 L356.17,567.77 L356.99,567.95 L357.80,568.12" fill="none" stroke="#00f" stroke-width="2.7" stroke-linejoin="round" stroke-linecap="butt"/>
<path d="M114.70,439.54 L115.51,439.94 L116.33,440.33 L117.14,440.73 L117.95,441.13 L118.77,441.53 L119.58,441.92 L120.39,442.32 L121.20,442.72 L122.02,443.12 L122.83,443.53 L123.64,443.93 L124.46,444.33 L125.27,444.73 L126.08,445.14 L126.90,445.54 L127.71,445.95 L128.52,446.35 L129.33,446.76 L130.15,447.17 L130.96,447.57 L131.77,447.98 L132.59,448.39 L133.40,448.80 L134.21,449.21 L135.03,449.62 L135.84,450.03 L136.65,450.44 L137.47,450.86 L138.28,451.27 L139.09,451.68 L139.90,452.10 L140.72,452.51 L141.53,452.93 L142.34,453.34 L143.16,453.76 L143.97,454.18 L144.78,454.59 L145.60,455.01 L146.41,455.43 L147.22,455.85 L148.03,456.27 L148.85,456.69 L149.66,457.11 L150.47,457.53 L151.29,457.95 L152.10,458.37 L152.91,458.79 L153.73,459.21 L154.54,459.64 L155.35,460.06 L156.17,460.49 L156.98,460.91 L157.79,461.33 L158.60,461.76 L159.42,462.19 L160.23,462.61 L161.04,463.04 L161.86,463.47 L162.67,463.89 L163.48,464.32 L164.30,464.75 L165.11,465.18 L165.92,465.61 L166.73,466.04 L167.55,466.47 L168.36,466.90 L169.17,467.33 L169.99,467.76 L170.80,468.19 L171.61,468.62 L172.43,469.05 L173.24,469.49 L174.05,469.92 L174.87,470.35 L175.68,470.79 L176.49,471.22 L177.30,471.65 L178.12,472.09 L178.93,472.52 L179.74,472.96 L180.56,473.39 L181.37,473.83 L182.18,474.27 L183.00,474.70 L183.81,475.14 L184.62,475.58 L185.43,476.01 L186.25,476.45 L187.06,476.89 L187.87,477.33 L188.69,477.77 L189.50,478.20 L190.31,478.64 L191.13,479.08 L191.94,479.52 L192.75,479.96 L193.57,480.40 L194.38,480.84 L195.19,481.28 L196.00,481.72 L196.82,482.16 L197.63,482.60 L198.44,483.05 L199.26,483.49 L200.07,483.93 L200.88,484.37 L201.70,484.81 L202.51,485.25 L203.32,485.70 L204.13,486.14 L204.95,486.58 L205.76,487.03 L206.57,487.47 L207.39,487.91 L208.20,488.35 L209.01,488.80 L209.83,489.24 L210.64,489.69 L211.45,490.13 L212.27,490.57 L213.08,491.02 L213.89,491.46 L214.70,491.91 L215.52,492.35 L216.33,492.80 L217.14,493.24 L217.96,493.68 L218.77,494.13 L219.58,494.57 L220.40,495.02 L221.21,495.46 L222.02,495.91 L222.83,496.36 L223.65,496.80 L224.46,497.25 L225.27,497.69 L226.09,498.14 L226.90,498.58 L227.71,499.03 L228.53,499.47 L229.34,499.92 L230.15,500.36 L230.97,500.81 L231.78,501.26 L232.59,501.70 L233.40,502.15 L234.22,502.59 L235.03,503.04 L235.84,503.48 L236.66,503.93 L237.47,504.38 L238.28,504.82 L239.10,505.27 L239.91,505.71 L240.72,506.16 L241.53,506.60 L242.35,507.05 L243.16,507.49 L243.97,507.94 L244.79,508.38 L245.60,508.83 L246.41,509.27 L247.23,509.72 L248.04,510.16 L248.85,510.61 L249.67,511.05 L250.48,511.50 L251.29,511.94 L252.10,512.39 L252.92,512.83 L253.73,513.28 L254.54,513.72 L255.36,514.16 L256.17,514.61 L256.98,515.05 L257.80,515.49 L258.61,515.94 L259.42,516.38 L260.23,516.82 L261.05,517.27 L261.86,517.71 L262.67,518.15 L263.49,518.60 L264.30,519.04 L265.11,519.48 L265.93,519.92 L266.74,520.36 L267.55,520.80 L268.37,521.25 L269.18,521.69 L269.99,522.13 L270.80,522.57 L271.62,523.01 L272.43,523.45 L273.24,523.89 L274.06,524.33 L274.87,524.77 L275.68,525.21 L276.50,525.65 L277.31,526.09 L278.12,526.52 L278.93,526.96 L279.75,527.40 L280.56,527.84 L281.37,528.28 L282.19,528.71 L283.00,529.15 L283.81,529.59 L284.63,530.02 L285.44,530.46 L286.25,530.89 L287.07,531.33 L287.88,531.76 L288.69,532.20 L289.50,532.63 L290.32,533.07 L291.13,533.50 L291.94,533.93 L292.76,534.37 L293.57,534.80 L294.38,535.23 L295.20,535.66 L296.01,536.10 L296.82,536.53 L297.63,536.96 L298.45,537.39 L299.26,537.82 L300.07,538.25 L300.89,538.68 L301.70,539.11 L302.51,539.53 L303.33,539.96 L304.14,540.39 L304.95,540.82 L305.77,541.24 L306.58,541.67 L307.39,542.10 L308.20,542.52 L309.02,542.95 L309.83,543.37 L310.64,543.80 L311.46,544.22 L312.27,544.64 L313.08,545.07 L313.90,545.49 L314.71,545.91 L315.52,546.33 L316.33,546.75 L317.15,547.17 L317.96,547.59 L318.77,548.01 L319.59,548.43 L320.40,548.85 L321.21,549.27 L322.03,549.69 L322.84,550.10 L323.65,550.52 L324.47,550.94 L325.28,551.35 L326.09,551.77 L326.90,552.18 L327.72,552.59 L328.53,553.01 L329.34,553.42 L330.16,553.83 L330.97,554.24 L331.78,554.65 L332.60,555.06 L333.41,555.47 L334.22,555.88 L335.03,556.29 L335.85,556.70 L336.66,557.11 L337.47,557.51 L338.29,557.92 L339.10,558.32 L339.91,558.73 L340.73,559.13 L341.54,559.54 L342.35,559.94 L343.17,560.34 L343.98,560.74 L344.79,561.14 L345.60,561.54 L346.42,561.94 L347.23,562.34 L348.04,562.74 L348.86,563.14 L349.67,563.54 L350.48,563.93 L351.30,564.33 L352.11,564.72 L352.92,565.12 L353.73,565.51 L354.55,565.90 L355.36,566.30 L356.17,566.69 L356.99,567.08 L357.80,567.47" fill="none" stroke="#f00" stroke-width="2.7" stroke-linejoin="round" stroke-linecap="butt"/>
<path d="M114.70,419.05 L115.51,419.44 L116.33,419.84 L117.14,420.24 L117.95,420.63 L118.77,421.02 L119.58,421.42 L120.39,421.81 L121.20,422.20 L122.02,422.60 L122.83,422.99 L123.64,423.38 L124.46,423.77 L125.27,424.16 L126.08,424.55 L126.90,424.94 L127.71,425.33 L128.52,425.71 L129.33,426.10 L130.15,426.49 L130.96,426.87 L131.77,427.26 L132.59,427.65 L133.40,428.03 L134.21,428.42 L135.03,428.80 L135.84,429.19 L136.65,429.57 L137.47,429.95 L138.28,430.34 L139.09,430.72 L139.90,431.10 L140.72,431.49 L141.53,431.87 L142.34,432.25 L143.16,432.63 L143.97,433.01 L144.78,433.40 L145.60,433.78 L146.41,434.16 L147.22,434.54 L148.03,434.92 L148.85,435.30 L149.66,435.68 L150.47,436.06 L151.29,436.44 L152.10,436.82 L152.91,437.20 L153.73,437.58 L154.54,437.96 L155.35,438.34 L156.17,438.72 L156.98,439.10 L157.79,439.47 L158.60,439.85 L159.42,440.23 L160.23,440.61 L161.04,440.99 L161.86,441.37 L162.67,441.75 L163.48,442.13 L164.30,442.51 L165.11,442.89 L165.92,443.27 L166.73,443.65 L167.55,444.03 L168.36,444.41 L169.17,444.79 L169.99,445.17 L170.80,445.55 L171.61,445.93 L172.43,446.31 L173.24,446.69 L174.05,447.07 L174.87,447.45 L175.68,447.83 L176.49,448.21 L177.30,448.59 L178.12,448.98 L178.93,449.36 L179.74,449.74 L180.56,450.12 L181.37,450.51 L182.18,450.89 L183.00,451.27 L183.81,451.66 L184.62,452.04 L185.43,452.43 L186.25,452.81 L187.06,453.20 L187.87,453.58 L188.69,453.97 L189.50,454.36 L190.31,454.74 L191.13,455.13 L191.94,455.52 L192.75,455.91 L193.57,456.30 L194.38,456.68 L195.19,457.07 L196.00,457.47 L196.82,457.86 L197.63,458.25 L198.44,458.64 L199.26,459.03 L200.07,459.42 L200.88,459.82 L201.70,460.21 L202.51,460.61 L203.32,461.00 L204.13,461.40 L204.95,461.80 L205.76,462.19 L206.57,462.59 L207.39,462.99 L208.20,463.39 L209.01,463.79 L209.83,464.19 L210.64,464.59 L211.45,464.99 L212.27,465.40 L213.08,465.80 L213.89,466.20 L214.70,466.61 L215.52,467.01 L216.33,467.42 L217.14,467.83 L217.96,468.24 L218.77,468.65 L219.58,469.06 L220.40,469.47 L221.21,469.88 L222.02,470.29 L222.83,470.70 L223.65,471.12 L224.46,471.53 L225.27,471.95 L226.09,472.37 L226.90,472.79 L227.71,473.20 L228.53,473.62 L229.34,474.05 L230.15,474.47 L230.97,474.89 L231.78,475.31 L232.59,475.74 L233.40,476.16 L234.22,476.59 L235.03,477.02 L235.84,477.45 L236.66,477.88 L237.47,478.31 L238.28,478.74 L239.10,479.18 L239.91,479.61 L240.72,480.05 L241.53,480.48 L242.35,480.92 L243.16,481.36 L243.97,481.80 L244.79,482.24 L245.60,482.69 L246.41,483.13 L247.23,483.58 L248.04,484.02 L248.85,484.47 L249.67,484.92 L250.48,485.37 L251.29,485.82 L252.10,486.27 L252.92,486.73 L253.73,487.18 L254.54,487.64 L255.36,488.10 L256.17,488.56 L256.98,489.02 L257.80,489.48 L258.61,489.95 L259.42,490.41 L260.23,490.88 L261.05,491.35 L261.86,491.82 L262.67,492.29 L263.49,492.76 L264.30,493.23 L265.11,493.71 L265.93,494.19 L266.74,494.66 L267.55,495.14 L268.37,495.63 L269.18,496.11 L269.99,496.59 L270.80,497.08 L271.62,497.57 L272.43,498.06 L273.24,498.55 L274.06,499.04 L274.87,499.53 L275.68,500.03 L276.50,500.53 L277.31,501.03 L278.12,501.53 L278.93,502.03 L279.75,502.53 L280.56,503.04 L281.37,503.55 L282.19,504.06 L283.00,504.57 L283.81,505.08 L284.63,505.59 L285.44,506.11 L286.25,506.63 L287.07,507.15 L287.88,507.67 L288.69,508.19 L289.50,508.72 L290.32,509.25 L291.13,509.78 L291.94,510.31 L292.76,510.84 L293.57,511.37 L294.38,511.91 L295.20,512.45 L296.01,512.99 L296.82,513.53 L297.63,514.08 L298.45,514.62 L299.26,515.17 L300.07,515.72 L300.89,516.27 L301.70,516.83 L302.51,517.39 L303.33,517.94 L304.14,518.50 L304.95,519.07 L305.77,519.63 L306.58,520.20 L307.39,520.77 L308.20,521.34 L309.02,521.91 L309.83,522.48 L310.64,523.06 L311.46,523.64 L312.27,524.22 L313.08,524.81 L313.90,525.39 L314.71,525.98 L315.52,526.57 L316.33,527.16 L317.15,527.76 L317.96,528.35 L318.77,528.95 L319.59,529.55 L320.40,530.16 L321.21,530.76 L322.03,531.37 L322.84,531.98 L323.65,532.60 L324.47,533.21 L325.28,533.83 L326.09,534.45 L326.90,535.07 L327.72,535.70 L328.53,536.32 L329.34,536.95 L330.16,537.58 L330.97,538.22 L331.78,538.85 L332.60,539.49 L333.41,540.14 L334.22,540.78 L335.03,541.43 L335.85,542.07 L336.66,542.73 L337.47,543.38 L338.29,544.04 L339.10,544.70 L339.91,545.36 L340.73,546.02 L341.54,546.69 L342.35,547.36 L343.17,548.03 L343.98,548.71 L344.79,549.38 L345.60,550.06 L346.42,550.74 L347.23,551.43 L348.04,552.12 L348.86,552.81 L349.67,553.50 L350.48,554.20 L351.30,554.90 L352.11,555.60 L352.92,556.30 L353.73,557.01 L354.55,557.72 L355.36,558.43 L356.17,559.15 L356.99,559.86 L357.80,560.58" fill="none" stroke="#0f0" stroke-width="2.7" stroke-linejoin="round" stroke-linecap="butt"/>
<rect x="111.5" y="356.7" width="250" height="220" fill="none" stroke="#000" stroke-width="2"/>
<line x1="102.5" y1="358.9" x2="111" y2="358.9" stroke="#000" stroke-width="2"/>
<line x1="102.5" y1="401.9" x2="111" y2="401.9" stroke="#000" stroke-width="2"/>
<line x1="102.5" y1="444.9" x2="111" y2="444.9" stroke="#000" stroke-width="2"/>
<line x1="102.5" y1="487.9" x2="111" y2="487.9" stroke="#000" stroke-width="2"/>
<line x1="102.5" y1="530.9" x2="111" y2="530.9" stroke="#000" stroke-width="2"/>
<line x1="102.5" y1="573.9" x2="111" y2="573.9" stroke="#000" stroke-width="2"/>
<line x1="118.55000000000004" y1="577" x2="118.55000000000004" y2="585" stroke="#000" stroke-width="2"/>
<line x1="198.4" y1="577" x2="198.4" y2="585" stroke="#000" stroke-width="2"/>
<line x1="278.25" y1="577" x2="278.25" y2="585" stroke="#000" stroke-width="2"/>
<line x1="358.1" y1="577" x2="358.1" y2="585" stroke="#000" stroke-width="2"/>
<line x1="158.47500000000002" y1="577" x2="158.47500000000002" y2="581.5" stroke="#000" stroke-width="2"/>
<line x1="238.32500000000005" y1="577" x2="238.32500000000005" y2="581.5" stroke="#000" stroke-width="2"/>
<line x1="318.175" y1="577" x2="318.175" y2="581.5" stroke="#000" stroke-width="2"/>
<text x="95.2" y="365.2" font-size="21.7" text-anchor="end">-0.5</text>
<text x="95.2" y="408.2" font-size="21.7" text-anchor="end">-0.4</text>
<text x="95.2" y="451.2" font-size="21.7" text-anchor="end">-0.3</text>
<text x="95.2" y="494.2" font-size="21.7" text-anchor="end">-0.2</text>
<text x="95.2" y="537.1999999999999" font-size="21.7" text-anchor="end">-0.1</text>
<text x="95.2" y="580.1999999999999" font-size="21.7" text-anchor="end">0.0</text>
<text x="121.05000000000004" y="604.5" font-size="21.7" text-anchor="middle">-0.30</text>
<text x="200.9" y="604.5" font-size="21.7" text-anchor="middle">-0.20</text>
<text x="280.75" y="604.5" font-size="21.7" text-anchor="middle">-0.10</text>
<text x="360.6" y="604.5" font-size="21.7" text-anchor="middle">0.00</text>
<text x="202.2" y="635.7" font-size="21" text-anchor="start">E-E<tspan font-size="13" dy="6.5">F</tspan><tspan dy="-6.5" dx="4"> (eV)</tspan></text>
<text x="0" y="0" font-size="22.6" text-anchor="start" transform="translate(20.7,507) rotate(-90)">ImΣ(eV)</text>
<text x="128.5" y="381" font-size="22" text-anchor="start">c</text>
<line x1="227.6" y1="370.7" x2="254.4" y2="370.7" stroke="#f00" stroke-width="2.1"/>
<line x1="227.6" y1="392.3" x2="254.4" y2="392.3" stroke="#00f" stroke-width="2.1"/>
<line x1="227.6" y1="416.9" x2="254.4" y2="416.9" stroke="#0f0" stroke-width="2.1"/>
<line x1="227.6" y1="441.8" x2="254.4" y2="441.8" stroke="#000" stroke-width="2.1"/>
<text x="261.5" y="375.5" font-size="17" text-anchor="start">k<tspan font-size="12" dy="3.5">F</tspan></text>
<text x="261.5" y="394.7" font-size="17" text-anchor="start" xml:space="preserve">k<tspan font-size="12" dy="3.5">F</tspan><tspan dy="-3.5">  - 0.1 </tspan><tspan dx="1.5">Å</tspan><tspan font-size="12" dy="-9" dx="0.5">-1</tspan></text>
<text x="261.5" y="418.9" font-size="17" text-anchor="start">k<tspan font-size="12" dy="3.5">F</tspan><tspan dy="-3.5"> + 0.1 </tspan><tspan dx="1.5">Å</tspan><tspan font-size="12" dy="-9" dx="0.5">-1</tspan></text>
<text x="262.5" y="444.6" font-size="17.5" text-anchor="start">Σ<tspan font-size="12" dy="3.5">e-ph</tspan></text>
<path d="M434.00,493.69 L434.82,493.47 L435.65,493.25 L436.47,493.03 L437.29,492.81 L438.12,492.58 L438.94,492.36 L439.76,492.13 L440.58,491.90 L441.41,491.67 L442.23,491.44 L443.05,491.21 L443.88,490.98 L444.70,490.75 L445.52,490.51 L446.35,490.27 L447.17,490.03 L447.99,489.80 L448.82,489.56 L449.64,489.31 L450.46,489.07 L451.28,488.83 L452.11,488.58 L452.93,488.33 L453.75,488.09 L454.58,487.84 L455.40,487.59 L456.22,487.33 L457.05,487.08 L457.87,486.83 L458.69,486.57 L459.52,486.31 L460.34,486.05 L461.16,485.80 L461.98,485.53 L462.81,485.27 L463.63,485.01 L464.45,484.75 L465.28,484.48 L466.10,484.21 L466.92,483.94 L467.75,483.67 L468.57,483.40 L469.39,483.13 L470.22,482.86 L471.04,482.58 L471.86,482.31 L472.68,482.03 L473.51,481.75 L474.33,481.47 L475.15,481.19 L475.98,480.91 L476.80,480.63 L477.62,480.34 L478.45,480.06 L479.27,479.77 L480.09,479.48 L480.92,479.19 L481.74,478.90 L482.56,478.61 L483.38,478.32 L484.21,478.02 L485.03,477.73 L485.85,477.43 L486.68,477.13 L487.50,476.83 L488.32,476.53 L489.15,476.23 L489.97,475.92 L490.79,475.62 L491.62,475.31 L492.44,475.01 L493.26,474.70 L494.08,474.39 L494.91,474.08 L495.73,473.76 L496.55,473.45 L497.38,473.14 L498.20,472.82 L499.02,472.50 L499.85,472.18 L500.67,471.86 L501.49,471.54 L502.32,471.22 L503.14,470.90 L503.96,470.57 L504.78,470.25 L505.61,469.92 L506.43,469.59 L507.25,469.26 L508.08,468.93 L508.90,468.60 L509.72,468.26 L510.55,467.93 L511.37,467.59 L512.19,467.26 L513.02,466.92 L513.84,466.58 L514.66,466.24 L515.48,465.89 L516.31,465.55 L517.13,465.21 L517.95,464.86 L518.78,464.51 L519.60,464.16 L520.42,463.81 L521.25,463.46 L522.07,463.11 L522.89,462.76 L523.72,462.40 L524.54,462.04 L525.36,461.69 L526.18,461.33 L527.01,460.97 L527.83,460.61 L528.65,460.24 L529.48,459.88 L530.30,459.52 L531.12,459.15 L531.95,458.78 L532.77,458.41 L533.59,458.04 L534.42,457.67 L535.24,457.30 L536.06,456.93 L536.88,456.55 L537.71,456.17 L538.53,455.80 L539.35,455.42 L540.18,455.04 L541.00,454.66 L541.82,454.27 L542.65,453.89 L543.47,453.50 L544.29,453.12 L545.12,452.73 L545.94,452.34 L546.76,451.95 L547.58,451.56 L548.41,451.17 L549.23,450.77 L550.05,450.38 L550.88,449.98 L551.70,449.58 L552.52,449.18 L553.35,448.78 L554.17,448.38 L554.99,447.98 L555.82,447.58 L556.64,447.17 L557.46,446.76 L558.28,446.36 L559.11,445.95 L559.93,445.54 L560.75,445.13 L561.58,444.71 L562.40,444.30 L563.22,443.88 L564.05,443.47 L564.87,443.05 L565.69,442.63 L566.52,442.21 L567.34,441.79 L568.16,441.37 L568.98,440.94 L569.81,440.52 L570.63,440.09 L571.45,439.66 L572.28,439.23 L573.10,438.80 L573.92,438.37 L574.75,437.94 L575.57,437.50 L576.39,437.07 L577.22,436.63 L578.04,436.19 L578.86,435.75 L579.68,435.31 L580.51,434.87 L581.33,434.43 L582.15,433.98 L582.98,433.54 L583.80,433.09 L584.62,432.64 L585.45,432.20 L586.27,431.74 L587.09,431.29 L587.92,430.84 L588.74,430.39 L589.56,429.93 L590.38,429.47 L591.21,429.02 L592.03,428.56 L592.85,428.10 L593.68,427.63 L594.50,427.17 L595.32,426.71 L596.15,426.24 L596.97,425.77 L597.79,425.31 L598.62,424.84 L599.44,424.37 L600.26,423.89 L601.08,423.42 L601.91,422.95 L602.73,422.47 L603.55,421.99 L604.38,421.52 L605.20,421.04 L606.02,420.56 L606.85,420.07 L607.67,419.59 L608.49,419.11 L609.32,418.62 L610.14,418.13 L610.96,417.65 L611.78,417.16 L612.61,416.67 L613.43,416.17 L614.25,415.68 L615.08,415.19 L615.90,414.69 L616.72,414.19 L617.55,413.69 L618.37,413.20 L619.19,412.69 L620.02,412.19 L620.84,411.69 L621.66,411.18 L622.48,410.68 L623.31,410.17 L624.13,409.66 L624.95,409.15 L625.78,408.64 L626.60,408.13 L627.42,407.62 L628.25,407.10 L629.07,406.59 L629.89,406.07 L630.72,405.55 L631.54,405.03 L632.36,404.51 L633.18,403.99 L634.01,403.47 L634.83,402.94 L635.65,402.41 L636.48,401.89 L637.30,401.36 L638.12,400.83 L638.95,400.30 L639.77,399.77 L640.59,399.23 L641.42,398.70 L642.24,398.16 L643.06,397.62 L643.88,397.09 L644.71,396.55 L645.53,396.01 L646.35,395.46 L647.18,394.92 L648.00,394.37 L648.82,393.83 L649.65,393.28 L650.47,392.73 L651.29,392.18 L652.12,391.63 L652.94,391.08 L653.76,390.53 L654.58,389.97 L655.41,389.42 L656.23,388.86 L657.05,388.30 L657.88,387.74 L658.70,387.18 L659.52,386.62 L660.35,386.05 L661.17,385.49 L661.99,384.92 L662.82,384.35 L663.64,383.79 L664.46,383.22 L665.28,382.64 L666.11,382.07 L666.93,381.50 L667.75,380.92 L668.58,380.35 L669.40,379.77 L670.22,379.19 L671.05,378.61 L671.87,378.03 L672.69,377.45 L673.52,376.86 L674.34,376.28 L675.16,375.69 L675.98,375.10 L676.81,374.52 L677.63,373.93 L678.45,373.33 L679.28,372.74 L680.10,372.15" fill="none" stroke="#0f0" stroke-width="2.7" stroke-linejoin="round" stroke-linecap="butt"/>
<path d="M434.00,536.57 L434.82,536.35 L435.65,536.12 L436.47,535.90 L437.29,535.68 L438.12,535.46 L438.94,535.24 L439.76,535.02 L440.58,534.79 L441.41,534.57 L442.23,534.35 L443.05,534.12 L443.88,533.90 L444.70,533.67 L445.52,533.45 L446.35,533.22 L447.17,532.99 L447.99,532.77 L448.82,532.54 L449.64,532.31 L450.46,532.08 L451.28,531.85 L452.11,531.62 L452.93,531.39 L453.75,531.16 L454.58,530.93 L455.40,530.70 L456.22,530.46 L457.05,530.23 L457.87,529.99 L458.69,529.76 L459.52,529.52 L460.34,529.28 L461.16,529.05 L461.98,528.81 L462.81,528.57 L463.63,528.33 L464.45,528.08 L465.28,527.84 L466.10,527.60 L466.92,527.35 L467.75,527.11 L468.57,526.86 L469.39,526.62 L470.22,526.37 L471.04,526.12 L471.86,525.87 L472.68,525.62 L473.51,525.36 L474.33,525.11 L475.15,524.86 L475.98,524.60 L476.80,524.34 L477.62,524.08 L478.45,523.83 L479.27,523.56 L480.09,523.30 L480.92,523.04 L481.74,522.78 L482.56,522.51 L483.38,522.24 L484.21,521.98 L485.03,521.71 L485.85,521.44 L486.68,521.16 L487.50,520.89 L488.32,520.62 L489.15,520.34 L489.97,520.06 L490.79,519.78 L491.62,519.50 L492.44,519.22 L493.26,518.94 L494.08,518.65 L494.91,518.37 L495.73,518.08 L496.55,517.79 L497.38,517.50 L498.20,517.20 L499.02,516.91 L499.85,516.61 L500.67,516.32 L501.49,516.02 L502.32,515.72 L503.14,515.41 L503.96,515.11 L504.78,514.80 L505.61,514.49 L506.43,514.18 L507.25,513.87 L508.08,513.56 L508.90,513.25 L509.72,512.93 L510.55,512.61 L511.37,512.29 L512.19,511.97 L513.02,511.64 L513.84,511.32 L514.66,510.99 L515.48,510.66 L516.31,510.33 L517.13,509.99 L517.95,509.66 L518.78,509.32 L519.60,508.98 L520.42,508.63 L521.25,508.29 L522.07,507.94 L522.89,507.60 L523.72,507.25 L524.54,506.89 L525.36,506.54 L526.18,506.18 L527.01,505.82 L527.83,505.46 L528.65,505.10 L529.48,504.73 L530.30,504.36 L531.12,503.99 L531.95,503.62 L532.77,503.24 L533.59,502.87 L534.42,502.49 L535.24,502.10 L536.06,501.72 L536.88,501.33 L537.71,500.94 L538.53,500.55 L539.35,500.16 L540.18,499.76 L541.00,499.36 L541.82,498.96 L542.65,498.55 L543.47,498.15 L544.29,497.74 L545.12,497.33 L545.94,496.91 L546.76,496.50 L547.58,496.08 L548.41,495.65 L549.23,495.23 L550.05,494.80 L550.88,494.37 L551.70,493.94 L552.52,493.50 L553.35,493.06 L554.17,492.62 L554.99,492.18 L555.82,491.73 L556.64,491.28 L557.46,490.83 L558.28,490.37 L559.11,489.91 L559.93,489.45 L560.75,488.99 L561.58,488.52 L562.40,488.05 L563.22,487.58 L564.05,487.10 L564.87,486.62 L565.69,486.14 L566.52,485.66 L567.34,485.17 L568.16,484.68 L568.98,484.19 L569.81,483.69 L570.63,483.19 L571.45,482.68 L572.28,482.18 L573.10,481.67 L573.92,481.16 L574.75,480.64 L575.57,480.12 L576.39,479.60 L577.22,479.07 L578.04,478.54 L578.86,478.01 L579.68,477.48 L580.51,476.94 L581.33,476.40 L582.15,475.85 L582.98,475.30 L583.80,474.75 L584.62,474.19 L585.45,473.63 L586.27,473.07 L587.09,472.51 L587.92,471.94 L588.74,471.36 L589.56,470.79 L590.38,470.21 L591.21,469.62 L592.03,469.04 L592.85,468.45 L593.68,467.85 L594.50,467.26 L595.32,466.65 L596.15,466.05 L596.97,465.44 L597.79,464.83 L598.62,464.21 L599.44,463.59 L600.26,462.97 L601.08,462.34 L601.91,461.71 L602.73,461.08 L603.55,460.44 L604.38,459.80 L605.20,459.15 L606.02,458.50 L606.85,457.85 L607.67,457.19 L608.49,456.53 L609.32,455.86 L610.14,455.19 L610.96,454.52 L611.78,453.84 L612.61,453.16 L613.43,452.47 L614.25,451.78 L615.08,451.09 L615.90,450.39 L616.72,449.69 L617.55,448.99 L618.37,448.28 L619.19,447.56 L620.02,446.85 L620.84,446.12 L621.66,445.40 L622.48,444.67 L623.31,443.93 L624.13,443.19 L624.95,442.45 L625.78,441.70 L626.60,440.95 L627.42,440.19 L628.25,439.43 L629.07,438.67 L629.89,437.90 L630.72,437.13 L631.54,436.35 L632.36,435.57 L633.18,434.78 L634.01,433.99 L634.83,433.20 L635.65,432.40 L636.48,431.59 L637.30,430.78 L638.12,429.97 L638.95,429.15 L639.77,428.33 L640.59,427.50 L641.42,426.67 L642.24,425.83 L643.06,424.99 L643.88,424.15 L644.71,423.30 L645.53,422.44 L646.35,421.58 L647.18,420.72 L648.00,419.85 L648.82,418.98 L649.65,418.10 L650.47,417.22 L651.29,416.33 L652.12,415.44 L652.94,414.54 L653.76,413.64 L654.58,412.73 L655.41,411.82 L656.23,410.90 L657.05,409.98 L657.88,409.05 L658.70,408.12 L659.52,407.18 L660.35,406.24 L661.17,405.29 L661.99,404.34 L662.82,403.39 L663.64,402.42 L664.46,401.46 L665.28,400.48 L666.11,399.51 L666.93,398.53 L667.75,397.54 L668.58,396.55 L669.40,395.55 L670.22,394.55 L671.05,393.54 L671.87,392.52 L672.69,391.51 L673.52,390.48 L674.34,389.45 L675.16,388.42 L675.98,387.38 L676.81,386.33 L677.63,385.28 L678.45,384.23 L679.28,383.17 L680.10,382.10" fill="none" stroke="#00f" stroke-width="2.7" stroke-linejoin="round" stroke-linecap="butt"/>
<path d="M434.00,571.47 L434.82,571.46 L435.65,571.46 L436.47,571.45 L437.29,571.44 L438.12,571.43 L438.94,571.43 L439.76,571.42 L440.58,571.41 L441.41,571.41 L442.23,571.40 L443.05,571.39 L443.88,571.38 L444.70,571.38 L445.52,571.37 L446.35,571.36 L447.17,571.36 L447.99,571.35 L448.82,571.34 L449.64,571.33 L450.46,571.33 L451.28,571.32 L452.11,571.31 L452.93,571.30 L453.75,571.30 L454.58,571.29 L455.40,571.28 L456.22,571.27 L457.05,571.27 L457.87,571.26 L458.69,571.25 L459.52,571.24 L460.34,571.23 L461.16,571.23 L461.98,571.22 L462.81,571.21 L463.63,571.20 L464.45,571.20 L465.28,571.19 L466.10,571.18 L466.92,571.17 L467.75,571.16 L468.57,571.16 L469.39,571.15 L470.22,571.14 L471.04,571.13 L471.86,571.12 L472.68,571.11 L473.51,571.11 L474.33,571.10 L475.15,571.09 L475.98,571.08 L476.80,571.07 L477.62,571.06 L478.45,571.05 L479.27,571.05 L480.09,571.04 L480.92,571.03 L481.74,571.02 L482.56,571.01 L483.38,571.00 L484.21,570.99 L485.03,570.98 L485.85,570.97 L486.68,570.96 L487.50,570.95 L488.32,570.94 L489.15,570.93 L489.97,570.92 L490.79,570.91 L491.62,570.90 L492.44,570.89 L493.26,570.88 L494.08,570.87 L494.91,570.86 L495.73,570.85 L496.55,570.84 L497.38,570.83 L498.20,570.82 L499.02,570.81 L499.85,570.80 L500.67,570.79 L501.49,570.78 L502.32,570.76 L503.14,570.75 L503.96,570.74 L504.78,570.73 L505.61,570.72 L506.43,570.70 L507.25,570.69 L508.08,570.68 L508.90,570.66 L509.72,570.65 L510.55,570.64 L511.37,570.62 L512.19,570.61 L513.02,570.60 L513.84,570.58 L514.66,570.57 L515.48,570.55 L516.31,570.54 L517.13,570.52 L517.95,570.51 L518.78,570.49 L519.60,570.48 L520.42,570.46 L521.25,570.44 L522.07,570.43 L522.89,570.41 L523.72,570.39 L524.54,570.37 L525.36,570.35 L526.18,570.34 L527.01,570.32 L527.83,570.30 L528.65,570.28 L529.48,570.26 L530.30,570.24 L531.12,570.22 L531.95,570.19 L532.77,570.17 L533.59,570.15 L534.42,570.13 L535.24,570.10 L536.06,570.08 L536.88,570.06 L537.71,570.03 L538.53,570.01 L539.35,569.98 L540.18,569.95 L541.00,569.93 L541.82,569.90 L542.65,569.87 L543.47,569.84 L544.29,569.81 L545.12,569.78 L545.94,569.75 L546.76,569.72 L547.58,569.68 L548.41,569.65 L549.23,569.62 L550.05,569.58 L550.88,569.54 L551.70,569.51 L552.52,569.47 L553.35,569.43 L554.17,569.39 L554.99,569.35 L555.82,569.31 L556.64,569.26 L557.46,569.22 L558.28,569.17 L559.11,569.13 L559.93,569.08 L560.75,569.03 L561.58,568.98 L562.40,568.93 L563.22,568.87 L564.05,568.82 L564.87,568.76 L565.69,568.71 L566.52,568.65 L567.34,568.59 L568.16,568.52 L568.98,568.46 L569.81,568.39 L570.63,568.33 L571.45,568.26 L572.28,568.19 L573.10,568.11 L573.92,568.04 L574.75,567.96 L575.57,567.88 L576.39,567.80 L577.22,567.71 L578.04,567.63 L578.86,567.54 L579.68,567.45 L580.51,567.35 L581.33,567.26 L582.15,567.16 L582.98,567.05 L583.80,566.95 L584.62,566.84 L585.45,566.73 L586.27,566.61 L587.09,566.50 L587.92,566.37 L588.74,566.25 L589.56,566.12 L590.38,565.99 L591.21,565.85 L592.03,565.71 L592.85,565.57 L593.68,565.42 L594.50,565.27 L595.32,565.11 L596.15,564.95 L596.97,564.78 L597.79,564.61 L598.62,564.43 L599.44,564.25 L600.26,564.07 L601.08,563.87 L601.91,563.68 L602.73,563.47 L603.55,563.26 L604.38,563.04 L605.20,562.82 L606.02,562.59 L606.85,562.36 L607.67,562.11 L608.49,561.86 L609.32,561.60 L610.14,561.34 L610.96,561.07 L611.78,560.78 L612.61,560.49 L613.43,560.20 L614.25,559.89 L615.08,559.57 L615.90,559.24 L616.72,558.91 L617.55,558.56 L618.37,558.21 L619.19,557.84 L620.02,557.46 L620.84,557.07 L621.66,556.67 L622.48,556.25 L623.31,555.83 L624.13,555.39 L624.95,554.94 L625.78,554.47 L626.60,553.99 L627.42,553.50 L628.25,552.99 L629.07,552.46 L629.89,551.92 L630.72,551.37 L631.54,550.79 L632.36,550.20 L633.18,549.59 L634.01,548.97 L634.83,548.32 L635.65,547.65 L636.48,546.97 L637.30,546.26 L638.12,545.53 L638.95,544.78 L639.77,544.01 L640.59,543.21 L641.42,542.39 L642.24,541.55 L643.06,540.68 L643.88,539.78 L644.71,538.85 L645.53,537.90 L646.35,536.92 L647.18,535.91 L648.00,534.86 L648.82,533.79 L649.65,532.68 L650.47,531.54 L651.29,530.37 L652.12,529.16 L652.94,527.91 L653.76,526.62 L654.58,525.30 L655.41,523.93 L656.23,522.52 L657.05,521.07 L657.88,519.58 L658.70,518.04 L659.52,516.45 L660.35,514.82 L661.17,513.13 L661.99,511.40 L662.82,509.61 L663.64,507.77 L664.46,505.87 L665.28,503.91 L666.11,501.89 L666.93,499.81 L667.75,497.67 L668.58,495.46 L669.40,493.19 L670.22,490.84 L671.05,488.43 L671.87,485.94 L672.69,483.37 L673.52,480.73 L674.34,478.01 L675.16,475.20 L675.98,472.30 L676.81,469.32 L677.63,466.25 L678.45,463.08 L679.28,459.82 L680.10,456.46" fill="none" stroke="#f00" stroke-width="2.7" stroke-linejoin="round" stroke-linecap="butt"/>
<path d="M430.8,357 L684,357 L684,577.3 L430.8,577.3 Z" fill="none" stroke="#000" stroke-width="2"/>
<line x1="422" y1="359.45000000000005" x2="430.8" y2="359.45000000000005" stroke="#000" stroke-width="2"/>
<line x1="422" y1="402.40000000000003" x2="430.8" y2="402.40000000000003" stroke="#000" stroke-width="2"/>
<line x1="422" y1="445.35" x2="430.8" y2="445.35" stroke="#000" stroke-width="2"/>
<line x1="422" y1="488.30000000000007" x2="430.8" y2="488.30000000000007" stroke="#000" stroke-width="2"/>
<line x1="422" y1="531.25" x2="430.8" y2="531.25" stroke="#000" stroke-width="2"/>
<line x1="422" y1="574.2" x2="430.8" y2="574.2" stroke="#000" stroke-width="2"/>
<line x1="490.40000000000003" y1="577" x2="490.40000000000003" y2="585.5" stroke="#000" stroke-width="2"/>
<line x1="566.6" y1="577" x2="566.6" y2="585.5" stroke="#000" stroke-width="2"/>
<line x1="642.8000000000001" y1="577" x2="642.8000000000001" y2="585.5" stroke="#000" stroke-width="2"/>
<line x1="452.3" y1="577" x2="452.3" y2="582.4" stroke="#000" stroke-width="2"/>
<line x1="528.5" y1="577" x2="528.5" y2="582.4" stroke="#000" stroke-width="2"/>
<line x1="604.7" y1="577" x2="604.7" y2="582.4" stroke="#000" stroke-width="2"/>
<line x1="680.9" y1="577" x2="680.9" y2="582.4" stroke="#000" stroke-width="2"/>
<text x="420.2" y="368.45000000000005" font-size="21.7" text-anchor="end">-0.5</text>
<text x="420.2" y="411.40000000000003" font-size="21.7" text-anchor="end">-0.4</text>
<text x="420.2" y="454.35" font-size="21.7" text-anchor="end">-0.3</text>
<text x="420.2" y="497.30000000000007" font-size="21.7" text-anchor="end">-0.2</text>
<text x="420.2" y="540.25" font-size="21.7" text-anchor="end">-0.1</text>
<text x="420.2" y="583.2" font-size="21.7" text-anchor="end">0.0</text>
<text x="490.8" y="608.6" font-size="22" text-anchor="middle">-0.2</text>
<text x="566.6" y="608.6" font-size="22" text-anchor="middle">0.0</text>
<text x="642.8000000000001" y="608.6" font-size="22" text-anchor="middle">0.2</text>
<text x="531.3" y="633.6" font-size="24" text-anchor="start">k-k<tspan font-size="14" dy="7">F</tspan><tspan dy="-7" dx="3.5">(Å</tspan><tspan font-size="12.5" dy="-9" dx="1">-1</tspan><tspan dy="9" dx="0.5">)</tspan></text>
<text x="439.2" y="379.1" font-size="22" text-anchor="start">d</text>
<line x1="463" y1="371.1" x2="493.7" y2="371.1" stroke="#f00" stroke-width="2.1"/>
<line x1="463" y1="393.4" x2="493.7" y2="393.4" stroke="#00f" stroke-width="2.1"/>
<line x1="463" y1="414.1" x2="493.7" y2="414.1" stroke="#0f0" stroke-width="2.1"/>
<text x="510.3" y="376.9" font-size="20" text-anchor="start">E<tspan font-size="11.5" dy="6" dx="0.8">F</tspan></text>
<text x="510.3" y="398.3" font-size="19.5" text-anchor="start">200 meV</text>
<text x="510.3" y="417.6" font-size="19.5" text-anchor="start">300 meV</text>
</svg></body></html>
